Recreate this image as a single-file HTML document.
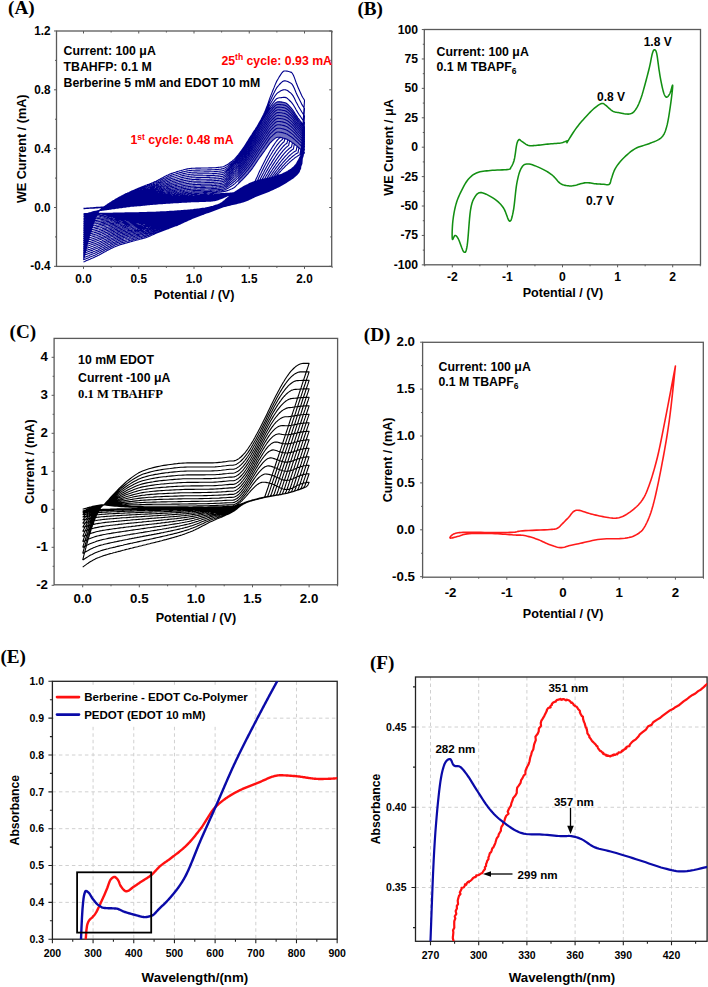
<!DOCTYPE html>
<html><head><meta charset="utf-8"><style>
html,body{margin:0;padding:0;background:#fff;}
body{width:708px;height:987px;overflow:hidden;font-family:"Liberation Sans", sans-serif;}
svg{display:block;}
</style></head><body>
<svg width="708" height="987" viewBox="0 0 708 987">
<rect width="708" height="987" fill="#fff"/>
<path d="M238.2 160.2L239.3 158.9L240.4 157.5L241.5 156.1L242.6 154.6L243.7 153.0L244.8 151.3L245.9 149.5L247.0 147.7L248.1 145.8L249.2 143.8L250.3 141.9L251.3 140.0L252.4 138.2L253.5 136.2L254.6 134.3L255.7 132.4L256.8 130.4L257.9 128.5L259.0 126.6L260.1 124.7L261.2 122.8L262.3 121.0L263.4 119.3L264.5 117.4L265.6 115.6L266.7 113.8L267.8 112.0L268.9 110.4L270.0 109.0L271.1 107.7L272.2 106.7L273.3 105.6L274.4 104.6L275.5 103.6L276.5 102.7L277.6 102.0L278.7 101.5L279.8 101.3L280.9 101.3L282.0 101.5L283.1 101.9L284.2 102.4L285.3 103.0L286.4 103.6L287.5 104.3L288.6 105.0L289.7 106.1L290.8 107.4L291.9 109.0L293.0 110.6L294.1 112.3L295.2 114.0L296.3 115.6L297.4 117.1L298.5 118.6L299.6 120.0L300.7 121.5L301.7 122.9L302.8 124.4L302.8 151.4L301.7 150.3L300.7 149.4L299.6 148.4L298.5 147.4L297.4 146.5L296.3 145.5L295.2 144.6L294.1 143.8L293.0 143.0L291.9 142.3L290.8 141.5L289.7 140.8L288.6 140.1L287.5 139.5L286.4 139.0L285.3 138.7L284.2 138.4L283.1 138.1L282.0 137.8L280.9 137.5L279.8 137.3L278.7 137.2L277.6 137.2L276.5 137.4L275.5 138.1L274.4 138.9L273.3 139.8L272.2 140.8L271.1 142.0L270.0 143.4L268.9 144.9L267.8 146.4L266.7 147.9L265.6 149.4L264.5 150.9L263.4 152.4L262.3 153.9L261.2 155.4L260.1 157.0L259.0 158.5L257.9 160.1L256.8 161.6L255.7 163.3L254.6 164.9L253.5 166.5L252.4 168.1L251.3 169.6L250.3 171.0L249.2 172.3L248.1 173.6L247.0 174.8L245.9 176.0L244.8 177.2L243.7 178.4L242.6 179.5L241.5 180.6L240.4 181.7L239.3 182.7L238.2 183.7Z" fill="#00008c" fill-opacity="0.55" stroke="none"/><path d="M83.5 208.4L84.7 208.3L85.9 208.2L87.0 208.1L88.2 208.0L89.4 208.0L90.6 207.9L91.8 207.8L92.9 207.7L94.1 207.6L95.3 207.5L96.5 207.4L97.6 207.3L98.8 207.3L100.0 207.2L101.2 207.1L102.1 207.1L103.0 207.0L104.0 206.9L104.9 206.8L105.8 206.7L106.8 206.7L107.7 206.6L108.6 206.6L109.5 206.5L110.5 206.5L111.4 206.5L112.3 206.4L113.2 206.4L114.2 206.4L115.1 206.4L116.0 206.4L117.0 206.4L117.9 206.4L118.8 206.4L119.7 206.4L120.7 206.4L121.6 206.4L122.5 206.4L123.5 206.4L124.4 206.4L125.3 206.4L126.2 206.4L127.2 206.3L128.1 206.3L129.0 206.3L130.0 206.3L130.9 206.2L131.8 206.2L132.7 206.1L133.7 206.1L134.6 206.0L135.5 206.0L136.5 205.9L137.4 205.8L138.3 205.7L139.2 205.7L140.2 205.6L141.1 205.5L142.0 205.4L143.0 205.3L143.9 205.2L144.8 205.1L145.7 205.0L146.7 204.9L147.6 204.8L148.5 204.7L149.5 204.6L150.4 204.5L151.3 204.5L152.2 204.4L153.2 204.3L154.1 204.2L155.0 204.1L156.0 204.1L156.9 204.0L157.8 203.9L158.7 203.8L159.7 203.8L160.6 203.7L161.5 203.6L162.5 203.6L163.4 203.5L164.3 203.4L165.2 203.4L166.2 203.3L167.1 203.3L168.0 203.2L169.0 203.1L169.9 203.1L170.8 203.0L171.7 203.0L172.7 202.9L173.6 202.8L174.5 202.8L175.5 202.7L176.4 202.7L177.3 202.6L178.2 202.6L179.2 202.5L180.1 202.4L181.0 202.4L182.0 202.3L182.9 202.3L183.8 202.2L184.7 202.2L185.7 202.1L186.6 202.1L187.5 202.0L188.4 202.0L189.4 201.9L190.3 201.9L191.2 201.8L192.2 201.8L193.1 201.8L194.0 201.7L194.9 201.7L195.9 201.6L196.8 201.6L197.7 201.6L198.7 201.6L199.6 201.5L200.5 201.5L201.4 201.5L202.4 201.5L203.3 201.4L204.2 201.4L205.2 201.4L206.1 201.3L207.0 201.3L207.9 201.3L208.9 201.2L209.8 201.2L210.7 201.1L211.7 201.0L212.6 200.9L213.5 200.8L214.4 200.6L215.4 200.4L216.3 200.2L217.2 199.9L218.2 199.6L219.1 199.3L220.0 199.0L220.9 198.6L221.9 198.3L222.8 197.9L223.7 197.5L224.7 197.1L225.6 196.7L226.5 196.3L227.4 195.8L228.4 195.4L229.3 194.9L230.2 194.5L231.2 194.0L232.1 193.6L233.0 193.2L233.9 192.7L234.9 192.2L235.8 191.7L236.7 191.1L237.7 190.5L238.6 189.9L239.5 189.3L240.4 188.7L241.4 188.1L242.3 187.5L243.2 187.0L244.2 186.5L245.1 185.9L246.0 185.4L246.9 184.9L247.9 184.4L248.8 184.0L249.7 183.5L250.7 183.1L251.6 182.8L252.5 182.4L253.4 182.1L254.4 181.7L255.3 181.4L256.2 181.1L257.2 180.8L258.1 180.6L259.0 180.3L259.9 180.1L260.9 179.9L261.8 179.6L262.7 179.5L263.7 179.3L264.6 179.1L265.5 178.9L266.4 178.7L267.4 178.5L268.3 178.2L269.2 178.0L270.1 177.8L271.1 177.5L272.0 177.3L272.9 177.0L273.9 176.8L274.8 176.5L275.7 176.2L276.6 175.6L277.6 174.5L278.5 173.5L279.4 172.5L280.4 171.5L281.3 170.5L282.2 169.5L283.1 168.5L284.1 167.6L285.0 166.6L285.9 165.7L286.9 164.8L287.8 163.9L288.7 163.1L289.6 162.2L290.6 161.4L291.5 160.6L292.4 159.8L293.4 159.1L294.3 158.3L295.2 157.6L296.1 157.0L297.1 156.4L298.0 155.8L298.9 155.3L299.9 154.8L300.8 149.5L301.7 150.3L302.6 151.2L303.6 152.0L304.5 152.9L303.2 151.2L301.9 153.7L300.6 156.1L299.3 158.4L298.0 160.9L296.7 163.2L295.3 165.2L294.0 166.6L292.7 167.8L291.4 168.9L290.1 169.8L288.8 170.6L287.5 171.4L286.2 172.1L284.9 172.7L283.6 173.3L282.3 173.9L281.0 174.4L279.7 174.9L278.3 175.4L277.0 175.8L275.7 176.2L274.4 176.6L273.1 177.0L271.8 177.4L270.5 177.7L269.2 178.0L267.9 178.3L266.6 178.6L265.3 178.9L264.0 179.2L262.7 179.5L261.3 179.8L260.0 180.1L258.7 180.4L257.4 180.7L256.1 181.1L254.8 181.5L253.5 182.0L252.2 182.5L250.9 183.0L249.6 183.6L248.3 184.3L247.0 184.9L245.7 185.6L244.3 186.3L243.0 187.1L241.7 187.9L240.4 188.6L239.1 189.4L237.8 190.2L236.5 191.1L235.2 191.9L233.9 192.7L232.6 193.6L231.3 194.6L230.0 195.7L228.7 196.9L227.3 198.1L226.0 199.2L224.7 200.4L223.4 201.5L222.1 202.5L220.8 203.3L219.5 204.1L218.2 204.6L216.9 205.0L215.6 205.4L214.3 205.8L213.0 206.2L211.7 206.5L210.3 206.9L209.0 207.2L207.7 207.5L206.4 207.7L205.1 208.0L203.8 208.2L202.5 208.4L201.2 208.6L199.9 208.8L198.6 209.0L197.3 209.1L196.0 209.3L194.7 209.4L193.3 209.6L192.0 209.7L190.7 209.8L189.4 210.0L188.1 210.1L186.8 210.2L185.5 210.3L184.2 210.4L182.9 210.5L181.6 210.6L180.3 210.7L179.0 210.8L177.7 210.9L176.3 211.0L175.0 211.1L173.7 211.2L172.4 211.3L171.1 211.4L169.8 211.4L168.5 211.5L167.2 211.6L165.9 211.7L164.6 211.7L163.3 211.8L162.0 211.9L160.7 211.9L159.3 212.0L158.0 212.0L156.7 212.1L155.4 212.2L154.1 212.2L152.8 212.3L151.5 212.3L150.2 212.3L148.9 212.4L147.6 212.4L146.3 212.5L145.0 212.5L143.7 212.5L142.3 212.6L141.0 212.6L139.7 212.6L138.4 212.7L137.1 212.7L135.8 212.7L134.5 212.8L133.2 212.8L131.9 212.8L130.6 212.8L129.3 212.9L128.0 212.9L126.7 212.9L125.3 212.9L124.0 213.0L122.7 213.0L121.4 213.0L120.1 213.0L118.8 213.1L117.5 213.1L116.2 213.1L114.9 213.1L113.6 213.1L112.3 213.2L111.0 213.2L109.7 213.2L108.3 213.2L107.0 213.2L105.7 213.2L104.4 213.2L103.1 213.3L101.8 213.3L100.5 213.3L99.2 213.3L97.9 213.3L96.6 213.3L95.3 213.4L94.0 213.4L92.7 213.4L91.3 213.5L90.0 213.5L88.7 213.5L87.4 213.6L86.1 213.6L84.8 213.6L83.5 213.7M83.5 208.7L84.7 208.6L85.9 208.5L87.0 208.5L88.2 208.4L89.4 208.3L90.6 208.3L91.8 208.2L92.9 208.1L94.1 208.1L95.3 208.0L96.5 207.9L97.6 207.9L98.8 207.8L100.0 207.7L101.2 207.7L102.1 207.7L103.0 207.5L104.0 207.4L104.9 207.4L105.8 207.3L106.8 207.2L107.7 207.1L108.6 207.0L109.5 207.0L110.5 206.9L111.4 206.9L112.3 206.8L113.2 206.8L114.2 206.8L115.1 206.7L116.0 206.7L117.0 206.7L117.9 206.7L118.8 206.6L119.7 206.6L120.7 206.6L121.6 206.6L122.5 206.5L123.5 206.5L124.4 206.5L125.3 206.4L126.2 206.4L127.2 206.4L128.1 206.3L129.0 206.3L130.0 206.2L130.9 206.2L131.8 206.1L132.7 206.1L133.7 206.0L134.6 205.9L135.5 205.9L136.5 205.8L137.4 205.7L138.3 205.6L139.2 205.5L140.2 205.4L141.1 205.3L142.0 205.2L143.0 205.1L143.9 205.0L144.8 204.9L145.7 204.8L146.7 204.7L147.6 204.6L148.5 204.5L149.5 204.5L150.4 204.4L151.3 204.3L152.2 204.2L153.2 204.1L154.1 204.0L155.0 204.0L156.0 203.9L156.9 203.8L157.8 203.7L158.7 203.6L159.7 203.6L160.6 203.5L161.5 203.4L162.5 203.4L163.4 203.3L164.3 203.2L165.2 203.2L166.2 203.1L167.1 203.0L168.0 203.0L169.0 202.9L169.9 202.8L170.8 202.8L171.7 202.7L172.7 202.7L173.6 202.6L174.5 202.5L175.5 202.5L176.4 202.4L177.3 202.4L178.2 202.3L179.2 202.2L180.1 202.2L181.0 202.1L182.0 202.1L182.9 202.0L183.8 202.0L184.7 201.9L185.7 201.9L186.6 201.8L187.5 201.8L188.4 201.7L189.4 201.7L190.3 201.6L191.2 201.6L192.2 201.5L193.1 201.5L194.0 201.5L194.9 201.4L195.9 201.4L196.8 201.3L197.7 201.3L198.7 201.3L199.6 201.3L200.5 201.2L201.4 201.2L202.4 201.2L203.3 201.2L204.2 201.1L205.2 201.1L206.1 201.1L207.0 201.0L207.9 201.0L208.9 201.0L209.8 200.9L210.7 200.8L211.7 200.8L212.6 200.7L213.5 200.5L214.4 200.3L215.4 200.1L216.3 199.9L217.2 199.7L218.2 199.4L219.1 199.1L220.0 198.8L220.9 198.5L221.9 198.1L222.8 197.8L223.7 197.4L224.7 197.0L225.6 196.6L226.5 196.2L227.4 195.8L228.4 195.3L229.3 194.9L230.2 194.5L231.2 194.0L232.1 193.6L233.0 193.1L233.9 192.7L234.9 192.2L235.8 191.7L236.7 191.1L237.7 190.5L238.6 189.9L239.5 189.3L240.4 188.6L241.4 188.1L242.3 187.5L243.2 187.0L244.2 186.5L245.1 185.9L246.0 185.4L246.9 184.9L247.9 184.4L248.8 184.0L249.7 183.6L250.7 183.2L251.6 182.8L252.5 182.4L253.4 182.1L254.4 181.7L255.3 181.4L256.2 181.1L257.2 180.8L258.1 180.5L259.0 180.3L259.9 180.1L260.9 179.9L261.8 179.7L262.7 179.5L263.7 179.3L264.6 179.1L265.5 178.9L266.4 178.7L267.4 178.4L268.3 178.2L269.2 178.0L270.1 177.7L271.1 177.5L272.0 177.3L272.9 177.0L273.9 176.8L274.8 175.6L275.7 174.4L276.6 173.3L277.6 172.2L278.5 171.0L279.4 169.9L280.4 168.8L281.3 167.8L282.2 166.7L283.1 165.7L284.1 164.7L285.0 163.7L285.9 162.7L286.9 161.7L287.8 160.8L288.7 159.9L289.6 159.0L290.6 158.2L291.5 157.3L292.4 156.5L293.4 155.8L294.3 155.1L295.2 154.4L296.1 153.8L297.1 153.2L298.0 152.8L298.9 147.8L299.9 148.7L300.8 149.5L301.7 150.3L302.6 151.2L303.6 152.0L304.5 152.9L303.2 151.3L301.9 153.8L300.6 156.3L299.3 158.6L298.0 161.1L296.7 163.4L295.3 165.3L294.0 166.7L292.7 168.0L291.4 169.0L290.1 169.9L288.8 170.8L287.5 171.5L286.2 172.2L284.9 172.9L283.6 173.5L282.3 174.0L281.0 174.5L279.7 175.0L278.3 175.5L277.0 176.0L275.7 176.4L274.4 176.8L273.1 177.2L271.8 177.5L270.5 177.9L269.2 178.2L267.9 178.5L266.6 178.8L265.3 179.1L264.0 179.4L262.7 179.7L261.3 179.9L260.0 180.2L258.7 180.6L257.4 180.9L256.1 181.3L254.8 181.7L253.5 182.2L252.2 182.7L250.9 183.3L249.6 183.8L248.3 184.5L247.0 185.1L245.7 185.8L244.3 186.5L243.0 187.3L241.7 188.0L240.4 188.8L239.1 189.6L237.8 190.4L236.5 191.2L235.2 192.1L233.9 192.9L232.6 193.8L231.3 194.7L230.0 195.8L228.7 197.0L227.3 198.2L226.0 199.3L224.7 200.5L223.4 201.5L222.1 202.5L220.8 203.4L219.5 204.1L218.2 204.7L216.9 205.1L215.6 205.5L214.3 205.9L213.0 206.3L211.7 206.6L210.3 206.9L209.0 207.2L207.7 207.5L206.4 207.8L205.1 208.1L203.8 208.3L202.5 208.5L201.2 208.7L199.9 208.9L198.6 209.1L197.3 209.2L196.0 209.4L194.7 209.5L193.3 209.7L192.0 209.8L190.7 209.9L189.4 210.1L188.1 210.2L186.8 210.3L185.5 210.5L184.2 210.6L182.9 210.7L181.6 210.8L180.3 210.9L179.0 211.0L177.7 211.1L176.3 211.2L175.0 211.3L173.7 211.4L172.4 211.5L171.1 211.6L169.8 211.7L168.5 211.7L167.2 211.8L165.9 211.9L164.6 212.0L163.3 212.0L162.0 212.1L160.7 212.2L159.3 212.2L158.0 212.3L156.7 212.4L155.4 212.4L154.1 212.5L152.8 212.5L151.5 212.6L150.2 212.6L148.9 212.7L147.6 212.7L146.3 212.8L145.0 212.8L143.7 212.9L142.3 212.9L141.0 213.0L139.7 213.0L138.4 213.0L137.1 213.1L135.8 213.1L134.5 213.2L133.2 213.2L131.9 213.2L130.6 213.3L129.3 213.3L128.0 213.4L126.7 213.4L125.3 213.4L124.0 213.5L122.7 213.5L121.4 213.6L120.1 213.6L118.8 213.7L117.5 213.7L116.2 213.7L114.9 213.8L113.6 213.8L112.3 213.9L111.0 213.9L109.7 214.0L108.3 214.0L107.0 214.1L105.7 214.1L104.4 214.2L103.1 214.2L101.8 214.3L100.5 214.3L99.2 214.4L97.9 214.4L96.6 214.5L95.3 214.5L94.0 214.6L92.7 214.7L91.3 214.7L90.0 214.8L88.7 214.8L87.4 214.9L86.1 215.0L84.8 215.0L83.5 215.1M83.5 215.1L84.7 214.6L85.9 214.2L87.0 213.7L88.2 213.3L89.4 212.9L90.6 212.6L91.8 212.2L92.9 211.9L94.1 211.6L95.3 211.3L96.5 211.1L97.6 210.8L98.8 210.6L100.0 210.5L101.2 210.4L102.1 210.3L103.0 210.1L104.0 210.0L104.9 209.9L105.8 209.7L106.8 209.6L107.7 209.5L108.6 209.4L109.5 209.2L110.5 209.1L111.4 209.0L112.3 208.8L113.2 208.7L114.2 208.6L115.1 208.5L116.0 208.3L117.0 208.2L117.9 208.1L118.8 208.0L119.7 207.8L120.7 207.7L121.6 207.6L122.5 207.5L123.5 207.3L124.4 207.2L125.3 207.1L126.2 207.0L127.2 206.8L128.1 206.7L129.0 206.6L130.0 206.4L130.9 206.3L131.8 206.2L132.7 206.1L133.7 205.9L134.6 205.8L135.5 205.7L136.5 205.6L137.4 205.5L138.3 205.4L139.2 205.3L140.2 205.1L141.1 205.0L142.0 204.9L143.0 204.8L143.9 204.7L144.8 204.6L145.7 204.5L146.7 204.4L147.6 204.3L148.5 204.2L149.5 204.2L150.4 204.1L151.3 204.0L152.2 203.9L153.2 203.8L154.1 203.7L155.0 203.6L156.0 203.5L156.9 203.5L157.8 203.4L158.7 203.3L159.7 203.2L160.6 203.1L161.5 203.1L162.5 203.0L163.4 202.9L164.3 202.8L165.2 202.8L166.2 202.7L167.1 202.6L168.0 202.5L169.0 202.5L169.9 202.4L170.8 202.3L171.7 202.3L172.7 202.2L173.6 202.2L174.5 202.1L175.5 202.0L176.4 202.0L177.3 201.9L178.2 201.8L179.2 201.8L180.1 201.7L181.0 201.7L182.0 201.6L182.9 201.6L183.8 201.5L184.7 201.4L185.7 201.4L186.6 201.3L187.5 201.3L188.4 201.2L189.4 201.2L190.3 201.1L191.2 201.1L192.2 201.0L193.1 201.0L194.0 201.0L194.9 200.9L195.9 200.9L196.8 200.9L197.7 200.8L198.7 200.8L199.6 200.8L200.5 200.8L201.4 200.7L202.4 200.7L203.3 200.7L204.2 200.6L205.2 200.6L206.1 200.6L207.0 200.6L207.9 200.5L208.9 200.5L209.8 200.4L210.7 200.4L211.7 200.3L212.6 200.2L213.5 200.0L214.4 199.9L215.4 199.7L216.3 199.5L217.2 199.3L218.2 199.0L219.1 198.7L220.0 198.5L220.9 198.1L221.9 197.8L222.8 197.5L223.7 197.1L224.7 196.8L225.6 196.4L226.5 196.0L227.4 195.6L228.4 195.2L229.3 194.8L230.2 194.4L231.2 194.0L232.1 193.6L233.0 193.1L233.9 192.7L234.9 192.2L235.8 191.7L236.7 191.1L237.7 190.5L238.6 189.9L239.5 189.2L240.4 188.6L241.4 188.1L242.3 187.5L243.2 187.0L244.2 186.5L245.1 185.9L246.0 185.4L246.9 184.9L247.9 184.5L248.8 184.0L249.7 183.6L250.7 183.2L251.6 182.8L252.5 182.4L253.4 182.0L254.4 181.7L255.3 181.4L256.2 181.1L257.2 180.8L258.1 180.6L259.0 180.3L259.9 180.1L260.9 179.9L261.8 179.7L262.7 179.5L263.7 179.3L264.6 179.0L265.5 178.8L266.4 178.6L267.4 178.4L268.3 178.2L269.2 178.0L270.1 177.8L271.1 177.6L272.0 176.7L272.9 175.5L273.9 174.2L274.8 172.9L275.7 171.7L276.6 170.5L277.6 169.3L278.5 168.1L279.4 166.9L280.4 165.7L281.3 164.6L282.2 163.5L283.1 162.4L284.1 161.3L285.0 160.3L285.9 159.3L286.9 158.3L287.8 157.3L288.7 156.4L289.6 155.5L290.6 154.7L291.5 153.9L292.4 153.1L293.4 152.4L294.3 151.7L295.2 151.2L296.1 150.8L297.1 146.2L298.0 147.0L298.9 147.8L299.9 148.7L300.8 149.5L301.7 150.3L302.6 151.2L303.6 152.0L304.5 152.9L303.2 151.5L301.9 154.1L300.6 156.5L299.3 158.9L298.0 161.3L296.7 163.6L295.3 165.5L294.0 167.0L292.7 168.2L291.4 169.2L290.1 170.1L288.8 171.0L287.5 171.7L286.2 172.4L284.9 173.1L283.6 173.7L282.3 174.2L281.0 174.8L279.7 175.3L278.3 175.7L277.0 176.2L275.7 176.6L274.4 177.0L273.1 177.4L271.8 177.8L270.5 178.1L269.2 178.5L267.9 178.8L266.6 179.1L265.3 179.4L264.0 179.7L262.7 179.9L261.3 180.2L260.0 180.5L258.7 180.9L257.4 181.2L256.1 181.6L254.8 182.0L253.5 182.5L252.2 183.0L250.9 183.6L249.6 184.2L248.3 184.8L247.0 185.4L245.7 186.1L244.3 186.8L243.0 187.6L241.7 188.3L240.4 189.1L239.1 189.9L237.8 190.7L236.5 191.5L235.2 192.3L233.9 193.1L232.6 194.0L231.3 195.0L230.0 196.0L228.7 197.2L227.3 198.3L226.0 199.5L224.7 200.6L223.4 201.7L222.1 202.6L220.8 203.5L219.5 204.2L218.2 204.7L216.9 205.2L215.6 205.6L214.3 206.0L213.0 206.4L211.7 206.7L210.3 207.0L209.0 207.3L207.7 207.6L206.4 207.9L205.1 208.2L203.8 208.4L202.5 208.6L201.2 208.8L199.9 209.0L198.6 209.2L197.3 209.4L196.0 209.5L194.7 209.7L193.3 209.8L192.0 210.0L190.7 210.1L189.4 210.3L188.1 210.4L186.8 210.5L185.5 210.7L184.2 210.8L182.9 210.9L181.6 211.1L180.3 211.2L179.0 211.3L177.7 211.4L176.3 211.5L175.0 211.6L173.7 211.7L172.4 211.8L171.1 211.9L169.8 212.0L168.5 212.1L167.2 212.2L165.9 212.3L164.6 212.3L163.3 212.4L162.0 212.5L160.7 212.6L159.3 212.6L158.0 212.7L156.7 212.8L155.4 212.9L154.1 212.9L152.8 213.0L151.5 213.1L150.2 213.1L148.9 213.2L147.6 213.2L146.3 213.3L145.0 213.3L143.7 213.4L142.3 213.5L141.0 213.5L139.7 213.6L138.4 213.6L137.1 213.7L135.8 213.7L134.5 213.8L133.2 213.8L131.9 213.9L130.6 213.9L129.3 214.0L128.0 214.0L126.7 214.1L125.3 214.2L124.0 214.2L122.7 214.3L121.4 214.3L120.1 214.4L118.8 214.5L117.5 214.5L116.2 214.6L114.9 214.7L113.6 214.8L112.3 214.8L111.0 214.9L109.7 215.0L108.3 215.1L107.0 215.2L105.7 215.2L104.4 215.3L103.1 215.4L101.8 215.5L100.5 215.6L99.2 215.7L97.9 215.8L96.6 215.8L95.3 215.9L94.0 216.0L92.7 216.1L91.3 216.2L90.0 216.3L88.7 216.4L87.4 216.4L86.1 216.5L84.8 216.6L83.5 216.7M83.5 216.7L84.7 216.1L85.9 215.5L87.0 214.9L88.2 214.3L89.4 213.8L90.6 213.3L91.8 212.8L92.9 212.4L94.1 212.0L95.3 211.6L96.5 211.2L97.6 210.9L98.8 210.7L100.0 210.5L101.2 210.4L102.1 210.2L103.0 210.1L104.0 209.9L104.9 209.8L105.8 209.7L106.8 209.5L107.7 209.4L108.6 209.2L109.5 209.1L110.5 209.0L111.4 208.8L112.3 208.7L113.2 208.6L114.2 208.4L115.1 208.3L116.0 208.2L117.0 208.0L117.9 207.9L118.8 207.8L119.7 207.6L120.7 207.5L121.6 207.4L122.5 207.2L123.5 207.1L124.4 207.0L125.3 206.8L126.2 206.7L127.2 206.6L128.1 206.4L129.0 206.3L130.0 206.2L130.9 206.0L131.8 205.9L132.7 205.8L133.7 205.6L134.6 205.5L135.5 205.4L136.5 205.3L137.4 205.2L138.3 205.0L139.2 204.9L140.2 204.8L141.1 204.7L142.0 204.6L143.0 204.5L143.9 204.4L144.8 204.3L145.7 204.2L146.7 204.1L147.6 204.0L148.5 203.9L149.5 203.8L150.4 203.7L151.3 203.6L152.2 203.5L153.2 203.4L154.1 203.3L155.0 203.2L156.0 203.1L156.9 203.0L157.8 202.9L158.7 202.8L159.7 202.8L160.6 202.7L161.5 202.6L162.5 202.5L163.4 202.4L164.3 202.3L165.2 202.2L166.2 202.2L167.1 202.1L168.0 202.0L169.0 201.9L169.9 201.9L170.8 201.8L171.7 201.7L172.7 201.7L173.6 201.6L174.5 201.5L175.5 201.5L176.4 201.4L177.3 201.3L178.2 201.3L179.2 201.2L180.1 201.1L181.0 201.1L182.0 201.0L182.9 200.9L183.8 200.9L184.7 200.8L185.7 200.8L186.6 200.7L187.5 200.7L188.4 200.6L189.4 200.6L190.3 200.5L191.2 200.5L192.2 200.4L193.1 200.4L194.0 200.3L194.9 200.3L195.9 200.3L196.8 200.2L197.7 200.2L198.7 200.2L199.6 200.1L200.5 200.1L201.4 200.1L202.4 200.1L203.3 200.0L204.2 200.0L205.2 200.0L206.1 200.0L207.0 199.9L207.9 199.9L208.9 199.8L209.8 199.8L210.7 199.7L211.7 199.7L212.6 199.6L213.5 199.4L214.4 199.3L215.4 199.1L216.3 198.9L217.2 198.7L218.2 198.5L219.1 198.3L220.0 198.0L220.9 197.7L221.9 197.4L222.8 197.1L223.7 196.8L224.7 196.5L225.6 196.1L226.5 195.8L227.4 195.4L228.4 195.1L229.3 194.7L230.2 194.3L231.2 193.9L232.1 193.5L233.0 193.1L233.9 192.7L234.9 192.3L235.8 191.7L236.7 191.1L237.7 190.5L238.6 189.9L239.5 189.2L240.4 188.6L241.4 188.1L242.3 187.5L243.2 187.0L244.2 186.4L245.1 185.9L246.0 185.4L246.9 184.9L247.9 184.5L248.8 184.0L249.7 183.6L250.7 183.2L251.6 182.8L252.5 182.4L253.4 182.0L254.4 181.7L255.3 181.4L256.2 181.1L257.2 180.8L258.1 180.6L259.0 180.3L259.9 180.1L260.9 179.9L261.8 179.7L262.7 179.4L263.7 179.2L264.6 179.0L265.5 178.8L266.4 178.6L267.4 178.4L268.3 178.2L269.2 177.9L270.1 176.5L271.1 175.1L272.0 173.7L272.9 172.4L273.9 171.0L274.8 169.7L275.7 168.4L276.6 167.1L277.6 165.9L278.5 164.6L279.4 163.4L280.4 162.2L281.3 161.0L282.2 159.9L283.1 158.8L284.1 157.7L285.0 156.6L285.9 155.6L286.9 154.6L287.8 153.6L288.7 152.7L289.6 151.9L290.6 151.0L291.5 150.3L292.4 149.6L293.4 149.1L294.3 144.0L295.2 144.7L296.1 145.4L297.1 146.2L298.0 147.0L298.9 147.8L299.9 148.7L300.8 149.5L301.7 150.3L302.6 151.2L303.6 152.0L304.5 152.9L303.2 151.8L301.9 154.4L300.6 156.8L299.3 159.2L298.0 161.6L296.7 163.9L295.3 165.8L294.0 167.2L292.7 168.4L291.4 169.5L290.1 170.4L288.8 171.2L287.5 172.0L286.2 172.7L284.9 173.3L283.6 173.9L282.3 174.5L281.0 175.0L279.7 175.5L278.3 176.0L277.0 176.5L275.7 176.9L274.4 177.3L273.1 177.7L271.8 178.1L270.5 178.5L269.2 178.8L267.9 179.1L266.6 179.4L265.3 179.7L264.0 180.0L262.7 180.3L261.3 180.6L260.0 180.9L258.7 181.2L257.4 181.6L256.1 182.0L254.8 182.4L253.5 182.9L252.2 183.4L250.9 183.9L249.6 184.5L248.3 185.2L247.0 185.8L245.7 186.5L244.3 187.2L243.0 187.9L241.7 188.7L240.4 189.4L239.1 190.2L237.8 191.0L236.5 191.8L235.2 192.6L233.9 193.4L232.6 194.2L231.3 195.2L230.0 196.3L228.7 197.4L227.3 198.5L226.0 199.6L224.7 200.7L223.4 201.8L222.1 202.7L220.8 203.6L219.5 204.3L218.2 204.8L216.9 205.3L215.6 205.7L214.3 206.1L213.0 206.5L211.7 206.8L210.3 207.1L209.0 207.5L207.7 207.8L206.4 208.0L205.1 208.3L203.8 208.5L202.5 208.8L201.2 209.0L199.9 209.2L198.6 209.4L197.3 209.6L196.0 209.7L194.7 209.9L193.3 210.1L192.0 210.2L190.7 210.4L189.4 210.5L188.1 210.7L186.8 210.8L185.5 210.9L184.2 211.1L182.9 211.2L181.6 211.4L180.3 211.5L179.0 211.6L177.7 211.7L176.3 211.9L175.0 212.0L173.7 212.1L172.4 212.2L171.1 212.3L169.8 212.4L168.5 212.5L167.2 212.6L165.9 212.7L164.6 212.8L163.3 212.9L162.0 213.0L160.7 213.0L159.3 213.1L158.0 213.2L156.7 213.3L155.4 213.4L154.1 213.5L152.8 213.5L151.5 213.6L150.2 213.7L148.9 213.8L147.6 213.8L146.3 213.9L145.0 214.0L143.7 214.0L142.3 214.1L141.0 214.2L139.7 214.2L138.4 214.3L137.1 214.3L135.8 214.4L134.5 214.5L133.2 214.5L131.9 214.6L130.6 214.7L129.3 214.8L128.0 214.8L126.7 214.9L125.3 215.0L124.0 215.1L122.7 215.1L121.4 215.2L120.1 215.3L118.8 215.4L117.5 215.5L116.2 215.6L114.9 215.7L113.6 215.8L112.3 215.9L111.0 216.0L109.7 216.1L108.3 216.2L107.0 216.3L105.7 216.5L104.4 216.6L103.1 216.7L101.8 216.8L100.5 216.9L99.2 217.1L97.9 217.2L96.6 217.3L95.3 217.4L94.0 217.5L92.7 217.6L91.3 217.7L90.0 217.9L88.7 218.0L87.4 218.1L86.1 218.2L84.8 218.3L83.5 218.4M83.5 218.4L84.7 217.6L85.9 216.8L87.0 216.1L88.2 215.4L89.4 214.7L90.6 214.1L91.8 213.5L92.9 212.9L94.1 212.4L95.3 211.9L96.5 211.5L97.6 211.1L98.8 210.7L100.0 210.5L101.2 210.3L102.1 210.2L103.0 210.0L104.0 209.9L104.9 209.7L105.8 209.6L106.8 209.4L107.7 209.3L108.6 209.1L109.5 209.0L110.5 208.8L111.4 208.7L112.3 208.5L113.2 208.4L114.2 208.2L115.1 208.1L116.0 207.9L117.0 207.8L117.9 207.7L118.8 207.5L119.7 207.4L120.7 207.2L121.6 207.1L122.5 207.0L123.5 206.8L124.4 206.7L125.3 206.5L126.2 206.4L127.2 206.3L128.1 206.1L129.0 206.0L130.0 205.8L130.9 205.7L131.8 205.6L132.7 205.4L133.7 205.3L134.6 205.2L135.5 205.0L136.5 204.9L137.4 204.8L138.3 204.6L139.2 204.5L140.2 204.4L141.1 204.3L142.0 204.2L143.0 204.1L143.9 203.9L144.8 203.8L145.7 203.7L146.7 203.6L147.6 203.5L148.5 203.4L149.5 203.3L150.4 203.2L151.3 203.1L152.2 203.0L153.2 202.9L154.1 202.8L155.0 202.7L156.0 202.6L156.9 202.5L157.8 202.4L158.7 202.3L159.7 202.2L160.6 202.1L161.5 202.0L162.5 201.9L163.4 201.8L164.3 201.7L165.2 201.6L166.2 201.6L167.1 201.5L168.0 201.4L169.0 201.3L169.9 201.2L170.8 201.1L171.7 201.1L172.7 201.0L173.6 200.9L174.5 200.8L175.5 200.8L176.4 200.7L177.3 200.6L178.2 200.6L179.2 200.5L180.1 200.4L181.0 200.4L182.0 200.3L182.9 200.2L183.8 200.2L184.7 200.1L185.7 200.0L186.6 200.0L187.5 199.9L188.4 199.9L189.4 199.8L190.3 199.8L191.2 199.7L192.2 199.7L193.1 199.6L194.0 199.6L194.9 199.5L195.9 199.5L196.8 199.5L197.7 199.4L198.7 199.4L199.6 199.4L200.5 199.4L201.4 199.3L202.4 199.3L203.3 199.3L204.2 199.3L205.2 199.2L206.1 199.2L207.0 199.2L207.9 199.1L208.9 199.1L209.8 199.0L210.7 199.0L211.7 198.9L212.6 198.8L213.5 198.7L214.4 198.6L215.4 198.4L216.3 198.3L217.2 198.1L218.2 197.9L219.1 197.7L220.0 197.5L220.9 197.2L221.9 197.0L222.8 196.7L223.7 196.4L224.7 196.1L225.6 195.8L226.5 195.5L227.4 195.2L228.4 194.9L229.3 194.5L230.2 194.2L231.2 193.8L232.1 193.5L233.0 193.1L233.9 192.7L234.9 192.3L235.8 191.7L236.7 191.1L237.7 190.5L238.6 189.8L239.5 189.2L240.4 188.6L241.4 188.1L242.3 187.5L243.2 187.0L244.2 186.4L245.1 185.9L246.0 185.4L246.9 184.9L247.9 184.5L248.8 184.0L249.7 183.6L250.7 183.2L251.6 182.7L252.5 182.4L253.4 182.0L254.4 181.7L255.3 181.4L256.2 181.1L257.2 180.8L258.1 180.6L259.0 180.3L259.9 180.1L260.9 179.9L261.8 179.6L262.7 179.4L263.7 179.2L264.6 179.0L265.5 178.8L266.4 178.7L267.4 177.6L268.3 176.1L269.2 174.6L270.1 173.1L271.1 171.7L272.0 170.2L272.9 168.8L273.9 167.4L274.8 166.1L275.7 164.7L276.6 163.4L277.6 162.1L278.5 160.8L279.4 159.5L280.4 158.3L281.3 157.1L282.2 155.9L283.1 154.8L284.1 153.7L285.0 152.7L285.9 151.7L286.9 150.7L287.8 149.8L288.7 149.0L289.6 148.2L290.6 147.5L291.5 147.1L292.4 142.7L293.4 143.3L294.3 144.0L295.2 144.7L296.1 145.4L297.1 146.2L298.0 147.0L298.9 147.8L299.9 148.7L300.8 149.5L301.7 150.3L302.6 151.2L303.6 152.0L304.5 152.9L303.2 152.1L301.9 154.8L300.6 157.2L299.3 159.6L298.0 161.9L296.7 164.2L295.3 166.1L294.0 167.5L292.7 168.7L291.4 169.7L290.1 170.7L288.8 171.5L287.5 172.3L286.2 173.0L284.9 173.6L283.6 174.2L282.3 174.8L281.0 175.3L279.7 175.8L278.3 176.3L277.0 176.8L275.7 177.2L274.4 177.6L273.1 178.0L271.8 178.4L270.5 178.8L269.2 179.1L267.9 179.5L266.6 179.8L265.3 180.1L264.0 180.4L262.7 180.7L261.3 181.0L260.0 181.3L258.7 181.6L257.4 182.0L256.1 182.4L254.8 182.8L253.5 183.3L252.2 183.8L250.9 184.4L249.6 185.0L248.3 185.6L247.0 186.2L245.7 186.9L244.3 187.6L243.0 188.3L241.7 189.1L240.4 189.8L239.1 190.6L237.8 191.4L236.5 192.1L235.2 192.9L233.9 193.7L232.6 194.5L231.3 195.5L230.0 196.5L228.7 197.6L227.3 198.7L226.0 199.8L224.7 200.9L223.4 201.9L222.1 202.9L220.8 203.7L219.5 204.4L218.2 204.9L216.9 205.4L215.6 205.8L214.3 206.2L213.0 206.6L211.7 206.9L210.3 207.3L209.0 207.6L207.7 207.9L206.4 208.2L205.1 208.5L203.8 208.7L202.5 208.9L201.2 209.2L199.9 209.4L198.6 209.6L197.3 209.8L196.0 209.9L194.7 210.1L193.3 210.3L192.0 210.4L190.7 210.6L189.4 210.8L188.1 210.9L186.8 211.1L185.5 211.3L184.2 211.4L182.9 211.6L181.6 211.7L180.3 211.8L179.0 212.0L177.7 212.1L176.3 212.3L175.0 212.4L173.7 212.5L172.4 212.6L171.1 212.7L169.8 212.8L168.5 213.0L167.2 213.1L165.9 213.2L164.6 213.3L163.3 213.4L162.0 213.5L160.7 213.6L159.3 213.7L158.0 213.8L156.7 213.9L155.4 214.0L154.1 214.1L152.8 214.1L151.5 214.2L150.2 214.3L148.9 214.4L147.6 214.5L146.3 214.6L145.0 214.7L143.7 214.7L142.3 214.8L141.0 214.9L139.7 215.0L138.4 215.0L137.1 215.1L135.8 215.2L134.5 215.3L133.2 215.3L131.9 215.4L130.6 215.5L129.3 215.6L128.0 215.7L126.7 215.8L125.3 215.9L124.0 216.0L122.7 216.1L121.4 216.2L120.1 216.3L118.8 216.4L117.5 216.5L116.2 216.6L114.9 216.7L113.6 216.9L112.3 217.0L111.0 217.1L109.7 217.3L108.3 217.4L107.0 217.6L105.7 217.7L104.4 217.9L103.1 218.0L101.8 218.2L100.5 218.3L99.2 218.5L97.9 218.6L96.6 218.8L95.3 218.9L94.0 219.1L92.7 219.2L91.3 219.4L90.0 219.5L88.7 219.6L87.4 219.8L86.1 219.9L84.8 220.0L83.5 220.1M83.5 220.1L84.7 219.1L85.9 218.2L87.0 217.3L88.2 216.5L89.4 215.6L90.6 214.9L91.8 214.1L92.9 213.4L94.1 212.8L95.3 212.2L96.5 211.7L97.6 211.2L98.8 210.8L100.0 210.5L101.2 210.3L102.1 210.1L103.0 210.0L104.0 209.8L104.9 209.6L105.8 209.5L106.8 209.3L107.7 209.1L108.6 209.0L109.5 208.8L110.5 208.6L111.4 208.5L112.3 208.3L113.2 208.2L114.2 208.0L115.1 207.9L116.0 207.7L117.0 207.6L117.9 207.4L118.8 207.2L119.7 207.1L120.7 206.9L121.6 206.8L122.5 206.7L123.5 206.5L124.4 206.4L125.3 206.2L126.2 206.1L127.2 205.9L128.1 205.8L129.0 205.6L130.0 205.5L130.9 205.3L131.8 205.2L132.7 205.0L133.7 204.9L134.6 204.7L135.5 204.6L136.5 204.5L137.4 204.3L138.3 204.2L139.2 204.1L140.2 203.9L141.1 203.8L142.0 203.7L143.0 203.6L143.9 203.5L144.8 203.3L145.7 203.2L146.7 203.1L147.6 203.0L148.5 202.9L149.5 202.8L150.4 202.7L151.3 202.6L152.2 202.4L153.2 202.3L154.1 202.2L155.0 202.1L156.0 202.0L156.9 201.9L157.8 201.8L158.7 201.7L159.7 201.6L160.6 201.5L161.5 201.4L162.5 201.3L163.4 201.2L164.3 201.1L165.2 200.9L166.2 200.8L167.1 200.8L168.0 200.7L169.0 200.6L169.9 200.5L170.8 200.4L171.7 200.3L172.7 200.2L173.6 200.1L174.5 200.1L175.5 200.0L176.4 199.9L177.3 199.8L178.2 199.8L179.2 199.7L180.1 199.6L181.0 199.5L182.0 199.5L182.9 199.4L183.8 199.3L184.7 199.3L185.7 199.2L186.6 199.1L187.5 199.1L188.4 199.0L189.4 199.0L190.3 198.9L191.2 198.9L192.2 198.8L193.1 198.8L194.0 198.7L194.9 198.7L195.9 198.6L196.8 198.6L197.7 198.6L198.7 198.6L199.6 198.5L200.5 198.5L201.4 198.5L202.4 198.5L203.3 198.4L204.2 198.4L205.2 198.4L206.1 198.4L207.0 198.3L207.9 198.3L208.9 198.2L209.8 198.2L210.7 198.1L211.7 198.1L212.6 198.0L213.5 197.9L214.4 197.8L215.4 197.7L216.3 197.5L217.2 197.4L218.2 197.2L219.1 197.1L220.0 196.9L220.9 196.7L221.9 196.5L222.8 196.2L223.7 196.0L224.7 195.7L225.6 195.5L226.5 195.2L227.4 194.9L228.4 194.7L229.3 194.4L230.2 194.0L231.2 193.7L232.1 193.4L233.0 193.1L233.9 192.7L234.9 192.3L235.8 191.7L236.7 191.1L237.7 190.5L238.6 189.8L239.5 189.2L240.4 188.6L241.4 188.1L242.3 187.5L243.2 187.0L244.2 186.4L245.1 185.9L246.0 185.4L246.9 185.0L247.9 184.5L248.8 184.0L249.7 183.6L250.7 183.1L251.6 182.7L252.5 182.4L253.4 182.0L254.4 181.7L255.3 181.4L256.2 181.1L257.2 180.8L258.1 180.6L259.0 180.3L259.9 180.1L260.9 179.8L261.8 179.6L262.7 179.4L263.7 179.2L264.6 178.8L265.5 177.2L266.4 175.6L267.4 174.0L268.3 172.4L269.2 170.9L270.1 169.3L271.1 167.8L272.0 166.3L272.9 164.9L273.9 163.4L274.8 162.0L275.7 160.6L276.6 159.3L277.6 157.9L278.5 156.6L279.4 155.4L280.4 154.1L281.3 152.9L282.2 151.8L283.1 150.7L284.1 149.6L285.0 148.6L285.9 147.7L286.9 146.8L287.8 146.1L288.7 145.4L289.6 140.7L290.6 141.4L291.5 142.0L292.4 142.7L293.4 143.3L294.3 144.0L295.2 144.7L296.1 145.4L297.1 146.2L298.0 147.0L298.9 147.8L299.9 148.7L300.8 149.5L301.7 150.3L302.6 151.2L303.6 152.0L304.5 152.9L303.2 152.4L301.9 155.2L300.6 157.6L299.3 160.0L298.0 162.3L296.7 164.5L295.3 166.4L294.0 167.8L292.7 169.0L291.4 170.0L290.1 171.0L288.8 171.8L287.5 172.6L286.2 173.3L284.9 173.9L283.6 174.5L282.3 175.1L281.0 175.7L279.7 176.2L278.3 176.7L277.0 177.1L275.7 177.6L274.4 178.0L273.1 178.4L271.8 178.8L270.5 179.2L269.2 179.5L267.9 179.9L266.6 180.2L265.3 180.5L264.0 180.8L262.7 181.1L261.3 181.4L260.0 181.7L258.7 182.1L257.4 182.4L256.1 182.8L254.8 183.3L253.5 183.7L252.2 184.3L250.9 184.8L249.6 185.4L248.3 186.1L247.0 186.7L245.7 187.4L244.3 188.1L243.0 188.8L241.7 189.5L240.4 190.2L239.1 191.0L237.8 191.7L236.5 192.5L235.2 193.3L233.9 194.0L232.6 194.9L231.3 195.8L230.0 196.8L228.7 197.8L227.3 198.9L226.0 200.0L224.7 201.1L223.4 202.1L222.1 203.0L220.8 203.8L219.5 204.5L218.2 205.1L216.9 205.5L215.6 205.9L214.3 206.3L213.0 206.7L211.7 207.1L210.3 207.4L209.0 207.7L207.7 208.1L206.4 208.3L205.1 208.6L203.8 208.9L202.5 209.1L201.2 209.4L199.9 209.6L198.6 209.8L197.3 210.0L196.0 210.2L194.7 210.4L193.3 210.5L192.0 210.7L190.7 210.9L189.4 211.1L188.1 211.2L186.8 211.4L185.5 211.6L184.2 211.8L182.9 211.9L181.6 212.1L180.3 212.2L179.0 212.4L177.7 212.5L176.3 212.7L175.0 212.8L173.7 213.0L172.4 213.1L171.1 213.2L169.8 213.3L168.5 213.5L167.2 213.6L165.9 213.7L164.6 213.8L163.3 213.9L162.0 214.0L160.7 214.1L159.3 214.3L158.0 214.4L156.7 214.5L155.4 214.6L154.1 214.7L152.8 214.8L151.5 214.9L150.2 215.0L148.9 215.1L147.6 215.2L146.3 215.3L145.0 215.4L143.7 215.5L142.3 215.6L141.0 215.7L139.7 215.8L138.4 215.8L137.1 215.9L135.8 216.0L134.5 216.1L133.2 216.2L131.9 216.3L130.6 216.4L129.3 216.5L128.0 216.6L126.7 216.7L125.3 216.8L124.0 217.0L122.7 217.1L121.4 217.2L120.1 217.3L118.8 217.4L117.5 217.6L116.2 217.7L114.9 217.9L113.6 218.0L112.3 218.2L111.0 218.4L109.7 218.5L108.3 218.7L107.0 218.9L105.7 219.1L104.4 219.3L103.1 219.4L101.8 219.6L100.5 219.8L99.2 220.0L97.9 220.2L96.6 220.4L95.3 220.5L94.0 220.7L92.7 220.9L91.3 221.0L90.0 221.2L88.7 221.3L87.4 221.5L86.1 221.6L84.8 221.8L83.5 221.9M83.5 221.9L84.7 220.8L85.9 219.6L87.0 218.6L88.2 217.6L89.4 216.6L90.6 215.7L91.8 214.8L92.9 214.0L94.1 213.2L95.3 212.5L96.5 211.9L97.6 211.3L98.8 210.8L100.0 210.5L101.2 210.3L102.1 210.1L103.0 209.9L104.0 209.7L104.9 209.5L105.8 209.3L106.8 209.2L107.7 209.0L108.6 208.8L109.5 208.6L110.5 208.5L111.4 208.3L112.3 208.1L113.2 207.9L114.2 207.8L115.1 207.6L116.0 207.4L117.0 207.3L117.9 207.1L118.8 206.9L119.7 206.8L120.7 206.6L121.6 206.5L122.5 206.3L123.5 206.1L124.4 206.0L125.3 205.8L126.2 205.7L127.2 205.5L128.1 205.4L129.0 205.2L130.0 205.0L130.9 204.9L131.8 204.7L132.7 204.6L133.7 204.4L134.6 204.3L135.5 204.1L136.5 204.0L137.4 203.8L138.3 203.7L139.2 203.6L140.2 203.4L141.1 203.3L142.0 203.2L143.0 203.0L143.9 202.9L144.8 202.8L145.7 202.7L146.7 202.6L147.6 202.4L148.5 202.3L149.5 202.2L150.4 202.1L151.3 202.0L152.2 201.8L153.2 201.7L154.1 201.6L155.0 201.5L156.0 201.4L156.9 201.2L157.8 201.1L158.7 201.0L159.7 200.9L160.6 200.8L161.5 200.7L162.5 200.5L163.4 200.4L164.3 200.3L165.2 200.2L166.2 200.1L167.1 200.0L168.0 199.9L169.0 199.8L169.9 199.7L170.8 199.6L171.7 199.5L172.7 199.4L173.6 199.3L174.5 199.2L175.5 199.1L176.4 199.0L177.3 199.0L178.2 198.9L179.2 198.8L180.1 198.7L181.0 198.6L182.0 198.6L182.9 198.5L183.8 198.4L184.7 198.3L185.7 198.3L186.6 198.2L187.5 198.2L188.4 198.1L189.4 198.0L190.3 198.0L191.2 197.9L192.2 197.9L193.1 197.8L194.0 197.8L194.9 197.7L195.9 197.7L196.8 197.7L197.7 197.6L198.7 197.6L199.6 197.6L200.5 197.6L201.4 197.5L202.4 197.5L203.3 197.5L204.2 197.5L205.2 197.4L206.1 197.4L207.0 197.4L207.9 197.3L208.9 197.3L209.8 197.3L210.7 197.2L211.7 197.1L212.6 197.1L213.5 197.0L214.4 196.9L215.4 196.8L216.3 196.7L217.2 196.6L218.2 196.5L219.1 196.3L220.0 196.2L220.9 196.0L221.9 195.9L222.8 195.7L223.7 195.5L224.7 195.3L225.6 195.1L226.5 194.9L227.4 194.6L228.4 194.4L229.3 194.1L230.2 193.9L231.2 193.6L232.1 193.3L233.0 193.0L233.9 192.7L234.9 192.3L235.8 191.8L236.7 191.1L237.7 190.5L238.6 189.8L239.5 189.2L240.4 188.6L241.4 188.1L242.3 187.5L243.2 187.0L244.2 186.4L245.1 185.9L246.0 185.4L246.9 184.9L247.9 184.5L248.8 184.0L249.7 183.6L250.7 183.2L251.6 182.8L252.5 182.4L253.4 182.0L254.4 181.7L255.3 181.4L256.2 181.1L257.2 180.8L258.1 180.5L259.0 180.3L259.9 180.1L260.9 179.8L261.8 179.7L262.7 178.4L263.7 176.6L264.6 174.9L265.5 173.2L266.4 171.6L267.4 169.9L268.3 168.3L269.2 166.7L270.1 165.1L271.1 163.6L272.0 162.1L272.9 160.6L273.9 159.1L274.8 157.7L275.7 156.3L276.6 154.9L277.6 153.6L278.5 152.3L279.4 151.0L280.4 149.8L281.3 148.7L282.2 147.6L283.1 146.5L284.1 145.5L285.0 144.7L285.9 143.9L286.9 143.3L287.8 139.7L288.7 140.2L289.6 140.7L290.6 141.4L291.5 142.0L292.4 142.7L293.4 143.3L294.3 144.0L295.2 144.7L296.1 145.4L297.1 146.2L298.0 147.0L298.9 147.8L299.9 148.7L300.8 149.5L301.7 150.3L302.6 151.2L303.6 152.0L304.5 152.9L303.2 152.8L301.9 155.6L300.6 158.0L299.3 160.4L298.0 162.7L296.7 164.9L295.3 166.8L294.0 168.1L292.7 169.3L291.4 170.4L290.1 171.3L288.8 172.1L287.5 172.9L286.2 173.6L284.9 174.3L283.6 174.9L282.3 175.5L281.0 176.0L279.7 176.5L278.3 177.0L277.0 177.5L275.7 178.0L274.4 178.4L273.1 178.8L271.8 179.2L270.5 179.6L269.2 180.0L267.9 180.3L266.6 180.6L265.3 180.9L264.0 181.2L262.7 181.5L261.3 181.9L260.0 182.2L258.7 182.5L257.4 182.9L256.1 183.3L254.8 183.8L253.5 184.2L252.2 184.8L250.9 185.3L249.6 185.9L248.3 186.5L247.0 187.2L245.7 187.9L244.3 188.5L243.0 189.2L241.7 190.0L240.4 190.7L239.1 191.4L237.8 192.2L236.5 192.9L235.2 193.6L233.9 194.4L232.6 195.2L231.3 196.1L230.0 197.1L228.7 198.1L227.3 199.2L226.0 200.2L224.7 201.3L223.4 202.3L222.1 203.2L220.8 204.0L219.5 204.7L218.2 205.2L216.9 205.6L215.6 206.1L214.3 206.5L213.0 206.9L211.7 207.2L210.3 207.6L209.0 207.9L207.7 208.2L206.4 208.5L205.1 208.8L203.8 209.1L202.5 209.3L201.2 209.6L199.9 209.8L198.6 210.0L197.3 210.2L196.0 210.4L194.7 210.6L193.3 210.8L192.0 211.0L190.7 211.2L189.4 211.4L188.1 211.6L186.8 211.8L185.5 211.9L184.2 212.1L182.9 212.3L181.6 212.5L180.3 212.7L179.0 212.8L177.7 213.0L176.3 213.1L175.0 213.3L173.7 213.5L172.4 213.6L171.1 213.7L169.8 213.9L168.5 214.0L167.2 214.1L165.9 214.3L164.6 214.4L163.3 214.5L162.0 214.6L160.7 214.8L159.3 214.9L158.0 215.0L156.7 215.1L155.4 215.3L154.1 215.4L152.8 215.5L151.5 215.7L150.2 215.8L148.9 215.9L147.6 216.0L146.3 216.1L145.0 216.2L143.7 216.3L142.3 216.4L141.0 216.5L139.7 216.6L138.4 216.7L137.1 216.8L135.8 216.9L134.5 217.0L133.2 217.1L131.9 217.3L130.6 217.4L129.3 217.5L128.0 217.6L126.7 217.7L125.3 217.9L124.0 218.0L122.7 218.1L121.4 218.3L120.1 218.4L118.8 218.6L117.5 218.7L116.2 218.9L114.9 219.1L113.6 219.2L112.3 219.4L111.0 219.6L109.7 219.8L108.3 220.0L107.0 220.2L105.7 220.5L104.4 220.7L103.1 220.9L101.8 221.1L100.5 221.3L99.2 221.5L97.9 221.7L96.6 221.9L95.3 222.1L94.0 222.3L92.7 222.5L91.3 222.7L90.0 222.9L88.7 223.1L87.4 223.2L86.1 223.4L84.8 223.6L83.5 223.7M83.5 223.7L84.7 222.4L85.9 221.1L87.0 219.9L88.2 218.7L89.4 217.6L90.6 216.5L91.8 215.5L92.9 214.5L94.1 213.6L95.3 212.8L96.5 212.1L97.6 211.4L98.8 210.9L100.0 210.5L101.2 210.2L102.1 210.0L103.0 209.8L104.0 209.6L104.9 209.4L105.8 209.2L106.8 209.0L107.7 208.8L108.6 208.6L109.5 208.4L110.5 208.2L111.4 208.1L112.3 207.9L113.2 207.7L114.2 207.5L115.1 207.3L116.0 207.1L117.0 207.0L117.9 206.8L118.8 206.6L119.7 206.4L120.7 206.3L121.6 206.1L122.5 205.9L123.5 205.8L124.4 205.6L125.3 205.4L126.2 205.3L127.2 205.1L128.1 204.9L129.0 204.7L130.0 204.6L130.9 204.4L131.8 204.3L132.7 204.1L133.7 203.9L134.6 203.8L135.5 203.6L136.5 203.5L137.4 203.3L138.3 203.2L139.2 203.0L140.2 202.9L141.1 202.7L142.0 202.6L143.0 202.5L143.9 202.3L144.8 202.2L145.7 202.1L146.7 201.9L147.6 201.8L148.5 201.7L149.5 201.6L150.4 201.4L151.3 201.3L152.2 201.2L153.2 201.0L154.1 200.9L155.0 200.8L156.0 200.7L156.9 200.5L157.8 200.4L158.7 200.3L159.7 200.1L160.6 200.0L161.5 199.9L162.5 199.7L163.4 199.6L164.3 199.5L165.2 199.4L166.2 199.2L167.1 199.1L168.0 199.0L169.0 198.9L169.9 198.8L170.8 198.7L171.7 198.6L172.7 198.5L173.6 198.4L174.5 198.3L175.5 198.2L176.4 198.1L177.3 198.0L178.2 197.9L179.2 197.8L180.1 197.8L181.0 197.7L182.0 197.6L182.9 197.5L183.8 197.4L184.7 197.4L185.7 197.3L186.6 197.2L187.5 197.1L188.4 197.1L189.4 197.0L190.3 197.0L191.2 196.9L192.2 196.8L193.1 196.8L194.0 196.8L194.9 196.7L195.9 196.7L196.8 196.6L197.7 196.6L198.7 196.6L199.6 196.6L200.5 196.5L201.4 196.5L202.4 196.5L203.3 196.5L204.2 196.4L205.2 196.4L206.1 196.4L207.0 196.4L207.9 196.3L208.9 196.3L209.8 196.2L210.7 196.2L211.7 196.1L212.6 196.1L213.5 196.0L214.4 196.0L215.4 195.9L216.3 195.8L217.2 195.7L218.2 195.6L219.1 195.5L220.0 195.4L220.9 195.3L221.9 195.2L222.8 195.0L223.7 194.9L224.7 194.8L225.6 194.6L226.5 194.4L227.4 194.3L228.4 194.1L229.3 193.9L230.2 193.7L231.2 193.5L232.1 193.2L233.0 193.0L233.9 192.7L234.9 192.3L235.8 191.8L236.7 191.1L237.7 190.4L238.6 189.8L239.5 189.2L240.4 188.6L241.4 188.1L242.3 187.5L243.2 187.0L244.2 186.5L245.1 185.9L246.0 185.4L246.9 184.9L247.9 184.5L248.8 184.0L249.7 183.6L250.7 183.2L251.6 182.8L252.5 182.4L253.4 182.0L254.4 181.7L255.3 181.4L256.2 181.1L257.2 180.8L258.1 180.5L259.0 180.3L259.9 179.7L260.9 177.8L261.8 176.0L262.7 174.2L263.7 172.4L264.6 170.6L265.5 168.9L266.4 167.2L267.4 165.5L268.3 163.8L269.2 162.2L270.1 160.6L271.1 159.0L272.0 157.5L272.9 156.0L273.9 154.5L274.8 153.1L275.7 151.7L276.6 150.3L277.6 149.0L278.5 147.8L279.4 146.6L280.4 145.4L281.3 144.4L282.2 143.4L283.1 142.5L284.1 141.7L285.0 138.6L285.9 138.9L286.9 139.2L287.8 139.7L288.7 140.2L289.6 140.7L290.6 141.4L291.5 142.0L292.4 142.7L293.4 143.3L294.3 144.0L295.2 144.7L296.1 145.4L297.1 146.2L298.0 147.0L298.9 147.8L299.9 148.7L300.8 149.5L301.7 150.3L302.6 151.2L303.6 152.0L304.5 152.9L303.2 153.2L301.9 156.0L300.6 158.5L299.3 160.8L298.0 163.1L296.7 165.3L295.3 167.1L294.0 168.5L292.7 169.7L291.4 170.7L290.1 171.6L288.8 172.5L287.5 173.2L286.2 173.9L284.9 174.6L283.6 175.2L282.3 175.8L281.0 176.4L279.7 176.9L278.3 177.4L277.0 177.9L275.7 178.4L274.4 178.8L273.1 179.2L271.8 179.6L270.5 180.0L269.2 180.4L267.9 180.7L266.6 181.1L265.3 181.4L264.0 181.7L262.7 182.0L261.3 182.4L260.0 182.7L258.7 183.0L257.4 183.4L256.1 183.8L254.8 184.3L253.5 184.8L252.2 185.3L250.9 185.9L249.6 186.5L248.3 187.1L247.0 187.7L245.7 188.4L244.3 189.1L243.0 189.7L241.7 190.4L240.4 191.2L239.1 191.9L237.8 192.6L236.5 193.3L235.2 194.1L233.9 194.8L232.6 195.6L231.3 196.4L230.0 197.4L228.7 198.4L227.3 199.4L226.0 200.5L224.7 201.5L223.4 202.4L222.1 203.3L220.8 204.1L219.5 204.8L218.2 205.3L216.9 205.8L215.6 206.2L214.3 206.6L213.0 207.0L211.7 207.4L210.3 207.7L209.0 208.1L207.7 208.4L206.4 208.7L205.1 209.0L203.8 209.3L202.5 209.5L201.2 209.8L199.9 210.0L198.6 210.2L197.3 210.5L196.0 210.7L194.7 210.9L193.3 211.1L192.0 211.3L190.7 211.5L189.4 211.7L188.1 211.9L186.8 212.1L185.5 212.3L184.2 212.5L182.9 212.7L181.6 212.9L180.3 213.1L179.0 213.3L177.7 213.5L176.3 213.6L175.0 213.8L173.7 214.0L172.4 214.1L171.1 214.3L169.8 214.4L168.5 214.6L167.2 214.7L165.9 214.9L164.6 215.0L163.3 215.1L162.0 215.3L160.7 215.4L159.3 215.6L158.0 215.7L156.7 215.9L155.4 216.0L154.1 216.1L152.8 216.3L151.5 216.4L150.2 216.6L148.9 216.7L147.6 216.8L146.3 217.0L145.0 217.1L143.7 217.2L142.3 217.3L141.0 217.4L139.7 217.5L138.4 217.6L137.1 217.7L135.8 217.9L134.5 218.0L133.2 218.1L131.9 218.2L130.6 218.4L129.3 218.5L128.0 218.6L126.7 218.8L125.3 218.9L124.0 219.1L122.7 219.2L121.4 219.4L120.1 219.5L118.8 219.7L117.5 219.9L116.2 220.1L114.9 220.3L113.6 220.5L112.3 220.7L111.0 220.9L109.7 221.2L108.3 221.4L107.0 221.6L105.7 221.9L104.4 222.1L103.1 222.4L101.8 222.6L100.5 222.9L99.2 223.1L97.9 223.3L96.6 223.6L95.3 223.8L94.0 224.0L92.7 224.2L91.3 224.4L90.0 224.6L88.7 224.8L87.4 225.0L86.1 225.2L84.8 225.4L83.5 225.6M83.5 225.6L84.7 224.1L85.9 222.6L87.0 221.2L88.2 219.8L89.4 218.6L90.6 217.3L91.8 216.2L92.9 215.1L94.1 214.1L95.3 213.1L96.5 212.3L97.6 211.6L98.8 210.9L100.0 210.4L101.2 210.2L102.1 210.0L103.0 209.7L104.0 209.5L104.9 209.3L105.8 209.1L106.8 208.9L107.7 208.6L108.6 208.4L109.5 208.2L110.5 208.0L111.4 207.8L112.3 207.6L113.2 207.4L114.2 207.2L115.1 207.0L116.0 206.8L117.0 206.6L117.9 206.5L118.8 206.3L119.7 206.1L120.7 205.9L121.6 205.7L122.5 205.5L123.5 205.3L124.4 205.2L125.3 205.0L126.2 204.8L127.2 204.6L128.1 204.4L129.0 204.3L130.0 204.1L130.9 203.9L131.8 203.8L132.7 203.6L133.7 203.4L134.6 203.2L135.5 203.1L136.5 202.9L137.4 202.8L138.3 202.6L139.2 202.4L140.2 202.3L141.1 202.1L142.0 202.0L143.0 201.9L143.9 201.7L144.8 201.6L145.7 201.4L146.7 201.3L147.6 201.2L148.5 201.0L149.5 200.9L150.4 200.7L151.3 200.6L152.2 200.5L153.2 200.3L154.1 200.2L155.0 200.1L156.0 199.9L156.9 199.8L157.8 199.6L158.7 199.5L159.7 199.3L160.6 199.2L161.5 199.0L162.5 198.9L163.4 198.8L164.3 198.6L165.2 198.5L166.2 198.3L167.1 198.2L168.0 198.1L169.0 197.9L169.9 197.8L170.8 197.7L171.7 197.6L172.7 197.5L173.6 197.4L174.5 197.3L175.5 197.2L176.4 197.1L177.3 197.0L178.2 196.9L179.2 196.8L180.1 196.7L181.0 196.6L182.0 196.5L182.9 196.4L183.8 196.4L184.7 196.3L185.7 196.2L186.6 196.1L187.5 196.1L188.4 196.0L189.4 195.9L190.3 195.9L191.2 195.8L192.2 195.7L193.1 195.7L194.0 195.7L194.9 195.6L195.9 195.6L196.8 195.5L197.7 195.5L198.7 195.5L199.6 195.5L200.5 195.4L201.4 195.4L202.4 195.4L203.3 195.4L204.2 195.3L205.2 195.3L206.1 195.3L207.0 195.2L207.9 195.2L208.9 195.2L209.8 195.1L210.7 195.1L211.7 195.1L212.6 195.0L213.5 195.0L214.4 194.9L215.4 194.9L216.3 194.8L217.2 194.8L218.2 194.7L219.1 194.6L220.0 194.6L220.9 194.5L221.9 194.4L222.8 194.3L223.7 194.3L224.7 194.2L225.6 194.1L226.5 194.0L227.4 193.8L228.4 193.7L229.3 193.6L230.2 193.4L231.2 193.3L232.1 193.1L233.0 192.9L233.9 192.8L234.9 192.4L235.8 191.8L236.7 191.1L237.7 190.4L238.6 189.8L239.5 189.2L240.4 188.6L241.4 188.1L242.3 187.5L243.2 187.0L244.2 186.5L245.1 185.9L246.0 185.4L246.9 184.9L247.9 184.5L248.8 184.0L249.7 183.6L250.7 183.1L251.6 182.7L252.5 182.4L253.4 182.0L254.4 181.7L255.3 181.4L256.2 181.1L257.2 180.8L258.1 179.2L259.0 177.3L259.9 175.3L260.9 173.4L261.8 171.5L262.7 169.7L263.7 167.8L264.6 166.0L265.5 164.3L266.4 162.5L267.4 160.8L268.3 159.1L269.2 157.5L270.1 155.8L271.1 154.3L272.0 152.7L272.9 151.2L273.9 149.8L274.8 148.3L275.7 147.0L276.6 145.7L277.6 144.4L278.5 143.3L279.4 142.2L280.4 141.2L281.3 140.3L282.2 139.6L283.1 138.1L284.1 138.3L285.0 138.6L285.9 138.9L286.9 139.2L287.8 139.7L288.7 140.2L289.6 140.7L290.6 141.4L291.5 142.0L292.4 142.7L293.4 143.3L294.3 144.0L295.2 144.7L296.1 145.4L297.1 146.2L298.0 147.0L298.9 147.8L299.9 148.7L300.8 149.5L301.7 150.3L302.6 151.2L303.6 152.0L304.5 152.9L303.2 153.6L301.9 156.5L300.6 159.0L299.3 161.3L298.0 163.6L296.7 165.7L295.3 167.5L294.0 168.9L292.7 170.0L291.4 171.1L290.1 172.0L288.8 172.8L287.5 173.6L286.2 174.3L284.9 175.0L283.6 175.6L282.3 176.2L281.0 176.8L279.7 177.3L278.3 177.8L277.0 178.3L275.7 178.8L274.4 179.2L273.1 179.7L271.8 180.1L270.5 180.5L269.2 180.9L267.9 181.2L266.6 181.6L265.3 181.9L264.0 182.2L262.7 182.5L261.3 182.9L260.0 183.2L258.7 183.6L257.4 184.0L256.1 184.4L254.8 184.8L253.5 185.3L252.2 185.8L250.9 186.4L249.6 187.0L248.3 187.6L247.0 188.3L245.7 188.9L244.3 189.6L243.0 190.3L241.7 191.0L240.4 191.6L239.1 192.4L237.8 193.1L236.5 193.8L235.2 194.5L233.9 195.2L232.6 196.0L231.3 196.8L230.0 197.7L228.7 198.7L227.3 199.7L226.0 200.7L224.7 201.7L223.4 202.6L222.1 203.5L220.8 204.3L219.5 204.9L218.2 205.5L216.9 205.9L215.6 206.4L214.3 206.8L213.0 207.2L211.7 207.5L210.3 207.9L209.0 208.2L207.7 208.6L206.4 208.9L205.1 209.2L203.8 209.5L202.5 209.7L201.2 210.0L199.9 210.3L198.6 210.5L197.3 210.7L196.0 211.0L194.7 211.2L193.3 211.4L192.0 211.6L190.7 211.8L189.4 212.1L188.1 212.3L186.8 212.5L185.5 212.7L184.2 212.9L182.9 213.1L181.6 213.4L180.3 213.6L179.0 213.8L177.7 214.0L176.3 214.2L175.0 214.3L173.7 214.5L172.4 214.7L171.1 214.9L169.8 215.0L168.5 215.2L167.2 215.3L165.9 215.5L164.6 215.7L163.3 215.8L162.0 216.0L160.7 216.1L159.3 216.3L158.0 216.4L156.7 216.6L155.4 216.8L154.1 216.9L152.8 217.1L151.5 217.2L150.2 217.4L148.9 217.6L147.6 217.7L146.3 217.8L145.0 218.0L143.7 218.1L142.3 218.2L141.0 218.4L139.7 218.5L138.4 218.6L137.1 218.7L135.8 218.9L134.5 219.0L133.2 219.1L131.9 219.3L130.6 219.4L129.3 219.6L128.0 219.7L126.7 219.9L125.3 220.0L124.0 220.2L122.7 220.4L121.4 220.5L120.1 220.7L118.8 220.9L117.5 221.1L116.2 221.3L114.9 221.5L113.6 221.8L112.3 222.0L111.0 222.3L109.7 222.5L108.3 222.8L107.0 223.1L105.7 223.3L104.4 223.6L103.1 223.9L101.8 224.2L100.5 224.4L99.2 224.7L97.9 225.0L96.6 225.2L95.3 225.5L94.0 225.7L92.7 226.0L91.3 226.2L90.0 226.4L88.7 226.6L87.4 226.9L86.1 227.1L84.8 227.3L83.5 227.5M83.5 227.5L84.7 225.8L85.9 224.1L87.0 222.5L88.2 221.0L89.4 219.6L90.6 218.2L91.8 216.9L92.9 215.6L94.1 214.5L95.3 213.5L96.5 212.5L97.6 211.7L98.8 211.0L100.0 210.4L101.2 210.1L102.1 209.9L103.0 209.6L104.0 209.4L104.9 209.2L105.8 208.9L106.8 208.7L107.7 208.5L108.6 208.2L109.5 208.0L110.5 207.8L111.4 207.6L112.3 207.3L113.2 207.1L114.2 206.9L115.1 206.7L116.0 206.5L117.0 206.3L117.9 206.1L118.8 205.9L119.7 205.7L120.7 205.5L121.6 205.3L122.5 205.1L123.5 204.9L124.4 204.7L125.3 204.5L126.2 204.3L127.2 204.1L128.1 203.9L129.0 203.8L130.0 203.6L130.9 203.4L131.8 203.2L132.7 203.0L133.7 202.9L134.6 202.7L135.5 202.5L136.5 202.3L137.4 202.2L138.3 202.0L139.2 201.8L140.2 201.7L141.1 201.5L142.0 201.4L143.0 201.2L143.9 201.0L144.8 200.9L145.7 200.7L146.7 200.6L147.6 200.4L148.5 200.3L149.5 200.2L150.4 200.0L151.3 199.9L152.2 199.7L153.2 199.6L154.1 199.4L155.0 199.3L156.0 199.1L156.9 199.0L157.8 198.8L158.7 198.6L159.7 198.5L160.6 198.3L161.5 198.2L162.5 198.0L163.4 197.8L164.3 197.7L165.2 197.5L166.2 197.4L167.1 197.2L168.0 197.1L169.0 196.9L169.9 196.8L170.8 196.7L171.7 196.6L172.7 196.5L173.6 196.3L174.5 196.2L175.5 196.1L176.4 196.0L177.3 195.9L178.2 195.8L179.2 195.7L180.1 195.6L181.0 195.5L182.0 195.4L182.9 195.3L183.8 195.2L184.7 195.1L185.7 195.1L186.6 195.0L187.5 194.9L188.4 194.8L189.4 194.8L190.3 194.7L191.2 194.6L192.2 194.6L193.1 194.5L194.0 194.5L194.9 194.4L195.9 194.4L196.8 194.4L197.7 194.3L198.7 194.3L199.6 194.3L200.5 194.2L201.4 194.2L202.4 194.2L203.3 194.2L204.2 194.1L205.2 194.1L206.1 194.1L207.0 194.1L207.9 194.0L208.9 194.0L209.8 194.0L210.7 193.9L211.7 193.9L212.6 193.9L213.5 193.8L214.4 193.8L215.4 193.8L216.3 193.8L217.2 193.7L218.2 193.7L219.1 193.7L220.0 193.7L220.9 193.6L221.9 193.6L222.8 193.6L223.7 193.5L224.7 193.5L225.6 193.4L226.5 193.4L227.4 193.3L228.4 193.3L229.3 193.2L230.2 193.1L231.2 193.1L232.1 193.0L233.0 192.9L233.9 192.8L234.9 192.4L235.8 191.8L236.7 191.1L237.7 190.4L238.6 189.8L239.5 189.2L240.4 188.6L241.4 188.1L242.3 187.5L243.2 187.0L244.2 186.5L245.1 185.9L246.0 185.4L246.9 184.9L247.9 184.5L248.8 184.0L249.7 183.6L250.7 183.2L251.6 182.8L252.5 182.4L253.4 182.0L254.4 181.7L255.3 180.8L256.2 178.7L257.2 176.7L258.1 174.6L259.0 172.6L259.9 170.6L260.9 168.7L261.8 166.8L262.7 164.9L263.7 163.0L264.6 161.2L265.5 159.4L266.4 157.6L267.4 155.9L268.3 154.2L269.2 152.5L270.1 150.9L271.1 149.3L272.0 147.8L272.9 146.3L273.9 144.9L274.8 143.5L275.7 142.3L276.6 141.0L277.6 139.9L278.5 138.9L279.4 138.1L280.4 137.4L281.3 137.6L282.2 137.8L283.1 138.1L284.1 138.3L285.0 138.6L285.9 138.9L286.9 139.2L287.8 139.7L288.7 140.2L289.6 140.7L290.6 141.4L291.5 142.0L292.4 142.7L293.4 143.3L294.3 144.0L295.2 144.7L296.1 145.4L297.1 146.2L298.0 147.0L298.9 147.8L299.9 148.7L300.8 149.5L301.7 150.3L302.6 151.2L303.6 152.0L304.5 152.9L303.2 154.0L301.9 157.0L300.6 159.5L299.3 161.8L298.0 164.0L296.7 166.1L295.3 167.9L294.0 169.3L292.7 170.4L291.4 171.5L290.1 172.4L288.8 173.2L287.5 174.0L286.2 174.7L284.9 175.4L283.6 176.0L282.3 176.6L281.0 177.2L279.7 177.7L278.3 178.3L277.0 178.8L275.7 179.2L274.4 179.7L273.1 180.1L271.8 180.6L270.5 181.0L269.2 181.4L267.9 181.7L266.6 182.1L265.3 182.4L264.0 182.7L262.7 183.1L261.3 183.4L260.0 183.8L258.7 184.1L257.4 184.5L256.1 184.9L254.8 185.4L253.5 185.9L252.2 186.4L250.9 187.0L249.6 187.6L248.3 188.2L247.0 188.9L245.7 189.5L244.3 190.2L243.0 190.8L241.7 191.5L240.4 192.2L239.1 192.9L237.8 193.5L236.5 194.2L235.2 194.9L233.9 195.6L232.6 196.4L231.3 197.2L230.0 198.1L228.7 199.0L227.3 200.0L226.0 201.0L224.7 201.9L223.4 202.8L222.1 203.7L220.8 204.4L219.5 205.1L218.2 205.6L216.9 206.1L215.6 206.5L214.3 206.9L213.0 207.3L211.7 207.7L210.3 208.1L209.0 208.4L207.7 208.8L206.4 209.1L205.1 209.4L203.8 209.7L202.5 210.0L201.2 210.2L199.9 210.5L198.6 210.8L197.3 211.0L196.0 211.2L194.7 211.5L193.3 211.7L192.0 211.9L190.7 212.2L189.4 212.4L188.1 212.7L186.8 212.9L185.5 213.1L184.2 213.4L182.9 213.6L181.6 213.8L180.3 214.1L179.0 214.3L177.7 214.5L176.3 214.7L175.0 214.9L173.7 215.1L172.4 215.3L171.1 215.5L169.8 215.6L168.5 215.8L167.2 216.0L165.9 216.2L164.6 216.3L163.3 216.5L162.0 216.7L160.7 216.8L159.3 217.0L158.0 217.2L156.7 217.4L155.4 217.6L154.1 217.7L152.8 217.9L151.5 218.1L150.2 218.3L148.9 218.4L147.6 218.6L146.3 218.8L145.0 218.9L143.7 219.1L142.3 219.2L141.0 219.3L139.7 219.5L138.4 219.6L137.1 219.7L135.8 219.9L134.5 220.0L133.2 220.2L131.9 220.4L130.6 220.5L129.3 220.7L128.0 220.8L126.7 221.0L125.3 221.2L124.0 221.4L122.7 221.6L121.4 221.7L120.1 221.9L118.8 222.2L117.5 222.4L116.2 222.6L114.9 222.8L113.6 223.1L112.3 223.4L111.0 223.6L109.7 223.9L108.3 224.2L107.0 224.5L105.7 224.8L104.4 225.1L103.1 225.4L101.8 225.7L100.5 226.0L99.2 226.3L97.9 226.6L96.6 226.9L95.3 227.2L94.0 227.5L92.7 227.7L91.3 228.0L90.0 228.2L88.7 228.5L87.4 228.7L86.1 228.9L84.8 229.2L83.5 229.4M83.5 229.4L84.7 227.5L85.9 225.6L87.0 223.9L88.2 222.2L89.4 220.6L90.6 219.0L91.8 217.6L92.9 216.2L94.1 215.0L95.3 213.8L96.5 212.7L97.6 211.8L98.8 211.0L100.0 210.4L101.2 210.1L102.1 209.8L103.0 209.5L104.0 209.3L104.9 209.0L105.8 208.8L106.8 208.5L107.7 208.3L108.6 208.0L109.5 207.8L110.5 207.5L111.4 207.3L112.3 207.1L113.2 206.8L114.2 206.6L115.1 206.4L116.0 206.1L117.0 205.9L117.9 205.7L118.8 205.5L119.7 205.3L120.7 205.1L121.6 204.8L122.5 204.6L123.5 204.4L124.4 204.2L125.3 204.0L126.2 203.8L127.2 203.6L128.1 203.4L129.0 203.2L130.0 203.0L130.9 202.8L131.8 202.6L132.7 202.5L133.7 202.3L134.6 202.1L135.5 201.9L136.5 201.7L137.4 201.5L138.3 201.3L139.2 201.2L140.2 201.0L141.1 200.8L142.0 200.7L143.0 200.5L143.9 200.3L144.8 200.2L145.7 200.0L146.7 199.9L147.6 199.7L148.5 199.5L149.5 199.4L150.4 199.2L151.3 199.1L152.2 198.9L153.2 198.8L154.1 198.6L155.0 198.4L156.0 198.3L156.9 198.1L157.8 197.9L158.7 197.8L159.7 197.6L160.6 197.4L161.5 197.2L162.5 197.0L163.4 196.9L164.3 196.7L165.2 196.5L166.2 196.3L167.1 196.2L168.0 196.0L169.0 195.9L169.9 195.7L170.8 195.6L171.7 195.5L172.7 195.3L173.6 195.2L174.5 195.1L175.5 195.0L176.4 194.9L177.3 194.8L178.2 194.6L179.2 194.5L180.1 194.4L181.0 194.3L182.0 194.2L182.9 194.1L183.8 194.0L184.7 193.9L185.7 193.8L186.6 193.8L187.5 193.7L188.4 193.6L189.4 193.5L190.3 193.5L191.2 193.4L192.2 193.3L193.1 193.3L194.0 193.2L194.9 193.2L195.9 193.2L196.8 193.1L197.7 193.1L198.7 193.1L199.6 193.0L200.5 193.0L201.4 193.0L202.4 193.0L203.3 192.9L204.2 192.9L205.2 192.9L206.1 192.9L207.0 192.8L207.9 192.8L208.9 192.8L209.8 192.7L210.7 192.7L211.7 192.7L212.6 192.6L213.5 192.6L214.4 192.5L215.4 192.5L216.3 192.4L217.2 192.3L218.2 192.3L219.1 192.2L220.0 192.1L220.9 192.0L221.9 191.9L222.8 191.8L223.7 191.6L224.7 191.4L225.6 191.1L226.5 190.9L227.4 190.6L228.4 190.3L229.3 189.9L230.2 189.5L231.2 189.1L232.1 188.7L233.0 188.2L233.9 187.7L234.9 187.0L235.8 186.2L236.7 185.2L237.7 184.3L238.6 183.4L239.5 182.5L240.4 181.6L241.4 180.7L242.3 179.8L243.2 178.8L244.2 177.9L245.1 176.9L246.0 175.9L246.9 174.8L247.9 173.8L248.8 172.7L249.7 171.6L250.7 170.5L251.6 169.3L252.5 168.1L253.4 166.7L254.4 165.4L255.3 164.0L256.2 162.6L257.2 161.2L258.1 159.8L259.0 158.5L259.9 157.2L260.9 155.9L261.8 154.6L262.7 153.3L263.7 152.0L264.6 150.8L265.5 149.5L266.4 148.1L267.4 146.7L268.3 145.4L269.2 144.1L270.1 142.9L271.1 142.0L272.0 141.1L272.9 140.2L273.9 139.4L274.8 138.6L275.7 137.9L276.6 137.5L277.6 137.2L278.5 137.2L279.4 137.3L280.4 137.4L281.3 137.6L282.2 137.8L283.1 138.1L284.1 138.3L285.0 138.6L285.9 138.9L286.9 139.3L287.8 139.8L288.7 140.3L289.6 140.9L290.6 141.4L291.5 142.0L292.4 142.6L293.4 143.3L294.3 144.0L295.2 144.7L296.1 145.5L297.1 146.2L298.0 147.0L298.9 147.8L299.9 148.6L300.8 149.5L301.7 150.3L302.6 151.2L303.6 152.0L304.5 152.9L303.2 154.4L301.9 157.5L300.6 160.0L299.3 162.3L298.0 164.5L296.7 166.6L295.3 168.3L294.0 169.7L292.7 170.8L291.4 171.8L290.1 172.8L288.8 173.6L287.5 174.4L286.2 175.1L284.9 175.8L283.6 176.4L282.3 177.0L281.0 177.6L279.7 178.2L278.3 178.7L277.0 179.2L275.7 179.7L274.4 180.2L273.1 180.6L271.8 181.0L270.5 181.5L269.2 181.9L267.9 182.2L266.6 182.6L265.3 182.9L264.0 183.3L262.7 183.6L261.3 184.0L260.0 184.3L258.7 184.7L257.4 185.1L256.1 185.5L254.8 186.0L253.5 186.5L252.2 187.0L250.9 187.6L249.6 188.2L248.3 188.8L247.0 189.5L245.7 190.1L244.3 190.7L243.0 191.4L241.7 192.0L240.4 192.7L239.1 193.4L237.8 194.0L236.5 194.7L235.2 195.4L233.9 196.1L232.6 196.8L231.3 197.6L230.0 198.4L228.7 199.4L227.3 200.3L226.0 201.2L224.7 202.2L223.4 203.0L222.1 203.9L220.8 204.6L219.5 205.3L218.2 205.8L216.9 206.2L215.6 206.7L214.3 207.1L213.0 207.5L211.7 207.9L210.3 208.3L209.0 208.6L207.7 209.0L206.4 209.3L205.1 209.6L203.8 209.9L202.5 210.2L201.2 210.5L199.9 210.8L198.6 211.0L197.3 211.3L196.0 211.5L194.7 211.8L193.3 212.0L192.0 212.3L190.7 212.5L189.4 212.8L188.1 213.1L186.8 213.3L185.5 213.6L184.2 213.8L182.9 214.1L181.6 214.3L180.3 214.6L179.0 214.8L177.7 215.0L176.3 215.3L175.0 215.5L173.7 215.7L172.4 215.9L171.1 216.1L169.8 216.3L168.5 216.5L167.2 216.7L165.9 216.8L164.6 217.0L163.3 217.2L162.0 217.4L160.7 217.6L159.3 217.8L158.0 218.0L156.7 218.2L155.4 218.4L154.1 218.6L152.8 218.8L151.5 219.0L150.2 219.2L148.9 219.4L147.6 219.5L146.3 219.7L145.0 219.9L143.7 220.0L142.3 220.2L141.0 220.3L139.7 220.5L138.4 220.6L137.1 220.8L135.8 221.0L134.5 221.1L133.2 221.3L131.9 221.5L130.6 221.6L129.3 221.8L128.0 222.0L126.7 222.2L125.3 222.4L124.0 222.6L122.7 222.8L121.4 223.0L120.1 223.2L118.8 223.4L117.5 223.7L116.2 223.9L114.9 224.2L113.6 224.4L112.3 224.7L111.0 225.0L109.7 225.4L108.3 225.7L107.0 226.0L105.7 226.3L104.4 226.7L103.1 227.0L101.8 227.3L100.5 227.7L99.2 228.0L97.9 228.3L96.6 228.6L95.3 228.9L94.0 229.2L92.7 229.5L91.3 229.8L90.0 230.0L88.7 230.3L87.4 230.6L86.1 230.8L84.8 231.1L83.5 231.3M83.5 231.3L84.7 229.2L85.9 227.2L87.0 225.2L88.2 223.4L89.4 221.6L90.6 219.9L91.8 218.3L92.9 216.8L94.1 215.4L95.3 214.1L96.5 212.9L97.6 211.9L98.8 211.0L100.0 210.4L101.2 210.0L102.1 209.7L103.0 209.4L104.0 209.2L104.9 208.9L105.8 208.6L106.8 208.3L107.7 208.1L108.6 207.8L109.5 207.5L110.5 207.3L111.4 207.0L112.3 206.8L113.2 206.5L114.2 206.3L115.1 206.0L116.0 205.8L117.0 205.5L117.9 205.3L118.8 205.1L119.7 204.8L120.7 204.6L121.6 204.4L122.5 204.2L123.5 203.9L124.4 203.7L125.3 203.5L126.2 203.3L127.2 203.1L128.1 202.9L129.0 202.7L130.0 202.5L130.9 202.2L131.8 202.0L132.7 201.8L133.7 201.6L134.6 201.4L135.5 201.2L136.5 201.1L137.4 200.9L138.3 200.7L139.2 200.5L140.2 200.3L141.1 200.1L142.0 199.9L143.0 199.8L143.9 199.6L144.8 199.4L145.7 199.3L146.7 199.1L147.6 198.9L148.5 198.7L149.5 198.6L150.4 198.4L151.3 198.2L152.2 198.1L153.2 197.9L154.1 197.7L155.0 197.6L156.0 197.4L156.9 197.2L157.8 197.0L158.7 196.8L159.7 196.6L160.6 196.4L161.5 196.2L162.5 196.0L163.4 195.8L164.3 195.6L165.2 195.5L166.2 195.3L167.1 195.1L168.0 194.9L169.0 194.8L169.9 194.6L170.8 194.5L171.7 194.3L172.7 194.2L173.6 194.1L174.5 193.9L175.5 193.8L176.4 193.7L177.3 193.6L178.2 193.4L179.2 193.3L180.1 193.2L181.0 193.1L182.0 193.0L182.9 192.9L183.8 192.8L184.7 192.7L185.7 192.6L186.6 192.5L187.5 192.4L188.4 192.3L189.4 192.2L190.3 192.2L191.2 192.1L192.2 192.0L193.1 192.0L194.0 191.9L194.9 191.9L195.9 191.9L196.8 191.8L197.7 191.8L198.7 191.8L199.6 191.7L200.5 191.7L201.4 191.7L202.4 191.7L203.3 191.7L204.2 191.6L205.2 191.6L206.1 191.6L207.0 191.6L207.9 191.5L208.9 191.5L209.8 191.5L210.7 191.4L211.7 191.4L212.6 191.3L213.5 191.3L214.4 191.2L215.4 191.2L216.3 191.1L217.2 191.1L218.2 191.0L219.1 190.9L220.0 190.8L220.9 190.7L221.9 190.6L222.8 190.4L223.7 190.2L224.7 189.8L225.6 189.5L226.5 189.0L227.4 188.5L228.4 188.0L229.3 187.4L230.2 186.8L231.2 186.2L232.1 185.6L233.0 185.0L233.9 184.3L234.9 183.6L235.8 182.7L236.7 181.8L237.7 180.8L238.6 179.9L239.5 179.0L240.4 178.0L241.4 177.1L242.3 176.1L243.2 175.1L244.2 174.1L245.1 173.1L246.0 172.0L246.9 170.9L247.9 169.8L248.8 168.6L249.7 167.4L250.7 166.2L251.6 164.9L252.5 163.6L253.4 162.3L254.4 160.9L255.3 159.4L256.2 158.0L257.2 156.6L258.1 155.2L259.0 153.8L259.9 152.5L260.9 151.1L261.8 149.8L262.7 148.5L263.7 147.1L264.6 145.8L265.5 144.5L266.4 143.1L267.4 141.8L268.3 140.4L269.2 139.1L270.1 137.9L271.1 136.9L272.0 136.1L272.9 135.2L273.9 134.3L274.8 133.5L275.7 132.8L276.6 132.3L277.6 132.0L278.5 132.0L279.4 132.1L280.4 132.2L281.3 132.4L282.2 132.6L283.1 132.8L284.1 133.1L285.0 133.3L285.9 133.7L286.9 134.1L287.8 134.6L288.7 135.2L289.6 135.8L290.6 136.4L291.5 137.0L292.4 137.7L293.4 138.5L294.3 139.3L295.2 140.1L296.1 141.0L297.1 141.9L298.0 142.7L298.9 143.6L299.9 144.5L300.8 145.4L301.7 146.3L302.6 147.2L303.6 148.1L304.5 149.1L303.2 154.8L301.9 158.0L300.6 160.5L299.3 162.8L298.0 165.0L296.7 167.0L295.3 168.8L294.0 170.1L292.7 171.2L291.4 172.2L290.1 173.2L288.8 174.0L287.5 174.8L286.2 175.5L284.9 176.2L283.6 176.9L282.3 177.5L281.0 178.1L279.7 178.6L278.3 179.2L277.0 179.7L275.7 180.2L274.4 180.6L273.1 181.1L271.8 181.6L270.5 182.0L269.2 182.4L267.9 182.8L266.6 183.1L265.3 183.5L264.0 183.8L262.7 184.2L261.3 184.5L260.0 184.9L258.7 185.3L257.4 185.7L256.1 186.1L254.8 186.6L253.5 187.1L252.2 187.6L250.9 188.2L249.6 188.8L248.3 189.4L247.0 190.1L245.7 190.7L244.3 191.3L243.0 192.0L241.7 192.6L240.4 193.3L239.1 193.9L237.8 194.6L236.5 195.2L235.2 195.9L233.9 196.5L232.6 197.2L231.3 198.0L230.0 198.8L228.7 199.7L227.3 200.6L226.0 201.5L224.7 202.4L223.4 203.2L222.1 204.1L220.8 204.8L219.5 205.4L218.2 205.9L216.9 206.4L215.6 206.8L214.3 207.3L213.0 207.7L211.7 208.1L210.3 208.5L209.0 208.8L207.7 209.2L206.4 209.5L205.1 209.8L203.8 210.1L202.5 210.4L201.2 210.7L199.9 211.0L198.6 211.3L197.3 211.6L196.0 211.8L194.7 212.1L193.3 212.4L192.0 212.6L190.7 212.9L189.4 213.2L188.1 213.5L186.8 213.7L185.5 214.0L184.2 214.3L182.9 214.6L181.6 214.8L180.3 215.1L179.0 215.3L177.7 215.6L176.3 215.8L175.0 216.1L173.7 216.3L172.4 216.5L171.1 216.7L169.8 216.9L168.5 217.1L167.2 217.4L165.9 217.6L164.6 217.8L163.3 218.0L162.0 218.2L160.7 218.4L159.3 218.6L158.0 218.8L156.7 219.0L155.4 219.2L154.1 219.5L152.8 219.7L151.5 219.9L150.2 220.1L148.9 220.3L147.6 220.5L146.3 220.7L145.0 220.9L143.7 221.1L142.3 221.2L141.0 221.4L139.7 221.6L138.4 221.7L137.1 221.9L135.8 222.1L134.5 222.2L133.2 222.4L131.9 222.6L130.6 222.8L129.3 223.0L128.0 223.2L126.7 223.4L125.3 223.6L124.0 223.8L122.7 224.0L121.4 224.2L120.1 224.5L118.8 224.7L117.5 225.0L116.2 225.2L114.9 225.5L113.6 225.8L112.3 226.1L111.0 226.5L109.7 226.8L108.3 227.2L107.0 227.5L105.7 227.9L104.4 228.2L103.1 228.6L101.8 229.0L100.5 229.3L99.2 229.7L97.9 230.0L96.6 230.4L95.3 230.7L94.0 231.0L92.7 231.3L91.3 231.6L90.0 231.9L88.7 232.2L87.4 232.5L86.1 232.7L84.8 233.0L83.5 233.2M83.5 233.2L84.7 230.9L85.9 228.7L87.0 226.6L88.2 224.6L89.4 222.6L90.6 220.8L91.8 219.0L92.9 217.4L94.1 215.8L95.3 214.4L96.5 213.2L97.6 212.0L98.8 211.1L100.0 210.4L101.2 210.0L102.1 209.6L103.0 209.3L104.0 209.0L104.9 208.7L105.8 208.4L106.8 208.1L107.7 207.8L108.6 207.6L109.5 207.3L110.5 207.0L111.4 206.7L112.3 206.5L113.2 206.2L114.2 205.9L115.1 205.7L116.0 205.4L117.0 205.1L117.9 204.9L118.8 204.6L119.7 204.4L120.7 204.1L121.6 203.9L122.5 203.7L123.5 203.4L124.4 203.2L125.3 203.0L126.2 202.7L127.2 202.5L128.1 202.3L129.0 202.1L130.0 201.8L130.9 201.6L131.8 201.4L132.7 201.2L133.7 201.0L134.6 200.8L135.5 200.6L136.5 200.4L137.4 200.2L138.3 200.0L139.2 199.8L140.2 199.6L141.1 199.4L142.0 199.2L143.0 199.0L143.9 198.8L144.8 198.6L145.7 198.5L146.7 198.3L147.6 198.1L148.5 197.9L149.5 197.7L150.4 197.6L151.3 197.4L152.2 197.2L153.2 197.0L154.1 196.8L155.0 196.6L156.0 196.5L156.9 196.3L157.8 196.0L158.7 195.8L159.7 195.6L160.6 195.4L161.5 195.2L162.5 195.0L163.4 194.8L164.3 194.6L165.2 194.4L166.2 194.2L167.1 194.0L168.0 193.8L169.0 193.6L169.9 193.4L170.8 193.3L171.7 193.1L172.7 193.0L173.6 192.8L174.5 192.7L175.5 192.6L176.4 192.4L177.3 192.3L178.2 192.2L179.2 192.0L180.1 191.9L181.0 191.8L182.0 191.7L182.9 191.6L183.8 191.4L184.7 191.3L185.7 191.2L186.6 191.1L187.5 191.0L188.4 191.0L189.4 190.9L190.3 190.8L191.2 190.7L192.2 190.7L193.1 190.6L194.0 190.6L194.9 190.5L195.9 190.5L196.8 190.5L197.7 190.4L198.7 190.4L199.6 190.4L200.5 190.4L201.4 190.3L202.4 190.3L203.3 190.3L204.2 190.3L205.2 190.2L206.1 190.2L207.0 190.2L207.9 190.2L208.9 190.1L209.8 190.1L210.7 190.1L211.7 190.0L212.6 190.0L213.5 189.9L214.4 189.9L215.4 189.8L216.3 189.8L217.2 189.7L218.2 189.6L219.1 189.6L220.0 189.5L220.9 189.4L221.9 189.2L222.8 189.0L223.7 188.7L224.7 188.3L225.6 187.9L226.5 187.3L227.4 186.7L228.4 186.1L229.3 185.4L230.2 184.7L231.2 184.0L232.1 183.2L233.0 182.5L233.9 181.8L234.9 181.0L235.8 180.1L236.7 179.2L237.7 178.3L238.6 177.3L239.5 176.4L240.4 175.4L241.4 174.4L242.3 173.4L243.2 172.4L244.2 171.3L245.1 170.2L246.0 169.1L246.9 167.9L247.9 166.8L248.8 165.5L249.7 164.3L250.7 163.0L251.6 161.7L252.5 160.4L253.4 159.0L254.4 157.5L255.3 156.1L256.2 154.6L257.2 153.2L258.1 151.8L259.0 150.4L259.9 149.0L260.9 147.6L261.8 146.2L262.7 144.9L263.7 143.5L264.6 142.2L265.5 140.9L266.4 139.5L267.4 138.1L268.3 136.7L269.2 135.4L270.1 134.2L271.1 133.2L272.0 132.3L272.9 131.4L273.9 130.5L274.8 129.7L275.7 129.0L276.6 128.5L277.6 128.2L278.5 128.2L279.4 128.2L280.4 128.3L281.3 128.5L282.2 128.7L283.1 128.9L284.1 129.2L285.0 129.4L285.9 129.8L286.9 130.2L287.8 130.8L288.7 131.4L289.6 132.0L290.6 132.7L291.5 133.4L292.4 134.1L293.4 134.9L294.3 135.8L295.2 136.8L296.1 137.7L297.1 138.7L298.0 139.6L298.9 140.5L299.9 141.4L300.8 142.4L301.7 143.3L302.6 144.3L303.6 145.2L304.5 146.2L303.2 155.3L301.9 158.5L300.6 161.1L299.3 163.3L298.0 165.5L296.7 167.5L295.3 169.2L294.0 170.5L292.7 171.7L291.4 172.7L290.1 173.6L288.8 174.4L287.5 175.2L286.2 175.9L284.9 176.6L283.6 177.3L282.3 177.9L281.0 178.5L279.7 179.1L278.3 179.6L277.0 180.2L275.7 180.7L274.4 181.1L273.1 181.6L271.8 182.1L270.5 182.5L269.2 182.9L267.9 183.3L266.6 183.7L265.3 184.1L264.0 184.4L262.7 184.8L261.3 185.1L260.0 185.5L258.7 185.9L257.4 186.3L256.1 186.7L254.8 187.2L253.5 187.7L252.2 188.3L250.9 188.9L249.6 189.5L248.3 190.1L247.0 190.7L245.7 191.3L244.3 192.0L243.0 192.6L241.7 193.2L240.4 193.8L239.1 194.5L237.8 195.1L236.5 195.7L235.2 196.4L233.9 197.0L232.6 197.7L231.3 198.4L230.0 199.2L228.7 200.1L227.3 200.9L226.0 201.8L224.7 202.6L223.4 203.5L222.1 204.2L220.8 205.0L219.5 205.6L218.2 206.1L216.9 206.6L215.6 207.0L214.3 207.4L213.0 207.9L211.7 208.3L210.3 208.7L209.0 209.0L207.7 209.4L206.4 209.7L205.1 210.1L203.8 210.4L202.5 210.7L201.2 211.0L199.9 211.3L198.6 211.6L197.3 211.9L196.0 212.2L194.7 212.4L193.3 212.7L192.0 213.0L190.7 213.3L189.4 213.6L188.1 213.9L186.8 214.2L185.5 214.5L184.2 214.8L182.9 215.1L181.6 215.3L180.3 215.6L179.0 215.9L177.7 216.2L176.3 216.4L175.0 216.7L173.7 216.9L172.4 217.2L171.1 217.4L169.8 217.6L168.5 217.8L167.2 218.1L165.9 218.3L164.6 218.5L163.3 218.7L162.0 218.9L160.7 219.2L159.3 219.4L158.0 219.6L156.7 219.9L155.4 220.1L154.1 220.4L152.8 220.6L151.5 220.9L150.2 221.1L148.9 221.3L147.6 221.5L146.3 221.7L145.0 221.9L143.7 222.1L142.3 222.3L141.0 222.5L139.7 222.7L138.4 222.8L137.1 223.0L135.8 223.2L134.5 223.4L133.2 223.6L131.9 223.8L130.6 224.0L129.3 224.2L128.0 224.4L126.7 224.6L125.3 224.8L124.0 225.1L122.7 225.3L121.4 225.5L120.1 225.8L118.8 226.0L117.5 226.3L116.2 226.6L114.9 226.9L113.6 227.2L112.3 227.6L111.0 227.9L109.7 228.3L108.3 228.7L107.0 229.0L105.7 229.4L104.4 229.8L103.1 230.2L101.8 230.6L100.5 231.0L99.2 231.4L97.9 231.7L96.6 232.1L95.3 232.4L94.0 232.8L92.7 233.1L91.3 233.4L90.0 233.8L88.7 234.1L87.4 234.4L86.1 234.6L84.8 234.9L83.5 235.2M83.5 235.2L84.7 232.7L85.9 230.3L87.0 228.0L88.2 225.8L89.4 223.7L90.6 221.7L91.8 219.7L92.9 218.0L94.1 216.3L95.3 214.8L96.5 213.4L97.6 212.2L98.8 211.1L100.0 210.3L101.2 209.9L102.1 209.6L103.0 209.2L104.0 208.9L104.9 208.6L105.8 208.3L106.8 207.9L107.7 207.6L108.6 207.3L109.5 207.0L110.5 206.7L111.4 206.4L112.3 206.1L113.2 205.8L114.2 205.5L115.1 205.3L116.0 205.0L117.0 204.7L117.9 204.4L118.8 204.2L119.7 203.9L120.7 203.7L121.6 203.4L122.5 203.1L123.5 202.9L124.4 202.6L125.3 202.4L126.2 202.2L127.2 201.9L128.1 201.7L129.0 201.4L130.0 201.2L130.9 201.0L131.8 200.8L132.7 200.5L133.7 200.3L134.6 200.1L135.5 199.9L136.5 199.7L137.4 199.4L138.3 199.2L139.2 199.0L140.2 198.8L141.1 198.6L142.0 198.4L143.0 198.2L143.9 198.0L144.8 197.8L145.7 197.6L146.7 197.4L147.6 197.2L148.5 197.0L149.5 196.9L150.4 196.7L151.3 196.5L152.2 196.3L153.2 196.1L154.1 195.9L155.0 195.7L156.0 195.5L156.9 195.3L157.8 195.0L158.7 194.8L159.7 194.6L160.6 194.4L161.5 194.1L162.5 193.9L163.4 193.7L164.3 193.4L165.2 193.2L166.2 193.0L167.1 192.8L168.0 192.6L169.0 192.4L169.9 192.2L170.8 192.0L171.7 191.9L172.7 191.7L173.6 191.6L174.5 191.4L175.5 191.3L176.4 191.1L177.3 191.0L178.2 190.8L179.2 190.7L180.1 190.6L181.0 190.4L182.0 190.3L182.9 190.2L183.8 190.1L184.7 189.9L185.7 189.8L186.6 189.7L187.5 189.6L188.4 189.5L189.4 189.5L190.3 189.4L191.2 189.3L192.2 189.3L193.1 189.2L194.0 189.1L194.9 189.1L195.9 189.1L196.8 189.0L197.7 189.0L198.7 189.0L199.6 189.0L200.5 188.9L201.4 188.9L202.4 188.9L203.3 188.9L204.2 188.9L205.2 188.8L206.1 188.8L207.0 188.8L207.9 188.8L208.9 188.7L209.8 188.7L210.7 188.7L211.7 188.6L212.6 188.6L213.5 188.5L214.4 188.5L215.4 188.4L216.3 188.4L217.2 188.3L218.2 188.2L219.1 188.1L220.0 188.0L220.9 187.9L221.9 187.8L222.8 187.6L223.7 187.3L224.7 186.8L225.6 186.3L226.5 185.7L227.4 185.0L228.4 184.3L229.3 183.5L230.2 182.7L231.2 181.9L232.1 181.1L233.0 180.3L233.9 179.5L234.9 178.7L235.8 177.9L236.7 176.9L237.7 176.0L238.6 175.0L239.5 174.0L240.4 173.0L241.4 172.0L242.3 171.0L243.2 169.9L244.2 168.8L245.1 167.7L246.0 166.5L246.9 165.3L247.9 164.0L248.8 162.8L249.7 161.5L250.7 160.1L251.6 158.8L252.5 157.4L253.4 156.0L254.4 154.5L255.3 153.0L256.2 151.6L257.2 150.1L258.1 148.7L259.0 147.2L259.9 145.8L260.9 144.4L261.8 143.0L262.7 141.6L263.7 140.3L264.6 138.9L265.5 137.6L266.4 136.2L267.4 134.8L268.3 133.4L269.2 132.1L270.1 130.9L271.1 129.9L272.0 128.9L272.9 128.0L273.9 127.1L274.8 126.2L275.7 125.5L276.6 125.0L277.6 124.7L278.5 124.7L279.4 124.8L280.4 124.9L281.3 125.0L282.2 125.2L283.1 125.4L284.1 125.6L285.0 125.9L285.9 126.3L286.9 126.7L287.8 127.3L288.7 128.0L289.6 128.6L290.6 129.4L291.5 130.1L292.4 130.9L293.4 131.8L294.3 132.7L295.2 133.7L296.1 134.7L297.1 135.8L298.0 136.7L298.9 137.7L299.9 138.7L300.8 139.6L301.7 140.6L302.6 141.6L303.6 142.6L304.5 143.6L303.2 155.7L301.9 159.1L300.6 161.6L299.3 163.9L298.0 166.0L296.7 168.0L295.3 169.7L294.0 171.0L292.7 172.1L291.4 173.1L290.1 174.0L288.8 174.8L287.5 175.6L286.2 176.4L284.9 177.1L283.6 177.7L282.3 178.4L281.0 179.0L279.7 179.6L278.3 180.1L277.0 180.7L275.7 181.2L274.4 181.7L273.1 182.1L271.8 182.6L270.5 183.1L269.2 183.5L267.9 183.9L266.6 184.3L265.3 184.6L264.0 185.0L262.7 185.4L261.3 185.8L260.0 186.1L258.7 186.5L257.4 186.9L256.1 187.4L254.8 187.9L253.5 188.4L252.2 188.9L250.9 189.5L249.6 190.1L248.3 190.7L247.0 191.4L245.7 192.0L244.3 192.6L243.0 193.2L241.7 193.8L240.4 194.4L239.1 195.0L237.8 195.7L236.5 196.3L235.2 196.9L233.9 197.5L232.6 198.1L231.3 198.8L230.0 199.6L228.7 200.4L227.3 201.2L226.0 202.1L224.7 202.9L223.4 203.7L222.1 204.5L220.8 205.1L219.5 205.8L218.2 206.3L216.9 206.7L215.6 207.2L214.3 207.6L213.0 208.1L211.7 208.5L210.3 208.9L209.0 209.2L207.7 209.6L206.4 210.0L205.1 210.3L203.8 210.6L202.5 211.0L201.2 211.3L199.9 211.6L198.6 211.9L197.3 212.2L196.0 212.5L194.7 212.8L193.3 213.1L192.0 213.4L190.7 213.7L189.4 214.0L188.1 214.3L186.8 214.6L185.5 215.0L184.2 215.3L182.9 215.6L181.6 215.9L180.3 216.2L179.0 216.5L177.7 216.8L176.3 217.1L175.0 217.3L173.7 217.6L172.4 217.8L171.1 218.1L169.8 218.3L168.5 218.6L167.2 218.8L165.9 219.0L164.6 219.3L163.3 219.5L162.0 219.8L160.7 220.0L159.3 220.2L158.0 220.5L156.7 220.8L155.4 221.0L154.1 221.3L152.8 221.6L151.5 221.8L150.2 222.1L148.9 222.3L147.6 222.6L146.3 222.8L145.0 223.0L143.7 223.2L142.3 223.4L141.0 223.6L139.7 223.8L138.4 224.0L137.1 224.2L135.8 224.4L134.5 224.6L133.2 224.8L131.9 225.0L130.6 225.2L129.3 225.4L128.0 225.7L126.7 225.9L125.3 226.1L124.0 226.3L122.7 226.6L121.4 226.8L120.1 227.1L118.8 227.4L117.5 227.7L116.2 228.0L114.9 228.3L113.6 228.7L112.3 229.0L111.0 229.4L109.7 229.8L108.3 230.2L107.0 230.6L105.7 231.0L104.4 231.4L103.1 231.9L101.8 232.3L100.5 232.7L99.2 233.1L97.9 233.5L96.6 233.9L95.3 234.2L94.0 234.6L92.7 234.9L91.3 235.3L90.0 235.6L88.7 236.0L87.4 236.3L86.1 236.6L84.8 236.9L83.5 237.2M83.5 237.2L84.7 234.5L85.9 231.9L87.0 229.4L88.2 227.0L89.4 224.7L90.6 222.5L91.8 220.5L92.9 218.5L94.1 216.7L95.3 215.1L96.5 213.6L97.6 212.3L98.8 211.2L100.0 210.3L101.2 209.8L102.1 209.5L103.0 209.1L104.0 208.8L104.9 208.4L105.8 208.1L106.8 207.7L107.7 207.4L108.6 207.1L109.5 206.7L110.5 206.4L111.4 206.1L112.3 205.8L113.2 205.5L114.2 205.2L115.1 204.9L116.0 204.6L117.0 204.3L117.9 204.0L118.8 203.7L119.7 203.4L120.7 203.1L121.6 202.9L122.5 202.6L123.5 202.3L124.4 202.1L125.3 201.8L126.2 201.6L127.2 201.3L128.1 201.1L129.0 200.8L130.0 200.6L130.9 200.3L131.8 200.1L132.7 199.8L133.7 199.6L134.6 199.4L135.5 199.1L136.5 198.9L137.4 198.7L138.3 198.5L139.2 198.2L140.2 198.0L141.1 197.8L142.0 197.6L143.0 197.4L143.9 197.2L144.8 197.0L145.7 196.8L146.7 196.6L147.6 196.4L148.5 196.1L149.5 195.9L150.4 195.7L151.3 195.5L152.2 195.3L153.2 195.1L154.1 194.9L155.0 194.7L156.0 194.5L156.9 194.2L157.8 194.0L158.7 193.8L159.7 193.5L160.6 193.3L161.5 193.0L162.5 192.8L163.4 192.5L164.3 192.3L165.2 192.0L166.2 191.8L167.1 191.5L168.0 191.3L169.0 191.1L169.9 190.9L170.8 190.7L171.7 190.6L172.7 190.4L173.6 190.2L174.5 190.1L175.5 189.9L176.4 189.8L177.3 189.6L178.2 189.5L179.2 189.3L180.1 189.2L181.0 189.0L182.0 188.9L182.9 188.8L183.8 188.6L184.7 188.5L185.7 188.4L186.6 188.3L187.5 188.2L188.4 188.1L189.4 188.0L190.3 187.9L191.2 187.8L192.2 187.8L193.1 187.7L194.0 187.7L194.9 187.6L195.9 187.6L196.8 187.6L197.7 187.5L198.7 187.5L199.6 187.5L200.5 187.5L201.4 187.4L202.4 187.4L203.3 187.4L204.2 187.4L205.2 187.4L206.1 187.3L207.0 187.3L207.9 187.3L208.9 187.3L209.8 187.2L210.7 187.2L211.7 187.2L212.6 187.1L213.5 187.1L214.4 187.0L215.4 187.0L216.3 186.9L217.2 186.8L218.2 186.8L219.1 186.7L220.0 186.6L220.9 186.5L221.9 186.3L222.8 186.1L223.7 185.8L224.7 185.3L225.6 184.7L226.5 184.0L227.4 183.3L228.4 182.5L229.3 181.7L230.2 180.8L231.2 179.9L232.1 179.1L233.0 178.2L233.9 177.4L234.9 176.6L235.8 175.7L236.7 174.8L237.7 173.8L238.6 172.9L239.5 171.9L240.4 170.8L241.4 169.8L242.3 168.7L243.2 167.6L244.2 166.5L245.1 165.3L246.0 164.1L246.9 162.8L247.9 161.5L248.8 160.2L249.7 158.8L250.7 157.5L251.6 156.1L252.5 154.7L253.4 153.2L254.4 151.7L255.3 150.2L256.2 148.7L257.2 147.2L258.1 145.8L259.0 144.3L259.9 142.9L260.9 141.4L261.8 140.0L262.7 138.6L263.7 137.2L264.6 135.8L265.5 134.5L266.4 133.1L267.4 131.7L268.3 130.3L269.2 129.0L270.1 127.8L271.1 126.7L272.0 125.8L272.9 124.8L273.9 123.9L274.8 123.0L275.7 122.3L276.6 121.8L277.6 121.5L278.5 121.5L279.4 121.5L280.4 121.6L281.3 121.8L282.2 121.9L283.1 122.1L284.1 122.4L285.0 122.6L285.9 123.0L286.9 123.5L287.8 124.1L288.7 124.8L289.6 125.5L290.6 126.2L291.5 127.0L292.4 127.8L293.4 128.8L294.3 129.8L295.2 130.9L296.1 132.0L297.1 133.0L298.0 134.1L298.9 135.1L299.9 136.1L300.8 137.1L301.7 138.1L302.6 139.1L303.6 140.2L304.5 141.2L303.2 155.8L301.9 159.6L300.6 162.2L299.3 164.5L298.0 166.6L296.7 168.5L295.3 170.1L294.0 171.4L292.7 172.6L291.4 173.5L290.1 174.4L288.8 175.3L287.5 176.1L286.2 176.8L284.9 177.5L283.6 178.2L282.3 178.9L281.0 179.5L279.7 180.1L278.3 180.6L277.0 181.2L275.7 181.7L274.4 182.2L273.1 182.7L271.8 183.2L270.5 183.6L269.2 184.1L267.9 184.5L266.6 184.9L265.3 185.2L264.0 185.6L262.7 186.0L261.3 186.4L260.0 186.8L258.7 187.2L257.4 187.6L256.1 188.0L254.8 188.5L253.5 189.0L252.2 189.6L250.9 190.2L249.6 190.8L248.3 191.4L247.0 192.0L245.7 192.7L244.3 193.3L243.0 193.9L241.7 194.5L240.4 195.0L239.1 195.6L237.8 196.2L236.5 196.8L235.2 197.4L233.9 198.0L232.6 198.6L231.3 199.3L230.0 200.0L228.7 200.8L227.3 201.6L226.0 202.4L224.7 203.2L223.4 203.9L222.1 204.7L220.8 205.3L219.5 205.9L218.2 206.5L216.9 206.9L215.6 207.4L214.3 207.8L213.0 208.3L211.7 208.7L210.3 209.1L209.0 209.5L207.7 209.8L206.4 210.2L205.1 210.5L203.8 210.9L202.5 211.2L201.2 211.6L199.9 211.9L198.6 212.2L197.3 212.5L196.0 212.8L194.7 213.1L193.3 213.5L192.0 213.8L190.7 214.1L189.4 214.4L188.1 214.8L186.8 215.1L185.5 215.4L184.2 215.8L182.9 216.1L181.6 216.4L180.3 216.8L179.0 217.1L177.7 217.4L176.3 217.7L175.0 218.0L173.7 218.3L172.4 218.5L171.1 218.8L169.8 219.1L168.5 219.3L167.2 219.6L165.9 219.8L164.6 220.1L163.3 220.3L162.0 220.6L160.7 220.8L159.3 221.1L158.0 221.4L156.7 221.7L155.4 222.0L154.1 222.3L152.8 222.5L151.5 222.8L150.2 223.1L148.9 223.4L147.6 223.6L146.3 223.9L145.0 224.1L143.7 224.3L142.3 224.5L141.0 224.8L139.7 225.0L138.4 225.2L137.1 225.4L135.8 225.6L134.5 225.8L133.2 226.0L131.9 226.2L130.6 226.5L129.3 226.7L128.0 226.9L126.7 227.2L125.3 227.4L124.0 227.7L122.7 227.9L121.4 228.2L120.1 228.5L118.8 228.8L117.5 229.1L116.2 229.4L114.9 229.7L113.6 230.1L112.3 230.5L111.0 230.9L109.7 231.3L108.3 231.7L107.0 232.2L105.7 232.6L104.4 233.1L103.1 233.5L101.8 234.0L100.5 234.4L99.2 234.8L97.9 235.2L96.6 235.7L95.3 236.0L94.0 236.4L92.7 236.8L91.3 237.2L90.0 237.5L88.7 237.9L87.4 238.2L86.1 238.5L84.8 238.9L83.5 239.2M83.5 239.2L84.7 236.3L85.9 233.5L87.0 230.8L88.2 228.2L89.4 225.8L90.6 223.4L91.8 221.2L92.9 219.1L94.1 217.2L95.3 215.4L96.5 213.8L97.6 212.4L98.8 211.2L100.0 210.3L101.2 209.8L102.1 209.4L103.0 209.0L104.0 208.6L104.9 208.2L105.8 207.9L106.8 207.5L107.7 207.1L108.6 206.8L109.5 206.4L110.5 206.1L111.4 205.8L112.3 205.4L113.2 205.1L114.2 204.8L115.1 204.5L116.0 204.1L117.0 203.8L117.9 203.5L118.8 203.2L119.7 202.9L120.7 202.6L121.6 202.3L122.5 202.0L123.5 201.8L124.4 201.5L125.3 201.2L126.2 200.9L127.2 200.7L128.1 200.4L129.0 200.1L130.0 199.9L130.9 199.6L131.8 199.4L132.7 199.1L133.7 198.9L134.6 198.6L135.5 198.4L136.5 198.1L137.4 197.9L138.3 197.7L139.2 197.4L140.2 197.2L141.1 197.0L142.0 196.7L143.0 196.5L143.9 196.3L144.8 196.1L145.7 195.9L146.7 195.6L147.6 195.4L148.5 195.2L149.5 195.0L150.4 194.8L151.3 194.6L152.2 194.3L153.2 194.1L154.1 193.9L155.0 193.7L156.0 193.4L156.9 193.2L157.8 192.9L158.7 192.7L159.7 192.4L160.6 192.1L161.5 191.9L162.5 191.6L163.4 191.3L164.3 191.0L165.2 190.8L166.2 190.5L167.1 190.3L168.0 190.0L169.0 189.8L169.9 189.6L170.8 189.4L171.7 189.2L172.7 189.0L173.6 188.9L174.5 188.7L175.5 188.5L176.4 188.4L177.3 188.2L178.2 188.0L179.2 187.9L180.1 187.7L181.0 187.6L182.0 187.4L182.9 187.3L183.8 187.1L184.7 187.0L185.7 186.9L186.6 186.8L187.5 186.7L188.4 186.6L189.4 186.5L190.3 186.4L191.2 186.3L192.2 186.2L193.1 186.2L194.0 186.1L194.9 186.1L195.9 186.1L196.8 186.0L197.7 186.0L198.7 186.0L199.6 186.0L200.5 185.9L201.4 185.9L202.4 185.9L203.3 185.9L204.2 185.9L205.2 185.8L206.1 185.8L207.0 185.8L207.9 185.8L208.9 185.7L209.8 185.7L210.7 185.7L211.7 185.6L212.6 185.6L213.5 185.5L214.4 185.5L215.4 185.4L216.3 185.4L217.2 185.3L218.2 185.2L219.1 185.2L220.0 185.1L220.9 184.9L221.9 184.8L222.8 184.6L223.7 184.2L224.7 183.7L225.6 183.1L226.5 182.4L227.4 181.6L228.4 180.7L229.3 179.9L230.2 179.0L231.2 178.0L232.1 177.1L233.0 176.3L233.9 175.4L234.9 174.6L235.8 173.7L236.7 172.8L237.7 171.8L238.6 170.8L239.5 169.8L240.4 168.7L241.4 167.7L242.3 166.5L243.2 165.4L244.2 164.2L245.1 163.0L246.0 161.8L246.9 160.5L247.9 159.1L248.8 157.7L249.7 156.3L250.7 154.9L251.6 153.5L252.5 152.1L253.4 150.6L254.4 149.1L255.3 147.5L256.2 146.0L257.2 144.5L258.1 143.0L259.0 141.5L259.9 140.1L260.9 138.6L261.8 137.2L262.7 135.7L263.7 134.3L264.6 132.9L265.5 131.6L266.4 130.1L267.4 128.7L268.3 127.3L269.2 126.0L270.1 124.8L271.1 123.8L272.0 122.8L272.9 121.8L273.9 120.9L274.8 120.0L275.7 119.3L276.6 118.7L277.6 118.4L278.5 118.4L279.4 118.5L280.4 118.5L281.3 118.7L282.2 118.8L283.1 119.0L284.1 119.2L285.0 119.5L285.9 119.9L286.9 120.4L287.8 121.0L288.7 121.7L289.6 122.5L290.6 123.3L291.5 124.1L292.4 125.0L293.4 126.0L294.3 127.1L295.2 128.2L296.1 129.3L297.1 130.5L298.0 131.5L298.9 132.6L299.9 133.6L300.8 134.7L301.7 135.7L302.6 136.8L303.6 137.8L304.5 138.9L303.2 154.7L301.9 160.2L300.6 162.8L299.3 165.1L298.0 167.1L296.7 169.0L295.3 170.6L294.0 171.9L292.7 173.0L291.4 174.0L290.1 174.9L288.8 175.7L287.5 176.5L286.2 177.3L284.9 178.0L283.6 178.7L282.3 179.3L281.0 180.0L279.7 180.6L278.3 181.1L277.0 181.7L275.7 182.2L274.4 182.7L273.1 183.2L271.8 183.7L270.5 184.2L269.2 184.6L267.9 185.1L266.6 185.5L265.3 185.9L264.0 186.2L262.7 186.6L261.3 187.0L260.0 187.4L258.7 187.8L257.4 188.3L256.1 188.7L254.8 189.2L253.5 189.7L252.2 190.3L250.9 190.9L249.6 191.5L248.3 192.1L247.0 192.7L245.7 193.4L244.3 193.9L243.0 194.5L241.7 195.1L240.4 195.7L239.1 196.2L237.8 196.8L236.5 197.4L235.2 197.9L233.9 198.5L232.6 199.1L231.3 199.7L230.0 200.4L228.7 201.2L227.3 201.9L226.0 202.7L224.7 203.4L223.4 204.2L222.1 204.9L220.8 205.5L219.5 206.1L218.2 206.6L216.9 207.1L215.6 207.6L214.3 208.0L213.0 208.5L211.7 208.9L210.3 209.3L209.0 209.7L207.7 210.1L206.4 210.4L205.1 210.8L203.8 211.1L202.5 211.5L201.2 211.8L199.9 212.2L198.6 212.5L197.3 212.8L196.0 213.2L194.7 213.5L193.3 213.8L192.0 214.2L190.7 214.5L189.4 214.9L188.1 215.2L186.8 215.6L185.5 215.9L184.2 216.3L182.9 216.7L181.6 217.0L180.3 217.4L179.0 217.7L177.7 218.0L176.3 218.3L175.0 218.7L173.7 218.9L172.4 219.2L171.1 219.5L169.8 219.8L168.5 220.1L167.2 220.3L165.9 220.6L164.6 220.9L163.3 221.2L162.0 221.4L160.7 221.7L159.3 222.0L158.0 222.3L156.7 222.6L155.4 222.9L154.1 223.2L152.8 223.5L151.5 223.9L150.2 224.2L148.9 224.5L147.6 224.7L146.3 225.0L145.0 225.3L143.7 225.5L142.3 225.7L141.0 225.9L139.7 226.1L138.4 226.4L137.1 226.6L135.8 226.8L134.5 227.0L133.2 227.3L131.9 227.5L130.6 227.7L129.3 228.0L128.0 228.2L126.7 228.5L125.3 228.7L124.0 229.0L122.7 229.3L121.4 229.6L120.1 229.9L118.8 230.2L117.5 230.5L116.2 230.8L114.9 231.2L113.6 231.6L112.3 232.0L111.0 232.4L109.7 232.9L108.3 233.3L107.0 233.8L105.7 234.2L104.4 234.7L103.1 235.2L101.8 235.7L100.5 236.1L99.2 236.6L97.9 237.0L96.6 237.5L95.3 237.9L94.0 238.3L92.7 238.7L91.3 239.1L90.0 239.4L88.7 239.8L87.4 240.2L86.1 240.5L84.8 240.9L83.5 241.2M83.5 241.2L84.7 238.1L85.9 235.1L87.0 232.2L88.2 229.5L89.4 226.8L90.6 224.3L91.8 222.0L92.9 219.7L94.1 217.7L95.3 215.8L96.5 214.0L97.6 212.5L98.8 211.2L100.0 210.2L101.2 209.7L102.1 209.3L103.0 208.9L104.0 208.5L104.9 208.1L105.8 207.7L106.8 207.3L107.7 206.9L108.6 206.5L109.5 206.1L110.5 205.8L111.4 205.4L112.3 205.1L113.2 204.7L114.2 204.4L115.1 204.0L116.0 203.7L117.0 203.4L117.9 203.0L118.8 202.7L119.7 202.4L120.7 202.1L121.6 201.8L122.5 201.5L123.5 201.2L124.4 200.9L125.3 200.6L126.2 200.3L127.2 200.0L128.1 199.7L129.0 199.5L130.0 199.2L130.9 198.9L131.8 198.6L132.7 198.4L133.7 198.1L134.6 197.9L135.5 197.6L136.5 197.3L137.4 197.1L138.3 196.8L139.2 196.6L140.2 196.3L141.1 196.1L142.0 195.9L143.0 195.6L143.9 195.4L144.8 195.2L145.7 194.9L146.7 194.7L147.6 194.5L148.5 194.2L149.5 194.0L150.4 193.8L151.3 193.6L152.2 193.3L153.2 193.1L154.1 192.8L155.0 192.6L156.0 192.3L156.9 192.1L157.8 191.8L158.7 191.5L159.7 191.2L160.6 190.9L161.5 190.7L162.5 190.4L163.4 190.1L164.3 189.8L165.2 189.5L166.2 189.2L167.1 188.9L168.0 188.7L169.0 188.4L169.9 188.2L170.8 188.0L171.7 187.8L172.7 187.6L173.6 187.4L174.5 187.3L175.5 187.1L176.4 186.9L177.3 186.7L178.2 186.6L179.2 186.4L180.1 186.2L181.0 186.1L182.0 185.9L182.9 185.8L183.8 185.6L184.7 185.5L185.7 185.3L186.6 185.2L187.5 185.1L188.4 185.0L189.4 184.9L190.3 184.8L191.2 184.7L192.2 184.7L193.1 184.6L194.0 184.6L194.9 184.5L195.9 184.5L196.8 184.5L197.7 184.4L198.7 184.4L199.6 184.4L200.5 184.4L201.4 184.3L202.4 184.3L203.3 184.3L204.2 184.3L205.2 184.3L206.1 184.2L207.0 184.2L207.9 184.2L208.9 184.2L209.8 184.1L210.7 184.1L211.7 184.1L212.6 184.0L213.5 184.0L214.4 183.9L215.4 183.9L216.3 183.8L217.2 183.7L218.2 183.7L219.1 183.6L220.0 183.5L220.9 183.4L221.9 183.2L222.8 183.0L223.7 182.6L224.7 182.1L225.6 181.4L226.5 180.7L227.4 179.9L228.4 179.0L229.3 178.1L230.2 177.1L231.2 176.2L232.1 175.3L233.0 174.4L233.9 173.5L234.9 172.6L235.8 171.7L236.7 170.8L237.7 169.8L238.6 168.8L239.5 167.8L240.4 166.7L241.4 165.6L242.3 164.5L243.2 163.3L244.2 162.1L245.1 160.9L246.0 159.6L246.9 158.2L247.9 156.8L248.8 155.4L249.7 153.9L250.7 152.5L251.6 151.0L252.5 149.5L253.4 148.0L254.4 146.5L255.3 144.9L256.2 143.4L257.2 141.9L258.1 140.4L259.0 138.9L259.9 137.4L260.9 135.9L261.8 134.4L262.7 133.0L263.7 131.5L264.6 130.1L265.5 128.7L266.4 127.3L267.4 125.9L268.3 124.5L269.2 123.2L270.1 122.0L271.1 120.9L272.0 119.9L272.9 119.0L273.9 118.0L274.8 117.1L275.7 116.3L276.6 115.8L277.6 115.5L278.5 115.4L279.4 115.5L280.4 115.6L281.3 115.7L282.2 115.9L283.1 116.0L284.1 116.2L285.0 116.5L285.9 116.9L286.9 117.4L287.8 118.0L288.7 118.8L289.6 119.6L290.6 120.4L291.5 121.3L292.4 122.2L293.4 123.3L294.3 124.4L295.2 125.6L296.1 126.8L297.1 128.0L298.0 129.1L298.9 130.2L299.9 131.3L300.8 132.3L301.7 133.4L302.6 134.5L303.6 135.6L304.5 136.7L303.2 153.1L301.9 160.8L300.6 163.4L299.3 165.7L298.0 167.7L296.7 169.6L295.3 171.1L294.0 172.4L292.7 173.5L291.4 174.5L290.1 175.4L288.8 176.2L287.5 177.0L286.2 177.8L284.9 178.5L283.6 179.2L282.3 179.8L281.0 180.5L279.7 181.1L278.3 181.7L277.0 182.2L275.7 182.8L274.4 183.3L273.1 183.8L271.8 184.3L270.5 184.8L269.2 185.2L267.9 185.7L266.6 186.1L265.3 186.5L264.0 186.9L262.7 187.3L261.3 187.7L260.0 188.1L258.7 188.5L257.4 189.0L256.1 189.4L254.8 189.9L253.5 190.4L252.2 191.0L250.9 191.6L249.6 192.2L248.3 192.8L247.0 193.5L245.7 194.1L244.3 194.6L243.0 195.2L241.7 195.8L240.4 196.3L239.1 196.9L237.8 197.4L236.5 198.0L235.2 198.5L233.9 199.0L232.6 199.6L231.3 200.2L230.0 200.9L228.7 201.6L227.3 202.3L226.0 203.0L224.7 203.7L223.4 204.4L222.1 205.1L220.8 205.7L219.5 206.3L218.2 206.8L216.9 207.3L215.6 207.8L214.3 208.2L213.0 208.7L211.7 209.1L210.3 209.5L209.0 209.9L207.7 210.3L206.4 210.7L205.1 211.0L203.8 211.4L202.5 211.8L201.2 212.1L199.9 212.5L198.6 212.8L197.3 213.2L196.0 213.5L194.7 213.9L193.3 214.2L192.0 214.6L190.7 214.9L189.4 215.3L188.1 215.7L186.8 216.1L185.5 216.5L184.2 216.8L182.9 217.2L181.6 217.6L180.3 218.0L179.0 218.3L177.7 218.7L176.3 219.0L175.0 219.3L173.7 219.7L172.4 220.0L171.1 220.3L169.8 220.6L168.5 220.9L167.2 221.1L165.9 221.4L164.6 221.7L163.3 222.0L162.0 222.3L160.7 222.6L159.3 222.9L158.0 223.2L156.7 223.6L155.4 223.9L154.1 224.2L152.8 224.6L151.5 224.9L150.2 225.2L148.9 225.6L147.6 225.9L146.3 226.1L145.0 226.4L143.7 226.7L142.3 226.9L141.0 227.1L139.7 227.4L138.4 227.6L137.1 227.8L135.8 228.0L134.5 228.3L133.2 228.5L131.9 228.8L130.6 229.0L129.3 229.3L128.0 229.6L126.7 229.8L125.3 230.1L124.0 230.4L122.7 230.7L121.4 231.0L120.1 231.3L118.8 231.6L117.5 231.9L116.2 232.3L114.9 232.7L113.6 233.1L112.3 233.5L111.0 234.0L109.7 234.4L108.3 234.9L107.0 235.4L105.7 235.9L104.4 236.4L103.1 236.9L101.8 237.4L100.5 237.9L99.2 238.3L97.9 238.8L96.6 239.3L95.3 239.7L94.0 240.1L92.7 240.5L91.3 241.0L90.0 241.4L88.7 241.7L87.4 242.1L86.1 242.5L84.8 242.9L83.5 243.2M83.5 243.2L84.7 239.9L85.9 236.7L87.0 233.7L88.2 230.7L89.4 227.9L90.6 225.2L91.8 222.7L92.9 220.3L94.1 218.1L95.3 216.1L96.5 214.2L97.6 212.6L98.8 211.3L100.0 210.2L101.2 209.6L102.1 209.2L103.0 208.7L104.0 208.3L104.9 207.9L105.8 207.5L106.8 207.0L107.7 206.6L108.6 206.2L109.5 205.8L110.5 205.5L111.4 205.1L112.3 204.7L113.2 204.3L114.2 203.9L115.1 203.6L116.0 203.2L117.0 202.9L117.9 202.5L118.8 202.2L119.7 201.8L120.7 201.5L121.6 201.2L122.5 200.9L123.5 200.5L124.4 200.2L125.3 199.9L126.2 199.6L127.2 199.3L128.1 199.0L129.0 198.7L130.0 198.5L130.9 198.2L131.8 197.9L132.7 197.6L133.7 197.3L134.6 197.1L135.5 196.8L136.5 196.5L137.4 196.3L138.3 196.0L139.2 195.7L140.2 195.5L141.1 195.2L142.0 195.0L143.0 194.7L143.9 194.5L144.8 194.2L145.7 194.0L146.7 193.7L147.6 193.5L148.5 193.3L149.5 193.0L150.4 192.8L151.3 192.5L152.2 192.3L153.2 192.0L154.1 191.8L155.0 191.5L156.0 191.2L156.9 191.0L157.8 190.7L158.7 190.4L159.7 190.0L160.6 189.7L161.5 189.4L162.5 189.1L163.4 188.8L164.3 188.5L165.2 188.2L166.2 187.9L167.1 187.6L168.0 187.3L169.0 187.0L169.9 186.8L170.8 186.6L171.7 186.4L172.7 186.2L173.6 186.0L174.5 185.8L175.5 185.6L176.4 185.4L177.3 185.2L178.2 185.0L179.2 184.8L180.1 184.7L181.0 184.5L182.0 184.3L182.9 184.2L183.8 184.0L184.7 183.9L185.7 183.7L186.6 183.6L187.5 183.5L188.4 183.4L189.4 183.3L190.3 183.2L191.2 183.1L192.2 183.0L193.1 183.0L194.0 182.9L194.9 182.9L195.9 182.8L196.8 182.8L197.7 182.8L198.7 182.8L199.6 182.8L200.5 182.7L201.4 182.7L202.4 182.7L203.3 182.7L204.2 182.7L205.2 182.6L206.1 182.6L207.0 182.6L207.9 182.6L208.9 182.6L209.8 182.5L210.7 182.5L211.7 182.4L212.6 182.4L213.5 182.4L214.4 182.3L215.4 182.3L216.3 182.2L217.2 182.1L218.2 182.0L219.1 182.0L220.0 181.9L220.9 181.7L221.9 181.6L222.8 181.4L223.7 181.0L224.7 180.4L225.6 179.8L226.5 179.0L227.4 178.2L228.4 177.3L229.3 176.3L230.2 175.4L231.2 174.4L232.1 173.4L233.0 172.5L233.9 171.7L234.9 170.8L235.8 169.9L236.7 168.9L237.7 167.9L238.6 166.9L239.5 165.8L240.4 164.8L241.4 163.6L242.3 162.5L243.2 161.3L244.2 160.0L245.1 158.8L246.0 157.4L246.9 156.0L247.9 154.6L248.8 153.1L249.7 151.6L250.7 150.1L251.6 148.6L252.5 147.1L253.4 145.6L254.4 144.0L255.3 142.4L256.2 140.9L257.2 139.3L258.1 137.8L259.0 136.3L259.9 134.8L260.9 133.3L261.8 131.8L262.7 130.3L263.7 128.8L264.6 127.4L265.5 126.0L266.4 124.6L267.4 123.2L268.3 121.8L269.2 120.4L270.1 119.2L271.1 118.1L272.0 117.2L272.9 116.2L273.9 115.2L274.8 114.3L275.7 113.5L276.6 112.9L277.6 112.6L278.5 112.6L279.4 112.6L280.4 112.7L281.3 112.8L282.2 113.0L283.1 113.2L284.1 113.3L285.0 113.6L285.9 114.0L286.9 114.5L287.8 115.2L288.7 116.0L289.6 116.8L290.6 117.7L291.5 118.5L292.4 119.5L293.4 120.6L294.3 121.8L295.2 123.1L296.1 124.4L297.1 125.6L298.0 126.8L298.9 127.9L299.9 129.0L300.8 130.1L301.7 131.2L302.6 132.3L303.6 133.5L304.5 134.6L303.2 151.5L301.9 161.4L300.6 164.0L299.3 166.3L298.0 168.3L296.7 170.1L295.3 171.6L294.0 172.9L292.7 174.0L291.4 174.9L290.1 175.8L288.8 176.7L287.5 177.5L286.2 178.3L284.9 179.0L283.6 179.7L282.3 180.3L281.0 181.0L279.7 181.6L278.3 182.2L277.0 182.8L275.7 183.3L274.4 183.9L273.1 184.4L271.8 184.9L270.5 185.4L269.2 185.9L267.9 186.3L266.6 186.7L265.3 187.1L264.0 187.5L262.7 188.0L261.3 188.4L260.0 188.8L258.7 189.2L257.4 189.7L256.1 190.1L254.8 190.6L253.5 191.2L252.2 191.7L250.9 192.3L249.6 193.0L248.3 193.6L247.0 194.2L245.7 194.8L244.3 195.3L243.0 195.9L241.7 196.4L240.4 197.0L239.1 197.5L237.8 198.0L236.5 198.5L235.2 199.1L233.9 199.6L232.6 200.1L231.3 200.7L230.0 201.3L228.7 202.0L227.3 202.6L226.0 203.3L224.7 204.0L223.4 204.7L222.1 205.3L220.8 205.9L219.5 206.5L218.2 207.0L216.9 207.5L215.6 208.0L214.3 208.4L213.0 208.9L211.7 209.3L210.3 209.7L209.0 210.1L207.7 210.5L206.4 210.9L205.1 211.3L203.8 211.7L202.5 212.1L201.2 212.4L199.9 212.8L198.6 213.2L197.3 213.5L196.0 213.9L194.7 214.2L193.3 214.6L192.0 215.0L190.7 215.4L189.4 215.8L188.1 216.2L186.8 216.6L185.5 217.0L184.2 217.4L182.9 217.8L181.6 218.2L180.3 218.6L179.0 219.0L177.7 219.3L176.3 219.7L175.0 220.0L173.7 220.4L172.4 220.7L171.1 221.0L169.8 221.3L168.5 221.6L167.2 222.0L165.9 222.3L164.6 222.6L163.3 222.9L162.0 223.2L160.7 223.5L159.3 223.8L158.0 224.2L156.7 224.5L155.4 224.9L154.1 225.3L152.8 225.6L151.5 226.0L150.2 226.3L148.9 226.7L147.6 227.0L146.3 227.3L145.0 227.6L143.7 227.9L142.3 228.1L141.0 228.4L139.7 228.6L138.4 228.8L137.1 229.1L135.8 229.3L134.5 229.6L133.2 229.8L131.9 230.1L130.6 230.4L129.3 230.6L128.0 230.9L126.7 231.2L125.3 231.5L124.0 231.8L122.7 232.1L121.4 232.4L120.1 232.7L118.8 233.0L117.5 233.4L116.2 233.8L114.9 234.2L113.6 234.6L112.3 235.1L111.0 235.5L109.7 236.0L108.3 236.5L107.0 237.0L105.7 237.5L104.4 238.1L103.1 238.6L101.8 239.1L100.5 239.6L99.2 240.1L97.9 240.6L96.6 241.1L95.3 241.6L94.0 242.0L92.7 242.4L91.3 242.9L90.0 243.3L88.7 243.7L87.4 244.1L86.1 244.5L84.8 244.9L83.5 245.2M83.5 245.2L84.7 241.7L85.9 238.3L87.0 235.1L88.2 232.0L89.4 229.0L90.6 226.1L91.8 223.4L92.9 220.9L94.1 218.6L95.3 216.4L96.5 214.5L97.6 212.7L98.8 211.3L100.0 210.2L101.2 209.5L102.1 209.1L103.0 208.6L104.0 208.1L104.9 207.7L105.8 207.2L106.8 206.8L107.7 206.4L108.6 205.9L109.5 205.5L110.5 205.1L111.4 204.7L112.3 204.3L113.2 203.9L114.2 203.5L115.1 203.1L116.0 202.7L117.0 202.4L117.9 202.0L118.8 201.6L119.7 201.3L120.7 200.9L121.6 200.6L122.5 200.2L123.5 199.9L124.4 199.6L125.3 199.3L126.2 198.9L127.2 198.6L128.1 198.3L129.0 198.0L130.0 197.7L130.9 197.4L131.8 197.1L132.7 196.8L133.7 196.5L134.6 196.2L135.5 196.0L136.5 195.7L137.4 195.4L138.3 195.1L139.2 194.8L140.2 194.6L141.1 194.3L142.0 194.0L143.0 193.8L143.9 193.5L144.8 193.2L145.7 193.0L146.7 192.7L147.6 192.5L148.5 192.2L149.5 192.0L150.4 191.7L151.3 191.5L152.2 191.2L153.2 190.9L154.1 190.6L155.0 190.4L156.0 190.1L156.9 189.8L157.8 189.5L158.7 189.2L159.7 188.8L160.6 188.5L161.5 188.1L162.5 187.8L163.4 187.5L164.3 187.1L165.2 186.8L166.2 186.5L167.1 186.2L168.0 185.9L169.0 185.6L169.9 185.3L170.8 185.1L171.7 184.9L172.7 184.7L173.6 184.5L174.5 184.3L175.5 184.1L176.4 183.9L177.3 183.7L178.2 183.5L179.2 183.3L180.1 183.1L181.0 182.9L182.0 182.7L182.9 182.6L183.8 182.4L184.7 182.2L185.7 182.1L186.6 182.0L187.5 181.8L188.4 181.7L189.4 181.6L190.3 181.5L191.2 181.4L192.2 181.3L193.1 181.3L194.0 181.2L194.9 181.2L195.9 181.2L196.8 181.1L197.7 181.1L198.7 181.1L199.6 181.1L200.5 181.1L201.4 181.0L202.4 181.0L203.3 181.0L204.2 181.0L205.2 181.0L206.1 181.0L207.0 180.9L207.9 180.9L208.9 180.9L209.8 180.9L210.7 180.8L211.7 180.8L212.6 180.7L213.5 180.7L214.4 180.6L215.4 180.6L216.3 180.5L217.2 180.5L218.2 180.4L219.1 180.3L220.0 180.2L220.9 180.1L221.9 179.9L222.8 179.7L223.7 179.3L224.7 178.7L225.6 178.1L226.5 177.3L227.4 176.4L228.4 175.5L229.3 174.6L230.2 173.6L231.2 172.6L232.1 171.7L233.0 170.7L233.9 169.9L234.9 169.0L235.8 168.0L236.7 167.1L237.7 166.1L238.6 165.1L239.5 164.0L240.4 162.9L241.4 161.7L242.3 160.5L243.2 159.3L244.2 158.0L245.1 156.7L246.0 155.3L246.9 153.9L247.9 152.4L248.8 150.9L249.7 149.4L250.7 147.8L251.6 146.3L252.5 144.8L253.4 143.2L254.4 141.6L255.3 140.0L256.2 138.4L257.2 136.9L258.1 135.3L259.0 133.8L259.9 132.2L260.9 130.7L261.8 129.2L262.7 127.7L263.7 126.2L264.6 124.8L265.5 123.4L266.4 121.9L267.4 120.5L268.3 119.1L269.2 117.8L270.1 116.5L271.1 115.5L272.0 114.5L272.9 113.5L273.9 112.4L274.8 111.5L275.7 110.7L276.6 110.2L277.6 109.8L278.5 109.8L279.4 109.9L280.4 109.9L281.3 110.0L282.2 110.2L283.1 110.4L284.1 110.5L285.0 110.8L285.9 111.1L286.9 111.7L287.8 112.4L288.7 113.2L289.6 114.1L290.6 115.0L291.5 115.9L292.4 116.9L293.4 118.1L294.3 119.3L295.2 120.7L296.1 122.0L297.1 123.3L298.0 124.5L298.9 125.6L299.9 126.8L300.8 127.9L301.7 129.1L302.6 130.2L303.6 131.4L304.5 132.5L303.2 149.9L301.9 162.0L300.6 164.7L299.3 166.9L298.0 168.9L296.7 170.6L295.3 172.1L294.0 173.4L292.7 174.5L291.4 175.4L290.1 176.3L288.8 177.2L287.5 178.0L286.2 178.7L284.9 179.5L283.6 180.2L282.3 180.9L281.0 181.5L279.7 182.1L278.3 182.7L277.0 183.3L275.7 183.9L274.4 184.4L273.1 185.0L271.8 185.5L270.5 186.0L269.2 186.5L267.9 186.9L266.6 187.4L265.3 187.8L264.0 188.2L262.7 188.6L261.3 189.1L260.0 189.5L258.7 189.9L257.4 190.4L256.1 190.9L254.8 191.4L253.5 191.9L252.2 192.5L250.9 193.1L249.6 193.7L248.3 194.3L247.0 194.9L245.7 195.5L244.3 196.1L243.0 196.6L241.7 197.1L240.4 197.6L239.1 198.1L237.8 198.6L236.5 199.1L235.2 199.6L233.9 200.1L232.6 200.6L231.3 201.2L230.0 201.8L228.7 202.4L227.3 203.0L226.0 203.6L224.7 204.3L223.4 204.9L222.1 205.5L220.8 206.1L219.5 206.7L218.2 207.2L216.9 207.7L215.6 208.2L214.3 208.6L213.0 209.1L211.7 209.5L210.3 210.0L209.0 210.4L207.7 210.8L206.4 211.2L205.1 211.6L203.8 212.0L202.5 212.4L201.2 212.7L199.9 213.1L198.6 213.5L197.3 213.9L196.0 214.2L194.7 214.6L193.3 215.0L192.0 215.4L190.7 215.8L189.4 216.2L188.1 216.7L186.8 217.1L185.5 217.5L184.2 217.9L182.9 218.4L181.6 218.8L180.3 219.2L179.0 219.6L177.7 220.0L176.3 220.4L175.0 220.8L173.7 221.1L172.4 221.5L171.1 221.8L169.8 222.1L168.5 222.5L167.2 222.8L165.9 223.1L164.6 223.4L163.3 223.8L162.0 224.1L160.7 224.4L159.3 224.8L158.0 225.2L156.7 225.5L155.4 225.9L154.1 226.3L152.8 226.7L151.5 227.1L150.2 227.5L148.9 227.8L147.6 228.2L146.3 228.5L145.0 228.8L143.7 229.1L142.3 229.3L141.0 229.6L139.7 229.9L138.4 230.1L137.1 230.4L135.8 230.6L134.5 230.9L133.2 231.2L131.9 231.4L130.6 231.7L129.3 232.0L128.0 232.3L126.7 232.6L125.3 232.9L124.0 233.2L122.7 233.5L121.4 233.8L120.1 234.1L118.8 234.5L117.5 234.9L116.2 235.3L114.9 235.7L113.6 236.1L112.3 236.6L111.0 237.1L109.7 237.6L108.3 238.1L107.0 238.7L105.7 239.2L104.4 239.8L103.1 240.3L101.8 240.9L100.5 241.4L99.2 241.9L97.9 242.4L96.6 242.9L95.3 243.4L94.0 243.9L92.7 244.3L91.3 244.8L90.0 245.2L88.7 245.7L87.4 246.1L86.1 246.5L84.8 246.9L83.5 247.3M83.5 247.3L84.7 243.6L85.9 240.0L87.0 236.5L88.2 233.2L89.4 230.1L90.6 227.0L91.8 224.2L92.9 221.5L94.1 219.0L95.3 216.7L96.5 214.7L97.6 212.9L98.8 211.3L100.0 210.1L101.2 209.5L102.1 209.0L103.0 208.5L104.0 208.0L104.9 207.5L105.8 207.0L106.8 206.6L107.7 206.1L108.6 205.6L109.5 205.2L110.5 204.8L111.4 204.3L112.3 203.9L113.2 203.5L114.2 203.1L115.1 202.7L116.0 202.3L117.0 201.9L117.9 201.5L118.8 201.1L119.7 200.7L120.7 200.3L121.6 200.0L122.5 199.6L123.5 199.3L124.4 198.9L125.3 198.6L126.2 198.2L127.2 197.9L128.1 197.6L129.0 197.3L130.0 196.9L130.9 196.6L131.8 196.3L132.7 196.0L133.7 195.7L134.6 195.4L135.5 195.1L136.5 194.8L137.4 194.5L138.3 194.2L139.2 193.9L140.2 193.6L141.1 193.3L142.0 193.1L143.0 192.8L143.9 192.5L144.8 192.2L145.7 192.0L146.7 191.7L147.6 191.4L148.5 191.2L149.5 190.9L150.4 190.6L151.3 190.4L152.2 190.1L153.2 189.8L154.1 189.5L155.0 189.2L156.0 188.9L156.9 188.6L157.8 188.3L158.7 187.9L159.7 187.6L160.6 187.2L161.5 186.8L162.5 186.5L163.4 186.1L164.3 185.8L165.2 185.4L166.2 185.1L167.1 184.7L168.0 184.4L169.0 184.1L169.9 183.8L170.8 183.6L171.7 183.3L172.7 183.1L173.6 182.9L174.5 182.7L175.5 182.5L176.4 182.3L177.3 182.1L178.2 181.8L179.2 181.6L180.1 181.4L181.0 181.3L182.0 181.1L182.9 180.9L183.8 180.7L184.7 180.5L185.7 180.4L186.6 180.2L187.5 180.1L188.4 180.0L189.4 179.9L190.3 179.8L191.2 179.7L192.2 179.6L193.1 179.6L194.0 179.5L194.9 179.5L195.9 179.4L196.8 179.4L197.7 179.4L198.7 179.4L199.6 179.3L200.5 179.3L201.4 179.3L202.4 179.3L203.3 179.3L204.2 179.3L205.2 179.3L206.1 179.2L207.0 179.2L207.9 179.2L208.9 179.2L209.8 179.1L210.7 179.1L211.7 179.1L212.6 179.0L213.5 179.0L214.4 178.9L215.4 178.9L216.3 178.8L217.2 178.7L218.2 178.7L219.1 178.6L220.0 178.5L220.9 178.4L221.9 178.2L222.8 178.0L223.7 177.5L224.7 177.0L225.6 176.3L226.5 175.6L227.4 174.7L228.4 173.8L229.3 172.8L230.2 171.9L231.2 170.9L232.1 169.9L233.0 169.0L233.9 168.1L234.9 167.2L235.8 166.3L236.7 165.3L237.7 164.3L238.6 163.2L239.5 162.1L240.4 161.0L241.4 159.8L242.3 158.6L243.2 157.4L244.2 156.1L245.1 154.7L246.0 153.3L246.9 151.8L247.9 150.3L248.8 148.7L249.7 147.2L250.7 145.6L251.6 144.0L252.5 142.5L253.4 140.9L254.4 139.3L255.3 137.7L256.2 136.1L257.2 134.5L258.1 132.9L259.0 131.3L259.9 129.8L260.9 128.2L261.8 126.7L262.7 125.2L263.7 123.7L264.6 122.2L265.5 120.8L266.4 119.3L267.4 117.9L268.3 116.5L269.2 115.2L270.1 113.9L271.1 112.8L272.0 111.8L272.9 110.8L273.9 109.8L274.8 108.8L275.7 108.0L276.6 107.5L277.6 107.1L278.5 107.1L279.4 107.1L280.4 107.2L281.3 107.3L282.2 107.5L283.1 107.6L284.1 107.8L285.0 108.0L285.9 108.4L286.9 109.0L287.8 109.7L288.7 110.5L289.6 111.4L290.6 112.4L291.5 113.3L292.4 114.4L293.4 115.6L294.3 116.9L295.2 118.3L296.1 119.7L297.1 121.0L298.0 122.3L298.9 123.5L299.9 124.6L300.8 125.8L301.7 127.0L302.6 128.1L303.6 129.3L304.5 130.5L303.2 148.4L301.9 162.6L300.6 165.3L299.3 167.6L298.0 169.5L296.7 171.2L295.3 172.7L294.0 173.9L292.7 175.0L291.4 175.9L290.1 176.8L288.8 177.7L287.5 178.5L286.2 179.3L284.9 180.0L283.6 180.7L282.3 181.4L281.0 182.1L279.7 182.7L278.3 183.3L277.0 183.9L275.7 184.5L274.4 185.0L273.1 185.6L271.8 186.1L270.5 186.6L269.2 187.1L267.9 187.6L266.6 188.0L265.3 188.5L264.0 188.9L262.7 189.3L261.3 189.8L260.0 190.2L258.7 190.6L257.4 191.1L256.1 191.6L254.8 192.1L253.5 192.6L252.2 193.2L250.9 193.8L249.6 194.5L248.3 195.1L247.0 195.7L245.7 196.3L244.3 196.8L243.0 197.3L241.7 197.8L240.4 198.3L239.1 198.8L237.8 199.3L236.5 199.7L235.2 200.2L233.9 200.7L232.6 201.2L231.3 201.7L230.0 202.2L228.7 202.8L227.3 203.4L226.0 204.0L224.7 204.6L223.4 205.2L222.1 205.8L220.8 206.3L219.5 206.9L218.2 207.4L216.9 207.9L215.6 208.4L214.3 208.8L213.0 209.3L211.7 209.8L210.3 210.2L209.0 210.6L207.7 211.0L206.4 211.4L205.1 211.9L203.8 212.3L202.5 212.7L201.2 213.0L199.9 213.4L198.6 213.8L197.3 214.2L196.0 214.6L194.7 215.0L193.3 215.4L192.0 215.9L190.7 216.3L189.4 216.7L188.1 217.2L186.8 217.6L185.5 218.1L184.2 218.5L182.9 219.0L181.6 219.4L180.3 219.8L179.0 220.3L177.7 220.7L176.3 221.1L175.0 221.5L173.7 221.9L172.4 222.2L171.1 222.6L169.8 222.9L168.5 223.3L167.2 223.6L165.9 224.0L164.6 224.3L163.3 224.7L162.0 225.0L160.7 225.4L159.3 225.8L158.0 226.1L156.7 226.5L155.4 227.0L154.1 227.4L152.8 227.8L151.5 228.2L150.2 228.6L148.9 229.0L147.6 229.4L146.3 229.7L145.0 230.0L143.7 230.3L142.3 230.6L141.0 230.9L139.7 231.1L138.4 231.4L137.1 231.7L135.8 231.9L134.5 232.2L133.2 232.5L131.9 232.8L130.6 233.1L129.3 233.4L128.0 233.7L126.7 234.0L125.3 234.3L124.0 234.6L122.7 234.9L121.4 235.3L120.1 235.6L118.8 236.0L117.5 236.4L116.2 236.8L114.9 237.2L113.6 237.7L112.3 238.2L111.0 238.7L109.7 239.2L108.3 239.8L107.0 240.3L105.7 240.9L104.4 241.5L103.1 242.1L101.8 242.6L100.5 243.2L99.2 243.7L97.9 244.3L96.6 244.8L95.3 245.3L94.0 245.8L92.7 246.3L91.3 246.7L90.0 247.2L88.7 247.6L87.4 248.1L86.1 248.5L84.8 248.9L83.5 249.4M83.5 249.4L84.7 245.4L85.9 241.6L87.0 238.0L88.2 234.5L89.4 231.1L90.6 228.0L91.8 225.0L92.9 222.1L94.1 219.5L95.3 217.1L96.5 214.9L97.6 213.0L98.8 211.3L100.0 210.1L101.2 209.4L102.1 208.9L103.0 208.3L104.0 207.8L104.9 207.3L105.8 206.8L106.8 206.3L107.7 205.8L108.6 205.3L109.5 204.9L110.5 204.4L111.4 203.9L112.3 203.5L113.2 203.1L114.2 202.6L115.1 202.2L116.0 201.7L117.0 201.3L117.9 200.9L118.8 200.5L119.7 200.1L120.7 199.7L121.6 199.3L122.5 199.0L123.5 198.6L124.4 198.2L125.3 197.9L126.2 197.5L127.2 197.2L128.1 196.8L129.0 196.5L130.0 196.2L130.9 195.8L131.8 195.5L132.7 195.2L133.7 194.9L134.6 194.5L135.5 194.2L136.5 193.9L137.4 193.6L138.3 193.3L139.2 193.0L140.2 192.7L141.1 192.4L142.0 192.1L143.0 191.8L143.9 191.5L144.8 191.2L145.7 190.9L146.7 190.7L147.6 190.4L148.5 190.1L149.5 189.8L150.4 189.5L151.3 189.2L152.2 188.9L153.2 188.6L154.1 188.3L155.0 188.0L156.0 187.7L156.9 187.4L157.8 187.0L158.7 186.6L159.7 186.3L160.6 185.9L161.5 185.5L162.5 185.1L163.4 184.7L164.3 184.3L165.2 184.0L166.2 183.6L167.1 183.3L168.0 182.9L169.0 182.6L169.9 182.3L170.8 182.0L171.7 181.8L172.7 181.5L173.6 181.3L174.5 181.1L175.5 180.9L176.4 180.6L177.3 180.4L178.2 180.2L179.2 180.0L180.1 179.8L181.0 179.6L182.0 179.4L182.9 179.2L183.8 179.0L184.7 178.8L185.7 178.7L186.6 178.5L187.5 178.4L188.4 178.2L189.4 178.1L190.3 178.0L191.2 177.9L192.2 177.8L193.1 177.8L194.0 177.7L194.9 177.7L195.9 177.7L196.8 177.6L197.7 177.6L198.7 177.6L199.6 177.6L200.5 177.6L201.4 177.5L202.4 177.5L203.3 177.5L204.2 177.5L205.2 177.5L206.1 177.5L207.0 177.4L207.9 177.4L208.9 177.4L209.8 177.4L210.7 177.3L211.7 177.3L212.6 177.3L213.5 177.2L214.4 177.2L215.4 177.1L216.3 177.0L217.2 177.0L218.2 176.9L219.1 176.8L220.0 176.7L220.9 176.6L221.9 176.5L222.8 176.2L223.7 175.8L224.7 175.2L225.6 174.6L226.5 173.8L227.4 173.0L228.4 172.1L229.3 171.1L230.2 170.1L231.2 169.2L232.1 168.2L233.0 167.3L233.9 166.4L234.9 165.5L235.8 164.5L236.7 163.6L237.7 162.5L238.6 161.5L239.5 160.4L240.4 159.2L241.4 158.0L242.3 156.7L243.2 155.5L244.2 154.1L245.1 152.8L246.0 151.3L246.9 149.8L247.9 148.2L248.8 146.6L249.7 145.0L250.7 143.4L251.6 141.8L252.5 140.2L253.4 138.6L254.4 137.0L255.3 135.3L256.2 133.7L257.2 132.1L258.1 130.5L259.0 129.0L259.9 127.4L260.9 125.8L261.8 124.2L262.7 122.7L263.7 121.2L264.6 119.7L265.5 118.3L266.4 116.8L267.4 115.4L268.3 114.0L269.2 112.6L270.1 111.4L271.1 110.3L272.0 109.3L272.9 108.2L273.9 107.2L274.8 106.2L275.7 105.4L276.6 104.8L277.6 104.5L278.5 104.5L279.4 104.5L280.4 104.6L281.3 104.7L282.2 104.8L283.1 104.9L284.1 105.1L285.0 105.3L285.9 105.7L286.9 106.3L287.8 107.1L288.7 107.9L289.6 108.9L290.6 109.8L291.5 110.8L292.4 111.9L293.4 113.2L294.3 114.5L295.2 116.0L296.1 117.4L297.1 118.8L298.0 120.1L298.9 121.3L299.9 122.5L300.8 123.7L301.7 124.9L302.6 126.1L303.6 127.3L304.5 128.5L303.2 146.9L301.9 163.1L300.6 166.0L299.3 168.2L298.0 170.1L296.7 171.8L295.3 173.2L294.0 174.4L292.7 175.5L291.4 176.4L290.1 177.3L288.8 178.2L287.5 179.0L286.2 179.8L284.9 180.5L283.6 181.2L282.3 181.9L281.0 182.6L279.7 183.2L278.3 183.9L277.0 184.5L275.7 185.1L274.4 185.6L273.1 186.2L271.8 186.7L270.5 187.3L269.2 187.8L267.9 188.2L266.6 188.7L265.3 189.2L264.0 189.6L262.7 190.0L261.3 190.5L260.0 190.9L258.7 191.4L257.4 191.9L256.1 192.3L254.8 192.9L253.5 193.4L252.2 194.0L250.9 194.6L249.6 195.2L248.3 195.9L247.0 196.5L245.7 197.0L244.3 197.5L243.0 198.0L241.7 198.5L240.4 199.0L239.1 199.5L237.8 199.9L236.5 200.4L235.2 200.8L233.9 201.2L232.6 201.7L231.3 202.2L230.0 202.7L228.7 203.2L227.3 203.8L226.0 204.3L224.7 204.9L223.4 205.4L222.1 206.0L220.8 206.6L219.5 207.1L218.2 207.6L216.9 208.1L215.6 208.6L214.3 209.1L213.0 209.5L211.7 210.0L210.3 210.4L209.0 210.9L207.7 211.3L206.4 211.7L205.1 212.1L203.8 212.5L202.5 213.0L201.2 213.4L199.9 213.8L198.6 214.2L197.3 214.6L196.0 215.0L194.7 215.4L193.3 215.9L192.0 216.3L190.7 216.7L189.4 217.2L188.1 217.7L186.8 218.1L185.5 218.6L184.2 219.1L182.9 219.6L181.6 220.0L180.3 220.5L179.0 220.9L177.7 221.4L176.3 221.8L175.0 222.2L173.7 222.6L172.4 223.0L171.1 223.4L169.8 223.8L168.5 224.1L167.2 224.5L165.9 224.9L164.6 225.2L163.3 225.6L162.0 226.0L160.7 226.3L159.3 226.7L158.0 227.2L156.7 227.6L155.4 228.0L154.1 228.5L152.8 228.9L151.5 229.3L150.2 229.8L148.9 230.2L147.6 230.6L146.3 230.9L145.0 231.3L143.7 231.6L142.3 231.9L141.0 232.2L139.7 232.5L138.4 232.7L137.1 233.0L135.8 233.3L134.5 233.6L133.2 233.9L131.9 234.2L130.6 234.5L129.3 234.8L128.0 235.1L126.7 235.4L125.3 235.7L124.0 236.1L122.7 236.4L121.4 236.7L120.1 237.1L118.8 237.5L117.5 237.9L116.2 238.3L114.9 238.8L113.6 239.3L112.3 239.8L111.0 240.3L109.7 240.9L108.3 241.4L107.0 242.0L105.7 242.6L104.4 243.2L103.1 243.8L101.8 244.4L100.5 245.0L99.2 245.6L97.9 246.1L96.6 246.7L95.3 247.2L94.0 247.7L92.7 248.2L91.3 248.7L90.0 249.2L88.7 249.6L87.4 250.1L86.1 250.5L84.8 251.0L83.5 251.4M83.5 251.4L84.7 247.3L85.9 243.3L87.0 239.4L88.2 235.8L89.4 232.2L90.6 228.9L91.8 225.7L92.9 222.7L94.1 220.0L95.3 217.4L96.5 215.1L97.6 213.1L98.8 211.4L100.0 210.0L101.2 209.3L102.1 208.7L103.0 208.2L104.0 207.6L104.9 207.1L105.8 206.6L106.8 206.1L107.7 205.5L108.6 205.0L109.5 204.5L110.5 204.0L111.4 203.6L112.3 203.1L113.2 202.6L114.2 202.1L115.1 201.7L116.0 201.2L117.0 200.8L117.9 200.4L118.8 199.9L119.7 199.5L120.7 199.1L121.6 198.7L122.5 198.3L123.5 197.9L124.4 197.5L125.3 197.1L126.2 196.8L127.2 196.4L128.1 196.1L129.0 195.7L130.0 195.4L130.9 195.0L131.8 194.7L132.7 194.3L133.7 194.0L134.6 193.7L135.5 193.3L136.5 193.0L137.4 192.7L138.3 192.3L139.2 192.0L140.2 191.7L141.1 191.4L142.0 191.1L143.0 190.8L143.9 190.5L144.8 190.2L145.7 189.9L146.7 189.6L147.6 189.3L148.5 189.0L149.5 188.7L150.4 188.4L151.3 188.1L152.2 187.8L153.2 187.4L154.1 187.1L155.0 186.8L156.0 186.5L156.9 186.1L157.8 185.7L158.7 185.3L159.7 184.9L160.6 184.5L161.5 184.1L162.5 183.7L163.4 183.3L164.3 182.9L165.2 182.5L166.2 182.1L167.1 181.7L168.0 181.4L169.0 181.0L169.9 180.7L170.8 180.4L171.7 180.2L172.7 179.9L173.6 179.7L174.5 179.4L175.5 179.2L176.4 179.0L177.3 178.7L178.2 178.5L179.2 178.3L180.1 178.0L181.0 177.8L182.0 177.6L182.9 177.4L183.8 177.2L184.7 177.0L185.7 176.9L186.6 176.7L187.5 176.6L188.4 176.4L189.4 176.3L190.3 176.2L191.2 176.1L192.2 176.0L193.1 176.0L194.0 175.9L194.9 175.9L195.9 175.8L196.8 175.8L197.7 175.8L198.7 175.8L199.6 175.8L200.5 175.7L201.4 175.7L202.4 175.7L203.3 175.7L204.2 175.7L205.2 175.7L206.1 175.7L207.0 175.6L207.9 175.6L208.9 175.6L209.8 175.6L210.7 175.5L211.7 175.5L212.6 175.5L213.5 175.4L214.4 175.4L215.4 175.3L216.3 175.2L217.2 175.2L218.2 175.1L219.1 175.0L220.0 174.9L220.9 174.8L221.9 174.6L222.8 174.4L223.7 174.0L224.7 173.4L225.6 172.8L226.5 172.0L227.4 171.2L228.4 170.3L229.3 169.4L230.2 168.4L231.2 167.5L232.1 166.5L233.0 165.6L233.9 164.7L234.9 163.8L235.8 162.8L236.7 161.9L237.7 160.8L238.6 159.7L239.5 158.6L240.4 157.4L241.4 156.2L242.3 154.9L243.2 153.6L244.2 152.3L245.1 150.9L246.0 149.4L246.9 147.8L247.9 146.2L248.8 144.6L249.7 142.9L250.7 141.3L251.6 139.6L252.5 138.0L253.4 136.4L254.4 134.7L255.3 133.1L256.2 131.4L257.2 129.8L258.1 128.2L259.0 126.6L259.9 125.0L260.9 123.4L261.8 121.8L262.7 120.3L263.7 118.7L264.6 117.3L265.5 115.8L266.4 114.3L267.4 112.9L268.3 111.5L269.2 110.1L270.1 108.9L271.1 107.8L272.0 106.8L272.9 105.7L273.9 104.6L274.8 103.7L275.7 102.8L276.6 102.2L277.6 101.9L278.5 101.9L279.4 101.9L280.4 102.0L281.3 102.1L282.2 102.2L283.1 102.3L284.1 102.5L285.0 102.7L285.9 103.1L286.9 103.7L287.8 104.5L288.7 105.4L289.6 106.3L290.6 107.3L291.5 108.3L292.4 109.5L293.4 110.8L294.3 112.2L295.2 113.7L296.1 115.2L297.1 116.6L298.0 118.0L298.9 119.2L299.9 120.5L300.8 121.7L301.7 122.9L302.6 124.1L303.6 125.4L304.5 126.6L303.2 145.5L301.9 163.5L300.6 166.7L299.3 168.9L298.0 170.7L296.7 172.4L295.3 173.8L294.0 174.9L292.7 176.0L291.4 176.9L290.1 177.8L288.8 178.7L287.5 179.5L286.2 180.3L284.9 181.0L283.6 181.8L282.3 182.5L281.0 183.2L279.7 183.8L278.3 184.5L277.0 185.1L275.7 185.7L274.4 186.3L273.1 186.8L271.8 187.4L270.5 187.9L269.2 188.4L267.9 188.9L266.6 189.4L265.3 189.9L264.0 190.3L262.7 190.8L261.3 191.2L260.0 191.7L258.7 192.1L257.4 192.6L256.1 193.1L254.8 193.6L253.5 194.2L252.2 194.8L250.9 195.4L249.6 196.0L248.3 196.6L247.0 197.2L245.7 197.8L244.3 198.3L243.0 198.8L241.7 199.3L240.4 199.7L239.1 200.2L237.8 200.6L236.5 201.0L235.2 201.4L233.9 201.8L232.6 202.2L231.3 202.7L230.0 203.2L228.7 203.6L227.3 204.2L226.0 204.7L224.7 205.2L223.4 205.7L222.1 206.3L220.8 206.8L219.5 207.3L218.2 207.8L216.9 208.3L215.6 208.8L214.3 209.3L213.0 209.7L211.7 210.2L210.3 210.7L209.0 211.1L207.7 211.5L206.4 212.0L205.1 212.4L203.8 212.8L202.5 213.3L201.2 213.7L199.9 214.1L198.6 214.5L197.3 215.0L196.0 215.4L194.7 215.8L193.3 216.3L192.0 216.7L190.7 217.2L189.4 217.7L188.1 218.2L186.8 218.7L185.5 219.2L184.2 219.7L182.9 220.2L181.6 220.7L180.3 221.2L179.0 221.6L177.7 222.1L176.3 222.5L175.0 223.0L173.7 223.4L172.4 223.8L171.1 224.2L169.8 224.6L168.5 225.0L167.2 225.4L165.9 225.8L164.6 226.1L163.3 226.5L162.0 226.9L160.7 227.3L159.3 227.7L158.0 228.2L156.7 228.6L155.4 229.1L154.1 229.6L152.8 230.0L151.5 230.5L150.2 231.0L148.9 231.4L147.6 231.8L146.3 232.2L145.0 232.6L143.7 232.9L142.3 233.2L141.0 233.5L139.7 233.8L138.4 234.1L137.1 234.4L135.8 234.7L134.5 235.0L133.2 235.3L131.9 235.6L130.6 235.9L129.3 236.2L128.0 236.5L126.7 236.9L125.3 237.2L124.0 237.5L122.7 237.9L121.4 238.2L120.1 238.6L118.8 239.0L117.5 239.4L116.2 239.9L114.9 240.3L113.6 240.8L112.3 241.4L111.0 241.9L109.7 242.5L108.3 243.1L107.0 243.7L105.7 244.3L104.4 245.0L103.1 245.6L101.8 246.2L100.5 246.8L99.2 247.4L97.9 248.0L96.6 248.6L95.3 249.1L94.0 249.6L92.7 250.1L91.3 250.6L90.0 251.1L88.7 251.6L87.4 252.1L86.1 252.6L84.8 253.0L83.5 253.5M83.5 253.5L84.7 249.2L85.9 245.0L87.0 240.9L88.2 237.0L89.4 233.3L90.6 229.8L91.8 226.5L92.9 223.3L94.1 220.4L95.3 217.7L96.5 215.3L97.6 213.2L98.8 211.4L100.0 210.0L101.2 209.2L102.1 208.6L103.0 208.0L104.0 207.5L104.9 206.9L105.8 206.3L106.8 205.8L107.7 205.2L108.6 204.7L109.5 204.2L110.5 203.7L111.4 203.1L112.3 202.6L113.2 202.2L114.2 201.7L115.1 201.2L116.0 200.7L117.0 200.2L117.9 199.8L118.8 199.3L119.7 198.9L120.7 198.4L121.6 198.0L122.5 197.6L123.5 197.2L124.4 196.8L125.3 196.4L126.2 196.0L127.2 195.6L128.1 195.3L129.0 194.9L130.0 194.5L130.9 194.2L131.8 193.8L132.7 193.5L133.7 193.1L134.6 192.8L135.5 192.4L136.5 192.1L137.4 191.7L138.3 191.4L139.2 191.0L140.2 190.7L141.1 190.4L142.0 190.0L143.0 189.7L143.9 189.4L144.8 189.1L145.7 188.8L146.7 188.5L147.6 188.2L148.5 187.8L149.5 187.5L150.4 187.2L151.3 186.9L152.2 186.6L153.2 186.2L154.1 185.9L155.0 185.5L156.0 185.2L156.9 184.8L157.8 184.4L158.7 184.0L159.7 183.6L160.6 183.1L161.5 182.7L162.5 182.3L163.4 181.8L164.3 181.4L165.2 181.0L166.2 180.6L167.1 180.2L168.0 179.8L169.0 179.4L169.9 179.1L170.8 178.8L171.7 178.5L172.7 178.3L173.6 178.0L174.5 177.8L175.5 177.5L176.4 177.2L177.3 177.0L178.2 176.8L179.2 176.5L180.1 176.3L181.0 176.0L182.0 175.8L182.9 175.6L183.8 175.4L184.7 175.2L185.7 175.0L186.6 174.9L187.5 174.7L188.4 174.6L189.4 174.4L190.3 174.3L191.2 174.2L192.2 174.1L193.1 174.1L194.0 174.0L194.9 174.0L195.9 174.0L196.8 174.0L197.7 173.9L198.7 173.9L199.6 173.9L200.5 173.9L201.4 173.9L202.4 173.9L203.3 173.8L204.2 173.8L205.2 173.8L206.1 173.8L207.0 173.8L207.9 173.8L208.9 173.7L209.8 173.7L210.7 173.7L211.7 173.7L212.6 173.6L213.5 173.6L214.4 173.5L215.4 173.5L216.3 173.4L217.2 173.3L218.2 173.2L219.1 173.1L220.0 173.0L220.9 172.9L221.9 172.8L222.8 172.6L223.7 172.2L224.7 171.7L225.6 171.1L226.5 170.5L227.4 169.8L228.4 169.0L229.3 168.1L230.2 167.3L231.2 166.4L232.1 165.5L233.0 164.7L233.9 163.8L234.9 163.0L235.8 162.0L236.7 161.0L237.7 159.9L238.6 158.8L239.5 157.7L240.4 156.5L241.4 155.3L242.3 154.0L243.2 152.7L244.2 151.3L245.1 149.9L246.0 148.5L246.9 146.9L247.9 145.3L248.8 143.7L249.7 142.1L250.7 140.5L251.6 138.9L252.5 137.3L253.4 135.7L254.4 134.1L255.3 132.5L256.2 130.8L257.2 129.2L258.1 127.6L259.0 126.0L259.9 124.4L260.9 122.8L261.8 121.2L262.7 119.6L263.7 118.0L264.6 116.5L265.5 114.9L266.4 113.2L267.4 111.6L268.3 110.0L269.2 108.4L270.1 107.0L271.1 105.7L272.0 104.4L272.9 103.1L273.9 101.8L274.8 100.6L275.7 99.6L276.6 98.7L277.6 98.2L278.5 98.0L279.4 97.8L280.4 97.7L281.3 97.6L282.2 97.5L283.1 97.4L284.1 97.4L285.0 97.4L285.9 97.6L286.9 98.1L287.8 98.8L288.7 99.6L289.6 100.5L290.6 101.5L291.5 102.4L292.4 103.6L293.4 105.0L294.3 106.5L295.2 108.1L296.1 109.8L297.1 111.4L298.0 112.9L298.9 114.3L299.9 115.7L300.8 117.0L301.7 118.4L302.6 119.7L303.6 121.0L304.5 122.3L303.2 141.7L301.9 161.0L300.6 167.4L299.3 169.5L298.0 171.4L296.7 173.0L295.3 174.3L294.0 175.5L292.7 176.5L291.4 177.5L290.1 178.3L288.8 179.2L287.5 180.0L286.2 180.8L284.9 181.6L283.6 182.3L282.3 183.0L281.0 183.7L279.7 184.4L278.3 185.0L277.0 185.7L275.7 186.3L274.4 186.9L273.1 187.5L271.8 188.0L270.5 188.6L269.2 189.1L267.9 189.6L266.6 190.1L265.3 190.6L264.0 191.0L262.7 191.5L261.3 192.0L260.0 192.4L258.7 192.9L257.4 193.4L256.1 193.9L254.8 194.4L253.5 195.0L252.2 195.6L250.9 196.2L249.6 196.8L248.3 197.4L247.0 198.0L245.7 198.6L244.3 199.1L243.0 199.6L241.7 200.0L240.4 200.4L239.1 200.9L237.8 201.3L236.5 201.6L235.2 202.0L233.9 202.4L232.6 202.8L231.3 203.2L230.0 203.6L228.7 204.1L227.3 204.5L226.0 205.0L224.7 205.5L223.4 206.0L222.1 206.5L220.8 207.0L219.5 207.5L218.2 208.0L216.9 208.5L215.6 209.0L214.3 209.5L213.0 210.0L211.7 210.5L210.3 210.9L209.0 211.4L207.7 211.8L206.4 212.3L205.1 212.7L203.8 213.1L202.5 213.6L201.2 214.0L199.9 214.5L198.6 214.9L197.3 215.3L196.0 215.8L194.7 216.2L193.3 216.7L192.0 217.2L190.7 217.7L189.4 218.2L188.1 218.7L186.8 219.2L185.5 219.8L184.2 220.3L182.9 220.8L181.6 221.3L180.3 221.8L179.0 222.3L177.7 222.8L176.3 223.3L175.0 223.8L173.7 224.2L172.4 224.6L171.1 225.0L169.8 225.5L168.5 225.9L167.2 226.3L165.9 226.7L164.6 227.1L163.3 227.5L162.0 227.9L160.7 228.3L159.3 228.8L158.0 229.2L156.7 229.7L155.4 230.2L154.1 230.7L152.8 231.2L151.5 231.7L150.2 232.2L148.9 232.6L147.6 233.1L146.3 233.5L145.0 233.9L143.7 234.2L142.3 234.5L141.0 234.8L139.7 235.1L138.4 235.4L137.1 235.7L135.8 236.0L134.5 236.4L133.2 236.7L131.9 237.0L130.6 237.3L129.3 237.7L128.0 238.0L126.7 238.3L125.3 238.7L124.0 239.0L122.7 239.4L121.4 239.7L120.1 240.1L118.8 240.5L117.5 241.0L116.2 241.4L114.9 241.9L113.6 242.4L112.3 243.0L111.0 243.6L109.7 244.2L108.3 244.8L107.0 245.4L105.7 246.1L104.4 246.7L103.1 247.4L101.8 248.0L100.5 248.6L99.2 249.3L97.9 249.9L96.6 250.4L95.3 251.0L94.0 251.5L92.7 252.1L91.3 252.6L90.0 253.1L88.7 253.6L87.4 254.1L86.1 254.6L84.8 255.1L83.5 255.6M83.5 255.6L84.7 251.0L85.9 246.6L87.0 242.4L88.2 238.3L89.4 234.4L90.6 230.7L91.8 227.2L92.9 224.0L94.1 220.9L95.3 218.1L96.5 215.5L97.6 213.3L98.8 211.4L100.0 209.9L101.2 209.1L102.1 208.5L103.0 207.9L104.0 207.3L104.9 206.7L105.8 206.1L106.8 205.5L107.7 204.9L108.6 204.4L109.5 203.8L110.5 203.3L111.4 202.7L112.3 202.2L113.2 201.7L114.2 201.2L115.1 200.7L116.0 200.2L117.0 199.7L117.9 199.2L118.8 198.7L119.7 198.2L120.7 197.8L121.6 197.3L122.5 196.9L123.5 196.5L124.4 196.1L125.3 195.7L126.2 195.2L127.2 194.8L128.1 194.5L129.0 194.1L130.0 193.7L130.9 193.3L131.8 192.9L132.7 192.6L133.7 192.2L134.6 191.8L135.5 191.5L136.5 191.1L137.4 190.7L138.3 190.4L139.2 190.0L140.2 189.7L141.1 189.3L142.0 189.0L143.0 188.6L143.9 188.3L144.8 188.0L145.7 187.7L146.7 187.3L147.6 187.0L148.5 186.7L149.5 186.3L150.4 186.0L151.3 185.7L152.2 185.3L153.2 185.0L154.1 184.6L155.0 184.3L156.0 183.9L156.9 183.5L157.8 183.1L158.7 182.6L159.7 182.2L160.6 181.7L161.5 181.3L162.5 180.8L163.4 180.3L164.3 179.9L165.2 179.4L166.2 179.0L167.1 178.6L168.0 178.2L169.0 177.8L169.9 177.5L170.8 177.1L171.7 176.8L172.7 176.6L173.6 176.3L174.5 176.0L175.5 175.8L176.4 175.5L177.3 175.2L178.2 175.0L179.2 174.7L180.1 174.5L181.0 174.2L182.0 174.0L182.9 173.8L183.8 173.6L184.7 173.4L185.7 173.2L186.6 173.0L187.5 172.8L188.4 172.7L189.4 172.5L190.3 172.4L191.2 172.3L192.2 172.2L193.1 172.2L194.0 172.1L194.9 172.1L195.9 172.1L196.8 172.1L197.7 172.0L198.7 172.0L199.6 172.0L200.5 172.0L201.4 172.0L202.4 172.0L203.3 172.0L204.2 171.9L205.2 171.9L206.1 171.9L207.0 171.9L207.9 171.9L208.9 171.9L209.8 171.8L210.7 171.8L211.7 171.8L212.6 171.7L213.5 171.7L214.4 171.6L215.4 171.6L216.3 171.5L217.2 171.4L218.2 171.3L219.1 171.2L220.0 171.1L220.9 171.0L221.9 170.9L222.8 170.7L223.7 170.3L224.7 169.9L225.6 169.4L226.5 168.8L227.4 168.1L228.4 167.4L229.3 166.6L230.2 165.9L231.2 165.0L232.1 164.2L233.0 163.4L233.9 162.6L234.9 161.7L235.8 160.8L236.7 159.7L237.7 158.7L238.6 157.6L239.5 156.4L240.4 155.2L241.4 153.9L242.3 152.6L243.2 151.3L244.2 150.0L245.1 148.6L246.0 147.1L246.9 145.6L247.9 144.1L248.8 142.5L249.7 140.9L250.7 139.3L251.6 137.7L252.5 136.2L253.4 134.6L254.4 133.1L255.3 131.5L256.2 130.0L257.2 128.4L258.1 126.8L259.0 125.2L259.9 123.6L260.9 121.9L261.8 120.3L262.7 118.6L263.7 117.0L264.6 115.3L265.5 113.5L266.4 111.6L267.4 109.7L268.3 107.8L269.2 106.0L270.1 104.2L271.1 102.5L272.0 101.0L272.9 99.4L273.9 97.8L274.8 96.3L275.7 95.0L276.6 93.8L277.6 92.9L278.5 92.2L279.4 91.7L280.4 91.1L281.3 90.6L282.2 90.2L283.1 89.9L284.1 89.8L285.0 89.8L285.9 89.9L286.9 90.3L287.8 90.8L288.7 91.5L289.6 92.2L290.6 92.9L291.5 93.8L292.4 94.9L293.4 96.4L294.3 98.1L295.2 100.0L296.1 101.9L297.1 103.8L298.0 105.5L298.9 107.1L299.9 108.7L300.8 110.2L301.7 111.8L302.6 113.2L303.6 114.6L304.5 115.9L303.2 135.8L301.9 155.7L300.6 168.0L299.3 170.2L298.0 172.0L296.7 173.6L295.3 174.9L294.0 176.0L292.7 177.1L291.4 178.0L290.1 178.9L288.8 179.7L287.5 180.6L286.2 181.4L284.9 182.1L283.6 182.9L282.3 183.6L281.0 184.3L279.7 185.0L278.3 185.6L277.0 186.3L275.7 186.9L274.4 187.5L273.1 188.1L271.8 188.7L270.5 189.3L269.2 189.8L267.9 190.3L266.6 190.8L265.3 191.3L264.0 191.8L262.7 192.2L261.3 192.7L260.0 193.2L258.7 193.7L257.4 194.2L256.1 194.7L254.8 195.2L253.5 195.8L252.2 196.4L250.9 197.0L249.6 197.6L248.3 198.3L247.0 198.8L245.7 199.4L244.3 199.9L243.0 200.3L241.7 200.8L240.4 201.2L239.1 201.6L237.8 201.9L236.5 202.3L235.2 202.7L233.9 203.0L232.6 203.4L231.3 203.7L230.0 204.1L228.7 204.5L227.3 204.9L226.0 205.4L224.7 205.8L223.4 206.3L222.1 206.7L220.8 207.2L219.5 207.7L218.2 208.2L216.9 208.7L215.6 209.2L214.3 209.7L213.0 210.2L211.7 210.7L210.3 211.2L209.0 211.6L207.7 212.1L206.4 212.5L205.1 213.0L203.8 213.4L202.5 213.9L201.2 214.3L199.9 214.8L198.6 215.3L197.3 215.7L196.0 216.2L194.7 216.7L193.3 217.2L192.0 217.7L190.7 218.2L189.4 218.7L188.1 219.3L186.8 219.8L185.5 220.3L184.2 220.9L182.9 221.4L181.6 222.0L180.3 222.5L179.0 223.0L177.7 223.6L176.3 224.1L175.0 224.5L173.7 225.0L172.4 225.4L171.1 225.9L169.8 226.3L168.5 226.7L167.2 227.2L165.9 227.6L164.6 228.0L163.3 228.5L162.0 228.9L160.7 229.3L159.3 229.8L158.0 230.3L156.7 230.8L155.4 231.3L154.1 231.8L152.8 232.4L151.5 232.9L150.2 233.4L148.9 233.9L147.6 234.3L146.3 234.8L145.0 235.2L143.7 235.5L142.3 235.9L141.0 236.2L139.7 236.5L138.4 236.8L137.1 237.1L135.8 237.5L134.5 237.8L133.2 238.1L131.9 238.5L130.6 238.8L129.3 239.1L128.0 239.5L126.7 239.8L125.3 240.2L124.0 240.5L122.7 240.9L121.4 241.3L120.1 241.7L118.8 242.1L117.5 242.5L116.2 243.0L114.9 243.5L113.6 244.1L112.3 244.6L111.0 245.2L109.7 245.9L108.3 246.5L107.0 247.2L105.7 247.8L104.4 248.5L103.1 249.2L101.8 249.8L100.5 250.5L99.2 251.1L97.9 251.7L96.6 252.3L95.3 252.9L94.0 253.5L92.7 254.0L91.3 254.6L90.0 255.1L88.7 255.7L87.4 256.2L86.1 256.7L84.8 257.2L83.5 257.7M83.5 257.7L84.7 252.9L85.9 248.3L87.0 243.9L88.2 239.6L89.4 235.5L90.6 231.7L91.8 228.0L92.9 224.6L94.1 221.4L95.3 218.4L96.5 215.8L97.6 213.4L98.8 211.4L100.0 209.9L101.2 209.1L102.1 208.4L103.0 207.7L104.0 207.1L104.9 206.5L105.8 205.9L106.8 205.2L107.7 204.6L108.6 204.0L109.5 203.5L110.5 202.9L111.4 202.3L112.3 201.8L113.2 201.2L114.2 200.7L115.1 200.1L116.0 199.6L117.0 199.1L117.9 198.6L118.8 198.1L119.7 197.6L120.7 197.1L121.6 196.6L122.5 196.2L123.5 195.7L124.4 195.3L125.3 194.9L126.2 194.5L127.2 194.0L128.1 193.6L129.0 193.2L130.0 192.8L130.9 192.4L131.8 192.0L132.7 191.7L133.7 191.3L134.6 190.9L135.5 190.5L136.5 190.1L137.4 189.7L138.3 189.4L139.2 189.0L140.2 188.6L141.1 188.3L142.0 187.9L143.0 187.6L143.9 187.2L144.8 186.9L145.7 186.5L146.7 186.2L147.6 185.8L148.5 185.5L149.5 185.1L150.4 184.8L151.3 184.4L152.2 184.1L153.2 183.7L154.1 183.3L155.0 182.9L156.0 182.5L156.9 182.1L157.8 181.7L158.7 181.2L159.7 180.8L160.6 180.3L161.5 179.8L162.5 179.3L163.4 178.8L164.3 178.3L165.2 177.9L166.2 177.4L167.1 177.0L168.0 176.5L169.0 176.1L169.9 175.8L170.8 175.4L171.7 175.1L172.7 174.8L173.6 174.5L174.5 174.3L175.5 174.0L176.4 173.7L177.3 173.4L178.2 173.2L179.2 172.9L180.1 172.6L181.0 172.4L182.0 172.1L182.9 171.9L183.8 171.7L184.7 171.5L185.7 171.3L186.6 171.1L187.5 170.9L188.4 170.7L189.4 170.6L190.3 170.5L191.2 170.4L192.2 170.3L193.1 170.2L194.0 170.2L194.9 170.2L195.9 170.1L196.8 170.1L197.7 170.1L198.7 170.1L199.6 170.1L200.5 170.0L201.4 170.0L202.4 170.0L203.3 170.0L204.2 170.0L205.2 170.0L206.1 170.0L207.0 170.0L207.9 169.9L208.9 169.9L209.8 169.9L210.7 169.9L211.7 169.8L212.6 169.8L213.5 169.7L214.4 169.7L215.4 169.6L216.3 169.6L217.2 169.5L218.2 169.4L219.1 169.3L220.0 169.2L220.9 169.1L221.9 168.9L222.8 168.7L223.7 168.4L224.7 168.0L225.6 167.5L226.5 167.0L227.4 166.4L228.4 165.7L229.3 165.0L230.2 164.3L231.2 163.5L232.1 162.7L233.0 161.9L233.9 161.2L234.9 160.3L235.8 159.3L236.7 158.3L237.7 157.2L238.6 156.0L239.5 154.9L240.4 153.6L241.4 152.4L242.3 151.1L243.2 149.7L244.2 148.4L245.1 147.0L246.0 145.5L246.9 144.1L247.9 142.6L248.8 141.0L249.7 139.5L250.7 137.9L251.6 136.4L252.5 134.9L253.4 133.4L254.4 132.0L255.3 130.5L256.2 128.9L257.2 127.4L258.1 125.8L259.0 124.2L259.9 122.6L260.9 120.9L261.8 119.2L262.7 117.5L263.7 115.7L264.6 113.9L265.5 111.9L266.4 109.8L267.4 107.6L268.3 105.3L269.2 103.1L270.1 101.0L271.1 98.9L272.0 97.0L272.9 95.0L273.9 93.1L274.8 91.2L275.7 89.5L276.6 87.9L277.6 86.6L278.5 85.6L279.4 84.5L280.4 83.5L281.3 82.6L282.2 81.8L283.1 81.2L284.1 80.9L285.0 80.8L285.9 81.0L286.9 81.2L287.8 81.5L288.7 82.0L289.6 82.5L290.6 83.0L291.5 83.6L292.4 84.7L293.4 86.4L294.3 88.3L295.2 90.5L296.1 92.7L297.1 94.9L298.0 96.8L298.9 98.6L299.9 100.5L300.8 102.3L301.7 104.1L302.6 105.6L303.6 107.1L304.5 108.5L303.2 128.9L301.9 149.3L300.6 168.4L299.3 170.9L298.0 172.7L296.7 174.2L295.3 175.5L294.0 176.6L292.7 177.6L291.4 178.5L290.1 179.4L288.8 180.3L287.5 181.1L286.2 181.9L284.9 182.7L283.6 183.4L282.3 184.2L281.0 184.9L279.7 185.6L278.3 186.3L277.0 186.9L275.7 187.5L274.4 188.2L273.1 188.8L271.8 189.4L270.5 189.9L269.2 190.5L267.9 191.0L266.6 191.5L265.3 192.0L264.0 192.5L262.7 193.0L261.3 193.5L260.0 194.0L258.7 194.5L257.4 195.0L256.1 195.5L254.8 196.0L253.5 196.6L252.2 197.2L250.9 197.8L249.6 198.5L248.3 199.1L247.0 199.7L245.7 200.2L244.3 200.7L243.0 201.1L241.7 201.5L240.4 201.9L239.1 202.3L237.8 202.6L236.5 203.0L235.2 203.3L233.9 203.6L232.6 204.0L231.3 204.3L230.0 204.6L228.7 205.0L227.3 205.4L226.0 205.7L224.7 206.1L223.4 206.6L222.1 207.0L220.8 207.5L219.5 207.9L218.2 208.4L216.9 208.9L215.6 209.4L214.3 209.9L213.0 210.5L211.7 210.9L210.3 211.4L209.0 211.9L207.7 212.4L206.4 212.8L205.1 213.3L203.8 213.7L202.5 214.2L201.2 214.7L199.9 215.2L198.6 215.6L197.3 216.1L196.0 216.6L194.7 217.1L193.3 217.6L192.0 218.1L190.7 218.7L189.4 219.2L188.1 219.8L186.8 220.4L185.5 220.9L184.2 221.5L182.9 222.1L181.6 222.7L180.3 223.2L179.0 223.8L177.7 224.3L176.3 224.8L175.0 225.3L173.7 225.8L172.4 226.3L171.1 226.7L169.8 227.2L168.5 227.6L167.2 228.1L165.9 228.5L164.6 229.0L163.3 229.4L162.0 229.9L160.7 230.4L159.3 230.9L158.0 231.4L156.7 231.9L155.4 232.4L154.1 233.0L152.8 233.6L151.5 234.1L150.2 234.6L148.9 235.2L147.6 235.6L146.3 236.1L145.0 236.5L143.7 236.9L142.3 237.2L141.0 237.6L139.7 237.9L138.4 238.2L137.1 238.6L135.8 238.9L134.5 239.2L133.2 239.6L131.9 239.9L130.6 240.3L129.3 240.6L128.0 241.0L126.7 241.3L125.3 241.7L124.0 242.1L122.7 242.4L121.4 242.8L120.1 243.2L118.8 243.7L117.5 244.1L116.2 244.6L114.9 245.1L113.6 245.7L112.3 246.3L111.0 246.9L109.7 247.6L108.3 248.2L107.0 248.9L105.7 249.6L104.4 250.3L103.1 251.0L101.8 251.6L100.5 252.3L99.2 253.0L97.9 253.6L96.6 254.3L95.3 254.9L94.0 255.4L92.7 256.0L91.3 256.6L90.0 257.1L88.7 257.7L87.4 258.2L86.1 258.8L84.8 259.3L83.5 259.8M83.5 259.8L84.7 254.8L85.9 250.0L87.0 245.3L88.2 240.9L89.4 236.6L90.6 232.6L91.8 228.8L92.9 225.2L94.1 221.8L95.3 218.8L96.5 216.0L97.6 213.5L98.8 211.4L100.0 209.8L101.2 209.0L102.1 208.3L103.0 207.6L104.0 206.9L104.9 206.3L105.8 205.6L106.8 205.0L107.7 204.3L108.6 203.7L109.5 203.1L110.5 202.5L111.4 201.9L112.3 201.3L113.2 200.7L114.2 200.2L115.1 199.6L116.0 199.0L117.0 198.5L117.9 198.0L118.8 197.4L119.7 196.9L120.7 196.4L121.6 195.9L122.5 195.5L123.5 195.0L124.4 194.5L125.3 194.1L126.2 193.6L127.2 193.2L128.1 192.8L129.0 192.4L130.0 191.9L130.9 191.5L131.8 191.1L132.7 190.7L133.7 190.3L134.6 189.9L135.5 189.5L136.5 189.1L137.4 188.7L138.3 188.3L139.2 187.9L140.2 187.6L141.1 187.2L142.0 186.8L143.0 186.4L143.9 186.1L144.8 185.7L145.7 185.3L146.7 185.0L147.6 184.6L148.5 184.3L149.5 183.9L150.4 183.5L151.3 183.2L152.2 182.8L153.2 182.4L154.1 182.0L155.0 181.6L156.0 181.2L156.9 180.7L157.8 180.3L158.7 179.8L159.7 179.3L160.6 178.8L161.5 178.3L162.5 177.8L163.4 177.3L164.3 176.8L165.2 176.3L166.2 175.8L167.1 175.3L168.0 174.9L169.0 174.4L169.9 174.0L170.8 173.7L171.7 173.4L172.7 173.1L173.6 172.8L174.5 172.5L175.5 172.2L176.4 171.9L177.3 171.6L178.2 171.3L179.2 171.0L180.1 170.7L181.0 170.5L182.0 170.2L182.9 170.0L183.8 169.7L184.7 169.5L185.7 169.3L186.6 169.1L187.5 168.9L188.4 168.8L189.4 168.6L190.3 168.5L191.2 168.4L192.2 168.3L193.1 168.2L194.0 168.2L194.9 168.2L195.9 168.1L196.8 168.1L197.7 168.1L198.7 168.1L199.6 168.1L200.5 168.1L201.4 168.0L202.4 168.0L203.3 168.0L204.2 168.0L205.2 168.0L206.1 168.0L207.0 168.0L207.9 168.0L208.9 167.9L209.8 167.9L210.7 167.9L211.7 167.9L212.6 167.8L213.5 167.8L214.4 167.7L215.4 167.7L216.3 167.6L217.2 167.5L218.2 167.4L219.1 167.3L220.0 167.2L220.9 167.1L221.9 167.0L222.8 166.8L223.7 166.5L224.7 166.1L225.6 165.6L226.5 165.1L227.4 164.5L228.4 163.9L229.3 163.2L230.2 162.5L231.2 161.8L232.1 161.1L233.0 160.3L233.9 159.6L234.9 158.7L235.8 157.7L236.7 156.6L237.7 155.5L238.6 154.4L239.5 153.2L240.4 151.9L241.4 150.6L242.3 149.3L243.2 148.0L244.2 146.6L245.1 145.2L246.0 143.8L246.9 142.4L247.9 140.9L248.8 139.4L249.7 137.9L250.7 136.4L251.6 135.0L252.5 133.5L253.4 132.1L254.4 130.7L255.3 129.3L256.2 127.8L257.2 126.3L258.1 124.7L259.0 123.1L259.9 121.5L260.9 119.8L261.8 118.0L262.7 116.2L263.7 114.3L264.6 112.3L265.5 110.1L266.4 107.7L267.4 105.2L268.3 102.6L269.2 99.9L270.1 97.4L271.1 94.9L272.0 92.6L272.9 90.2L273.9 87.9L274.8 85.6L275.7 83.4L276.6 81.4L277.6 79.7L278.5 78.2L279.4 76.6L280.4 75.1L281.3 73.7L282.2 72.5L283.1 71.6L284.1 71.0L285.0 71.0L285.9 71.0L286.9 71.1L287.8 71.3L288.7 71.5L289.6 71.8L290.6 72.1L291.5 72.4L292.4 73.5L293.4 75.2L294.3 77.4L295.2 79.9L296.1 82.5L297.1 85.0L298.0 87.2L298.9 89.3L299.9 91.5L300.8 93.5L301.7 95.5L302.6 97.3L303.6 98.8L304.5 100.3L303.2 121.1L301.9 142.0L300.6 162.9L299.3 171.6L298.0 173.3L296.7 174.8L295.3 176.0L294.0 177.2L292.7 178.2L291.4 179.1L290.1 179.9L288.8 180.8L287.5 181.6L286.2 182.5L284.9 183.3L283.6 184.0L282.3 184.8L281.0 185.5L279.7 186.2L278.3 186.9L277.0 187.5L275.7 188.2L274.4 188.8L273.1 189.4L271.8 190.0L270.5 190.6L269.2 191.2L267.9 191.7L266.6 192.2L265.3 192.8L264.0 193.3L262.7 193.8L261.3 194.2L260.0 194.7L258.7 195.2L257.4 195.8L256.1 196.3L254.8 196.8L253.5 197.4L252.2 198.0L250.9 198.7L249.6 199.3L248.3 199.9L247.0 200.5L245.7 201.0L244.3 201.5L243.0 201.9L241.7 202.3L240.4 202.7L239.1 203.0L237.8 203.3L236.5 203.6L235.2 203.9L233.9 204.2L232.6 204.5L231.3 204.8L230.0 205.1L228.7 205.4L227.3 205.8L226.0 206.1L224.7 206.5L223.4 206.8L222.1 207.3L220.8 207.7L219.5 208.2L218.2 208.7L216.9 209.2L215.6 209.7L214.3 210.2L213.0 210.7L211.7 211.2L210.3 211.7L209.0 212.2L207.7 212.6L206.4 213.1L205.1 213.6L203.8 214.1L202.5 214.5L201.2 215.0L199.9 215.5L198.6 216.0L197.3 216.5L196.0 217.0L194.7 217.5L193.3 218.1L192.0 218.6L190.7 219.2L189.4 219.8L188.1 220.3L186.8 220.9L185.5 221.5L184.2 222.1L182.9 222.7L181.6 223.3L180.3 223.9L179.0 224.5L177.7 225.1L176.3 225.6L175.0 226.1L173.7 226.6L172.4 227.1L171.1 227.6L169.8 228.1L168.5 228.6L167.2 229.0L165.9 229.5L164.6 230.0L163.3 230.4L162.0 230.9L160.7 231.4L159.3 231.9L158.0 232.5L156.7 233.0L155.4 233.6L154.1 234.2L152.8 234.8L151.5 235.3L150.2 235.9L148.9 236.4L147.6 237.0L146.3 237.4L145.0 237.9L143.7 238.3L142.3 238.6L141.0 239.0L139.7 239.3L138.4 239.7L137.1 240.0L135.8 240.3L134.5 240.7L133.2 241.0L131.9 241.4L130.6 241.8L129.3 242.1L128.0 242.5L126.7 242.9L125.3 243.2L124.0 243.6L122.7 244.0L121.4 244.4L120.1 244.8L118.8 245.3L117.5 245.7L116.2 246.2L114.9 246.8L113.6 247.3L112.3 248.0L111.0 248.6L109.7 249.3L108.3 249.9L107.0 250.6L105.7 251.4L104.4 252.1L103.1 252.8L101.8 253.5L100.5 254.2L99.2 254.9L97.9 255.5L96.6 256.2L95.3 256.8L94.0 257.4L92.7 258.0L91.3 258.6L90.0 259.2L88.7 259.7L87.4 260.3L86.1 260.8L84.8 261.4L83.5 261.9" fill="none" stroke="#00008c" stroke-width="1.12" stroke-linejoin="round"/>
<rect x="56.5" y="31" width="275.2" height="235.4" fill="none" stroke="#5a5a5a" stroke-width="1.3"/>
<path d="M83.5 266.4L83.5 268.9M83.5 31L83.5 33.5M138.75 266.4L138.75 268.9M138.75 31L138.75 33.5M194 266.4L194 268.9M194 31L194 33.5M249.25 266.4L249.25 268.9M249.25 31L249.25 33.5M304.5 266.4L304.5 268.9M304.5 31L304.5 33.5M111.12 266.4L111.12 267.9M111.12 31L111.12 32.5M166.38 266.4L166.38 267.9M166.38 31L166.38 32.5M221.62 266.4L221.62 267.9M221.62 31L221.62 32.5M276.88 266.4L276.88 267.9M276.88 31L276.88 32.5M332.12 266.4L332.12 267.9M332.12 31L332.12 32.5M54 266.34L56.5 266.34M329.2 266.34L331.7 266.34M54 207.5L56.5 207.5M329.2 207.5L331.7 207.5M54 148.66L56.5 148.66M329.2 148.66L331.7 148.66M54 89.82L56.5 89.82M329.2 89.82L331.7 89.82M54 30.98L56.5 30.98M329.2 30.98L331.7 30.98M55 236.92L56.5 236.92M330.2 236.92L331.7 236.92M55 178.08L56.5 178.08M330.2 178.08L331.7 178.08M55 119.24L56.5 119.24M330.2 119.24L331.7 119.24M55 60.4L56.5 60.4M330.2 60.4L331.7 60.4" stroke="#5a5a5a" stroke-width="1"/>
<text transform="translate(83.5 282.5) scale(0.92 1)" font-family='"Liberation Sans", sans-serif' font-size="12.8" font-weight="bold" text-anchor="middle" fill="#000">0.0</text>
<text transform="translate(138.75 282.5) scale(0.92 1)" font-family='"Liberation Sans", sans-serif' font-size="12.8" font-weight="bold" text-anchor="middle" fill="#000">0.5</text>
<text transform="translate(194 282.5) scale(0.92 1)" font-family='"Liberation Sans", sans-serif' font-size="12.8" font-weight="bold" text-anchor="middle" fill="#000">1.0</text>
<text transform="translate(249.25 282.5) scale(0.92 1)" font-family='"Liberation Sans", sans-serif' font-size="12.8" font-weight="bold" text-anchor="middle" fill="#000">1.5</text>
<text transform="translate(304.5 282.5) scale(0.92 1)" font-family='"Liberation Sans", sans-serif' font-size="12.8" font-weight="bold" text-anchor="middle" fill="#000">2.0</text>
<text transform="translate(50.5 270.34) scale(0.92 1)" font-family='"Liberation Sans", sans-serif' font-size="12.8" font-weight="bold" text-anchor="end" fill="#000">-0.4</text>
<text transform="translate(50.5 211.5) scale(0.92 1)" font-family='"Liberation Sans", sans-serif' font-size="12.8" font-weight="bold" text-anchor="end" fill="#000">0.0</text>
<text transform="translate(50.5 152.66) scale(0.92 1)" font-family='"Liberation Sans", sans-serif' font-size="12.8" font-weight="bold" text-anchor="end" fill="#000">0.4</text>
<text transform="translate(50.5 93.82) scale(0.92 1)" font-family='"Liberation Sans", sans-serif' font-size="12.8" font-weight="bold" text-anchor="end" fill="#000">0.8</text>
<text transform="translate(50.5 34.98) scale(0.92 1)" font-family='"Liberation Sans", sans-serif' font-size="12.8" font-weight="bold" text-anchor="end" fill="#000">1.2</text>
<text x="194.2" y="299" font-family='"Liberation Sans", sans-serif' font-size="12.6" font-weight="bold" text-anchor="middle" fill="#000" >Potential / (V)</text>
<text x="0" y="0" font-family='"Liberation Sans", sans-serif' font-size="12.6" font-weight="bold" text-anchor="middle" fill="#000" transform="translate(25.6 148.8) rotate(-90)">WE Current / (mA)</text>
<text x="63.5" y="55.3" font-family='"Liberation Sans", sans-serif' font-size="12.3" font-weight="bold" text-anchor="start" fill="#000" >Current: 100 μA</text>
<text x="63.5" y="71.1" font-family='"Liberation Sans", sans-serif' font-size="12.3" font-weight="bold" text-anchor="start" fill="#000" >TBAHFP: 0.1 M</text>
<text x="63.5" y="86.6" font-family='"Liberation Sans", sans-serif' font-size="12.3" font-weight="bold" text-anchor="start" fill="#000" >Berberine 5 mM and EDOT 10 mM</text>
<text x="221.4" y="64.9" font-family='"Liberation Sans", sans-serif' font-size="12.3" font-weight="bold" text-anchor="start" fill="#f00" >25<tspan dy="-4.5" font-size="8.5">th</tspan><tspan dy="4.5"> cycle: 0.93 mA</tspan></text>
<text x="130.4" y="144.1" font-family='"Liberation Sans", sans-serif' font-size="12.3" font-weight="bold" text-anchor="start" fill="#f00" >1<tspan dy="-4.5" font-size="8.5">st</tspan><tspan dy="4.5"> cycle: 0.48 mA</tspan></text>
<text x="8" y="14" font-family='"Liberation Serif", serif' font-size="19.2" font-weight="bold" text-anchor="start" fill="#000" >(A)</text>
<rect x="424.3" y="29.5" width="276.2" height="235.3" fill="none" stroke="#5a5a5a" stroke-width="1.3"/>
<path d="M452.3 264.8L452.3 267.3M507.4 264.8L507.4 267.3M562.5 264.8L562.5 267.3M617.6 264.8L617.6 267.3M672.7 264.8L672.7 267.3M424.75 264.8L424.75 266.3M479.85 264.8L479.85 266.3M534.95 264.8L534.95 266.3M590.05 264.8L590.05 266.3M645.15 264.8L645.15 266.3M700.25 264.8L700.25 266.3M421.8 264.85L424.3 264.85M421.8 235.44L424.3 235.44M421.8 206.02L424.3 206.02M421.8 176.61L424.3 176.61M421.8 147.2L424.3 147.2M421.8 117.79L424.3 117.79M421.8 88.37L424.3 88.37M421.8 58.96L424.3 58.96M421.8 29.55L424.3 29.55M422.8 250.14L424.3 250.14M422.8 220.73L424.3 220.73M422.8 191.32L424.3 191.32M422.8 161.91L424.3 161.91M422.8 132.49L424.3 132.49M422.8 103.08L424.3 103.08M422.8 73.67L424.3 73.67M422.8 44.26L424.3 44.26" stroke="#5a5a5a" stroke-width="1"/>
<text transform="translate(452.3 281) scale(0.95 1)" font-family='"Liberation Sans", sans-serif' font-size="12.8" font-weight="bold" text-anchor="middle" fill="#000">-2</text>
<text transform="translate(507.4 281) scale(0.95 1)" font-family='"Liberation Sans", sans-serif' font-size="12.8" font-weight="bold" text-anchor="middle" fill="#000">-1</text>
<text transform="translate(562.5 281) scale(0.95 1)" font-family='"Liberation Sans", sans-serif' font-size="12.8" font-weight="bold" text-anchor="middle" fill="#000">0</text>
<text transform="translate(617.6 281) scale(0.95 1)" font-family='"Liberation Sans", sans-serif' font-size="12.8" font-weight="bold" text-anchor="middle" fill="#000">1</text>
<text transform="translate(672.7 281) scale(0.95 1)" font-family='"Liberation Sans", sans-serif' font-size="12.8" font-weight="bold" text-anchor="middle" fill="#000">2</text>
<text transform="translate(418 268.85) scale(0.95 1)" font-family='"Liberation Sans", sans-serif' font-size="12.8" font-weight="bold" text-anchor="end" fill="#000">-100</text>
<text transform="translate(418 239.44) scale(0.95 1)" font-family='"Liberation Sans", sans-serif' font-size="12.8" font-weight="bold" text-anchor="end" fill="#000">-75</text>
<text transform="translate(418 210.02) scale(0.95 1)" font-family='"Liberation Sans", sans-serif' font-size="12.8" font-weight="bold" text-anchor="end" fill="#000">-50</text>
<text transform="translate(418 180.61) scale(0.95 1)" font-family='"Liberation Sans", sans-serif' font-size="12.8" font-weight="bold" text-anchor="end" fill="#000">-25</text>
<text transform="translate(418 151.2) scale(0.95 1)" font-family='"Liberation Sans", sans-serif' font-size="12.8" font-weight="bold" text-anchor="end" fill="#000">0</text>
<text transform="translate(418 121.79) scale(0.95 1)" font-family='"Liberation Sans", sans-serif' font-size="12.8" font-weight="bold" text-anchor="end" fill="#000">25</text>
<text transform="translate(418 92.37) scale(0.95 1)" font-family='"Liberation Sans", sans-serif' font-size="12.8" font-weight="bold" text-anchor="end" fill="#000">50</text>
<text transform="translate(418 62.96) scale(0.95 1)" font-family='"Liberation Sans", sans-serif' font-size="12.8" font-weight="bold" text-anchor="end" fill="#000">75</text>
<text transform="translate(418 33.55) scale(0.95 1)" font-family='"Liberation Sans", sans-serif' font-size="12.8" font-weight="bold" text-anchor="end" fill="#000">100</text>
<path d="M567.18 141.91 L567.23 141.8 L567.34 141.64 L567.47 141.45 L567.59 141.24 L567.66 141.06 L567.64 140.91 L567.5 140.83 L567.18 140.85 L566.72 140.97 L566.16 141.18 L565.49 141.45 L564.72 141.77 L563.85 142.1 L562.87 142.43 L561.8 142.72 L560.63 142.96 L559.31 143.16 L557.83 143.32 L556.23 143.46 L554.54 143.6 L552.8 143.72 L551.04 143.85 L549.3 143.99 L547.62 144.14 L545.94 144.32 L544.18 144.52 L542.39 144.73 L540.61 144.94 L538.88 145.14 L537.25 145.32 L535.74 145.46 L534.4 145.55 L533.26 145.62 L532.28 145.68 L531.44 145.73 L530.68 145.74 L529.98 145.7 L529.29 145.61 L528.57 145.45 L527.79 145.2 L526.93 144.83 L526.03 144.32 L525.11 143.72 L524.21 143.07 L523.33 142.42 L522.52 141.81 L521.79 141.27 L521.17 140.85 L520.69 140.51 L520.31 140.2 L520.03 139.92 L519.8 139.71 L519.6 139.56 L519.42 139.49 L519.22 139.53 L518.97 139.67 L518.7 139.88 L518.43 140.13 L518.16 140.45 L517.89 140.87 L517.61 141.42 L517.34 142.12 L517.06 143.02 L516.77 144.14 L516.48 145.6 L516.19 147.41 L515.89 149.46 L515.6 151.65 L515.29 153.86 L514.97 155.99 L514.64 157.92 L514.29 159.55 L513.91 160.92 L513.51 162.14 L513.1 163.23 L512.67 164.2 L512.24 165.07 L511.81 165.85 L511.39 166.56 L510.98 167.2 L510.69 167.75 L510.55 168.17 L510.47 168.49 L510.36 168.73 L510.14 168.92 L509.73 169.09 L509.03 169.25 L507.95 169.44 L506.42 169.62 L504.47 169.76 L502.21 169.87 L499.77 169.97 L497.25 170.06 L494.76 170.17 L492.41 170.31 L490.32 170.49 L488.42 170.69 L486.6 170.87 L484.84 171.06 L483.16 171.27 L481.54 171.52 L479.99 171.84 L478.51 172.23 L477.1 172.73 L475.77 173.31 L474.53 173.97 L473.37 174.69 L472.27 175.47 L471.23 176.33 L470.22 177.25 L469.25 178.25 L468.28 179.32 L467.34 180.47 L466.45 181.72 L465.59 183.04 L464.77 184.43 L463.97 185.87 L463.19 187.35 L462.43 188.86 L461.67 190.38 L460.91 191.9 L460.16 193.44 L459.42 195.01 L458.71 196.62 L458.01 198.28 L457.35 200 L456.73 201.79 L456.16 203.67 L455.62 205.66 L455.11 207.75 L454.63 209.93 L454.19 212.16 L453.79 214.43 L453.43 216.71 L453.12 218.98 L452.85 221.2 L452.63 223.55 L452.44 226.1 L452.3 228.74 L452.2 231.33 L452.14 233.77 L452.14 235.92 L452.19 237.65 L452.3 238.85 L452.48 239.38 L452.74 239.31 L453.07 238.81 L453.44 238.03 L453.84 237.13 L454.25 236.3 L454.66 235.68 L455.06 235.44 L455.43 235.48 L455.79 235.61 L456.16 235.84 L456.54 236.18 L456.94 236.65 L457.37 237.26 L457.84 238.03 L458.36 238.97 L458.96 240.27 L459.64 242 L460.36 243.98 L461.12 246.06 L461.87 248.06 L462.6 249.82 L463.27 251.16 L463.87 251.91 L464.39 252.22 L464.85 252.33 L465.27 252.17 L465.66 251.68 L466.03 250.82 L466.4 249.53 L466.78 247.75 L467.18 245.44 L467.58 242.26 L467.98 238.15 L468.37 233.39 L468.76 228.28 L469.16 223.11 L469.58 218.19 L470.02 213.81 L470.48 210.26 L470.97 207.49 L471.46 205.19 L471.96 203.28 L472.48 201.69 L473.03 200.33 L473.61 199.15 L474.23 198.05 L474.89 196.97 L475.57 195.92 L476.23 194.99 L476.92 194.2 L477.65 193.55 L478.44 193.05 L479.33 192.72 L480.35 192.57 L481.5 192.61 L482.87 192.9 L484.45 193.44 L486.17 194.18 L487.98 195.08 L489.8 196.09 L491.58 197.14 L493.24 198.2 L494.73 199.2 L496.06 200.17 L497.31 201.15 L498.48 202.16 L499.58 203.2 L500.63 204.3 L501.64 205.46 L502.6 206.7 L503.54 208.03 L504.45 209.63 L505.3 211.58 L506.11 213.71 L506.88 215.85 L507.61 217.84 L508.31 219.5 L508.97 220.68 L509.6 221.2 L510.2 221.1 L510.74 220.53 L511.24 219.55 L511.7 218.22 L512.15 216.57 L512.59 214.66 L513.02 212.54 L513.46 210.26 L513.89 207.61 L514.3 204.45 L514.69 200.94 L515.08 197.24 L515.47 193.5 L515.88 189.89 L516.3 186.56 L516.77 183.67 L517.25 181.15 L517.74 178.8 L518.24 176.63 L518.76 174.64 L519.31 172.82 L519.89 171.17 L520.51 169.69 L521.17 168.38 L521.85 167.24 L522.52 166.29 L523.2 165.51 L523.93 164.91 L524.73 164.45 L525.62 164.14 L526.63 163.96 L527.79 163.91 L529.14 164.02 L530.68 164.35 L532.36 164.83 L534.12 165.45 L535.92 166.15 L537.7 166.9 L539.42 167.66 L541.01 168.38 L542.51 169.08 L543.98 169.83 L545.41 170.6 L546.81 171.41 L548.17 172.25 L549.5 173.12 L550.78 174.03 L552.03 174.97 L553.22 176 L554.35 177.14 L555.42 178.36 L556.47 179.59 L557.5 180.79 L558.52 181.9 L559.56 182.88 L560.63 183.67 L561.73 184.28 L562.86 184.75 L564.01 185.11 L565.15 185.38 L566.27 185.57 L567.36 185.71 L568.41 185.81 L569.39 185.91 L570.27 185.97 L571.06 185.98 L571.78 185.94 L572.48 185.85 L573.19 185.72 L573.94 185.57 L574.78 185.39 L575.72 185.2 L576.79 184.95 L577.95 184.62 L579.18 184.25 L580.46 183.86 L581.77 183.48 L583.08 183.14 L584.38 182.88 L585.64 182.73 L586.9 182.7 L588.17 182.76 L589.46 182.89 L590.74 183.08 L592 183.28 L593.24 183.48 L594.43 183.66 L595.56 183.79 L596.64 183.88 L597.68 183.96 L598.69 184.03 L599.66 184.09 L600.6 184.14 L601.51 184.19 L602.4 184.23 L603.27 184.26 L604.14 184.32 L605 184.43 L605.84 184.56 L606.65 184.66 L607.42 184.72 L608.13 184.69 L608.77 184.55 L609.34 184.26 L609.78 183.82 L610.12 183.27 L610.37 182.62 L610.57 181.88 L610.76 181.06 L610.96 180.17 L611.21 179.24 L611.54 178.26 L611.92 177.21 L612.3 176.06 L612.69 174.84 L613.12 173.56 L613.59 172.25 L614.12 170.94 L614.72 169.64 L615.4 168.38 L616.15 167.14 L616.95 165.91 L617.81 164.67 L618.74 163.44 L619.72 162.2 L620.78 160.97 L621.91 159.73 L623.11 158.49 L624.4 157.23 L625.79 155.91 L627.26 154.57 L628.79 153.24 L630.37 151.96 L631.98 150.74 L633.61 149.61 L635.23 148.61 L636.89 147.76 L638.6 147.05 L640.35 146.44 L642.12 145.89 L643.89 145.38 L645.64 144.86 L647.35 144.3 L649.01 143.67 L650.65 143.01 L652.31 142.38 L653.96 141.76 L655.58 141.1 L657.14 140.41 L658.6 139.64 L659.94 138.77 L661.13 137.79 L662.15 136.74 L663.01 135.66 L663.75 134.53 L664.4 133.31 L664.98 131.96 L665.53 130.46 L666.07 128.77 L666.64 126.85 L667.21 124.63 L667.76 122.12 L668.28 119.38 L668.77 116.51 L669.24 113.56 L669.69 110.63 L670.1 107.77 L670.5 105.08 L670.88 102.34 L671.28 99.38 L671.66 96.35 L672.01 93.4 L672.31 90.69 L672.54 88.36 L672.67 86.56 L672.7 85.43 L672.6 85.13 L672.37 85.56 L672.05 86.55 L671.67 87.9 L671.24 89.44 L670.79 90.98 L670.35 92.33 L669.95 93.32 L669.55 94.05 L669.14 94.75 L668.72 95.41 L668.29 95.99 L667.86 96.49 L667.44 96.87 L667.03 97.11 L666.64 97.2 L666.27 97.14 L665.91 96.95 L665.57 96.64 L665.23 96.21 L664.89 95.66 L664.56 95 L664.22 94.21 L663.88 93.32 L663.53 92.25 L663.18 91 L662.82 89.61 L662.46 88.11 L662.11 86.55 L661.77 84.97 L661.44 83.4 L661.13 81.9 L660.84 80.47 L660.58 79.07 L660.33 77.68 L660.09 76.27 L659.85 74.83 L659.61 73.32 L659.36 71.72 L659.09 70.02 L658.81 68.11 L658.52 65.96 L658.22 63.67 L657.92 61.34 L657.61 59.08 L657.31 56.98 L657.01 55.15 L656.72 53.67 L656.44 52.53 L656.16 51.64 L655.88 50.96 L655.61 50.46 L655.34 50.12 L655.06 49.92 L654.79 49.81 L654.52 49.79 L654.25 49.81 L654 49.92 L653.75 50.12 L653.5 50.46 L653.24 50.96 L652.96 51.64 L652.65 52.53 L652.31 53.67 L651.96 55.04 L651.62 56.63 L651.26 58.41 L650.88 60.39 L650.46 62.55 L649.98 64.88 L649.43 67.37 L648.79 70.02 L648.03 73 L647.16 76.39 L646.2 80.05 L645.2 83.82 L644.17 87.57 L643.16 91.15 L642.19 94.41 L641.29 97.2 L640.47 99.56 L639.68 101.65 L638.92 103.49 L638.17 105.13 L637.44 106.58 L636.71 107.88 L635.98 109.05 L635.23 110.14 L634.5 111.09 L633.81 111.87 L633.13 112.49 L632.44 112.97 L631.73 113.34 L630.96 113.63 L630.11 113.85 L629.17 114.02 L628.09 114.11 L626.89 114.07 L625.59 113.93 L624.25 113.72 L622.9 113.47 L621.59 113.2 L620.36 112.94 L619.25 112.73 L618.27 112.57 L617.38 112.44 L616.56 112.33 L615.77 112.2 L615.02 112.03 L614.26 111.81 L613.47 111.5 L612.64 111.08 L611.75 110.51 L610.81 109.78 L609.85 108.95 L608.89 108.07 L607.95 107.2 L607.05 106.37 L606.22 105.65 L605.48 105.08 L604.86 104.63 L604.36 104.24 L603.93 103.91 L603.55 103.65 L603.16 103.48 L602.74 103.4 L602.24 103.42 L601.62 103.55 L600.9 103.8 L600.1 104.17 L599.25 104.64 L598.35 105.2 L597.41 105.84 L596.44 106.55 L595.46 107.32 L594.46 108.14 L593.44 109.02 L592.4 109.98 L591.32 111 L590.22 112.1 L589.1 113.24 L587.96 114.44 L586.81 115.69 L585.64 116.96 L584.45 118.29 L583.21 119.67 L581.96 121.11 L580.68 122.59 L579.41 124.11 L578.15 125.66 L576.92 127.24 L575.72 128.85 L574.51 130.58 L573.24 132.5 L571.95 134.52 L570.7 136.53 L569.52 138.45 L568.47 140.19 L567.58 141.64 L566.91 142.73" fill="none" stroke="#128f12" stroke-width="1.55" stroke-linejoin="round" stroke-linecap="round" />
<text x="562.9" y="296.7" font-family='"Liberation Sans", sans-serif' font-size="12.6" font-weight="bold" text-anchor="middle" fill="#000" >Potential / (V)</text>
<text x="0" y="0" font-family='"Liberation Sans", sans-serif' font-size="12.6" font-weight="bold" text-anchor="middle" fill="#000" transform="translate(393.4 147.4) rotate(-90)">WE Current / μA</text>
<text x="436.5" y="55.9" font-family='"Liberation Sans", sans-serif' font-size="12.3" font-weight="bold" text-anchor="start" fill="#000" >Current: 100 μA</text>
<text x="436.5" y="71.4" font-family='"Liberation Sans", sans-serif' font-size="12.3" font-weight="bold" text-anchor="start" fill="#000" >0.1 M TBAPF<tspan dy="3" font-size="8.5">6</tspan></text>
<text x="643.7" y="46.3" font-family='"Liberation Sans", sans-serif' font-size="12" font-weight="bold" text-anchor="start" fill="#000" >1.8 V</text>
<text x="597.1" y="100.7" font-family='"Liberation Sans", sans-serif' font-size="12" font-weight="bold" text-anchor="start" fill="#000" >0.8 V</text>
<text x="586.1" y="205.3" font-family='"Liberation Sans", sans-serif' font-size="12" font-weight="bold" text-anchor="start" fill="#000" >0.7 V</text>
<text x="357.4" y="15.3" font-family='"Liberation Serif", serif' font-size="19.2" font-weight="bold" text-anchor="start" fill="#000" >(B)</text>
<path d="M82.7 509.3L84.1 508.8L85.6 508.4L87.0 507.9L88.4 507.5L89.9 507.1L91.3 506.8L92.7 506.4L94.2 506.1L95.6 505.8L97.0 505.5L98.5 505.3L99.9 505.1L101.3 504.9L102.8 504.8L104.2 504.7L106.3 505.1L108.5 505.4L110.6 505.6L112.7 505.9L114.9 506.1L117.0 506.3L119.1 506.4L121.2 506.6L123.4 506.7L125.5 506.9L127.6 507.0L129.8 507.1L131.9 507.2L134.0 507.3L136.2 507.3L138.3 507.4L140.4 507.4L142.5 507.4L144.7 507.5L146.8 507.5L148.9 507.5L151.1 507.5L153.2 507.5L155.3 507.5L157.5 507.5L159.6 507.6L161.7 507.6L163.8 507.6L166.0 507.6L168.1 507.6L170.2 507.6L172.4 507.6L174.5 507.6L176.6 507.6L178.7 507.6L180.9 507.6L183.0 507.5L185.1 507.5L187.3 507.5L189.4 507.5L191.5 507.5L193.7 507.4L195.8 507.4L197.9 507.4L200.0 507.3L202.2 507.3L204.3 507.2L206.4 507.2L208.6 507.1L210.7 507.1L212.8 507.0L215.0 506.9L217.1 506.8L219.2 506.7L221.3 506.7L223.5 506.6L225.6 506.5L227.7 506.4L229.9 506.3L230.9 506.3L231.9 506.3L232.9 506.2L233.9 506.0L234.9 505.7L235.9 505.3L236.9 504.8L237.9 504.1L238.9 503.4L239.9 502.6L240.9 501.7L241.9 500.8L242.9 499.7L243.9 498.7L244.9 497.6L245.9 496.5L246.9 495.3L247.9 494.2L248.9 493.0L249.9 491.9L250.9 490.7L251.9 489.6L252.9 488.6L253.9 487.6L254.9 486.6L255.9 485.7L256.9 484.9L257.9 484.2L258.9 483.5L260.0 483.0L261.0 482.6L262.0 482.3L263.0 482.2L264.0 482.2L265.0 482.3L266.0 482.4L267.0 482.6L268.0 482.8L269.0 483.0L270.0 483.3L271.0 483.6L272.0 483.9L273.0 484.3L274.0 484.7L275.0 485.2L276.0 485.7L277.0 486.2L278.0 486.7L279.0 487.3L280.0 487.8L281.0 488.2L282.0 488.6L283.0 489.0L284.0 489.3L285.0 489.4L286.0 489.5L287.0 489.5L288.0 489.4L289.0 489.2L290.0 488.9L291.0 488.6L292.0 488.2L293.1 487.7L294.1 487.2L295.1 486.7L296.1 486.1L297.1 485.6L298.1 485.1L299.1 484.7L300.1 484.2L301.1 483.9L302.1 483.5L303.1 483.2L304.1 483.0L305.1 482.8L306.1 482.6L307.1 482.4L308.1 482.3L309.1 482.2L307.8 485.4L306.4 486.7L305.1 487.3L303.7 487.9L302.4 488.4L301.1 488.9L299.7 489.4L298.4 489.9L297.0 490.3L295.7 490.8L294.4 491.2L293.0 491.6L291.7 492.0L290.3 492.4L289.0 492.7L287.7 493.1L286.3 493.4L285.0 493.6L283.6 493.9L282.3 494.2L281.0 494.4L279.6 494.6L278.3 494.8L276.9 495.0L275.6 495.2L274.3 495.4L272.9 495.6L271.6 495.8L270.3 496.0L268.9 496.2L267.6 496.4L266.2 496.7L264.9 496.9L263.6 497.2L262.2 497.5L260.9 497.8L259.5 498.1L258.2 498.5L256.9 498.8L255.5 499.2L254.2 499.5L252.8 499.9L251.5 500.3L250.2 500.7L248.8 501.1L247.5 501.5L246.1 501.9L244.8 502.4L243.5 502.9L242.1 503.4L240.8 503.9L239.4 504.4L238.1 504.9L236.8 505.2L235.4 505.5L234.1 505.7L232.7 506.0L231.4 506.2L230.1 506.3L228.7 506.5L227.4 506.7L226.0 506.8L224.7 507.0L223.4 507.1L222.0 507.2L220.7 507.3L219.3 507.4L218.0 507.4L216.7 507.5L215.3 507.5L214.0 507.6L212.6 507.6L211.3 507.7L210.0 507.7L208.6 507.7L207.3 507.8L205.9 507.8L204.6 507.8L203.3 507.8L201.9 507.9L200.6 507.9L199.2 507.9L197.9 507.9L196.6 508.0L195.2 508.0L193.9 508.0L192.6 508.0L191.2 508.0L189.9 508.1L188.5 508.1L187.2 508.1L185.9 508.1L184.5 508.1L183.2 508.1L181.8 508.1L180.5 508.2L179.2 508.2L177.8 508.2L176.5 508.2L175.1 508.2L173.8 508.2L172.5 508.2L171.1 508.2L169.8 508.2L168.4 508.3L167.1 508.3L165.8 508.3L164.4 508.3L163.1 508.3L161.7 508.3L160.4 508.3L159.1 508.3L157.7 508.3L156.4 508.3L155.0 508.4L153.7 508.4L152.4 508.4L151.0 508.4L149.7 508.4L148.3 508.4L147.0 508.4L145.7 508.5L144.3 508.5L143.0 508.5L141.6 508.5L140.3 508.5L139.0 508.5L137.6 508.6L136.3 508.6L134.9 508.6L133.6 508.6L132.3 508.6L130.9 508.7L129.6 508.7L128.2 508.7L126.9 508.7L125.6 508.8L124.2 508.8L122.9 508.8L121.5 508.8L120.2 508.9L118.9 508.9L117.5 508.9L116.2 509.0L114.9 509.0L113.5 509.0L112.2 509.1L110.8 509.1L109.5 509.2L108.2 509.2L106.8 509.2L105.5 509.3L104.1 509.3L102.8 509.4L101.5 509.5L100.1 509.6L98.8 509.7L97.4 509.8L96.1 509.9L94.8 510.0L93.4 510.1L92.1 510.2L90.7 510.4L89.4 510.5L88.1 510.6L86.7 510.8L85.4 510.9L84.0 511.1L82.7 511.2M82.7 511.2L84.1 510.5L85.6 509.9L87.0 509.3L88.4 508.7L89.9 508.1L91.3 507.6L92.7 507.1L94.2 506.6L95.6 506.2L97.0 505.9L98.5 505.5L99.9 505.2L101.3 505.0L102.8 504.8L104.2 504.7L106.3 505.0L108.5 505.2L110.6 505.4L112.7 505.5L114.9 505.7L117.0 505.8L119.1 505.9L121.2 505.9L123.4 506.0L125.5 506.1L127.6 506.1L129.8 506.2L131.9 506.2L134.0 506.3L136.2 506.3L138.3 506.3L140.4 506.3L142.5 506.3L144.7 506.2L146.8 506.2L148.9 506.2L151.1 506.2L153.2 506.2L155.3 506.2L157.5 506.2L159.6 506.2L161.7 506.2L163.8 506.2L166.0 506.2L168.1 506.2L170.2 506.2L172.4 506.2L174.5 506.2L176.6 506.2L178.7 506.1L180.9 506.1L183.0 506.1L185.1 506.1L187.3 506.1L189.4 506.0L191.5 506.0L193.7 506.0L195.8 506.0L197.9 505.9L200.0 505.9L202.2 505.9L204.3 505.8L206.4 505.8L208.6 505.7L210.7 505.6L212.8 505.6L215.0 505.5L217.1 505.4L219.2 505.3L221.3 505.2L223.5 505.1L225.6 505.0L227.7 504.9L229.9 504.8L230.9 504.8L231.9 504.8L232.9 504.8L233.9 504.6L234.9 504.2L235.9 503.8L236.9 503.2L237.9 502.5L238.9 501.7L239.9 500.8L240.9 499.8L241.9 498.7L242.9 497.5L243.9 496.3L244.9 495.1L245.9 493.8L246.9 492.5L247.9 491.1L248.9 489.8L249.9 488.4L250.9 487.1L251.9 485.7L252.9 484.4L253.9 483.1L254.9 481.9L255.9 480.7L256.9 479.5L257.9 478.5L258.9 477.5L260.0 476.6L261.0 475.9L262.0 475.2L263.0 474.7L264.0 474.3L265.0 474.0L266.0 474.0L267.0 474.1L268.0 474.2L269.0 474.4L270.0 474.7L271.0 474.9L272.0 475.3L273.0 475.6L274.0 476.0L275.0 476.4L276.0 476.9L277.0 477.3L278.0 477.8L279.0 478.3L280.0 478.7L281.0 479.2L282.0 479.5L283.0 479.9L284.0 480.1L285.0 480.3L286.0 480.4L287.0 480.4L288.0 480.3L289.0 480.1L290.0 479.8L291.0 479.5L292.0 479.1L293.1 478.7L294.1 478.2L295.1 477.8L296.1 477.3L297.1 476.8L298.1 476.4L299.1 475.9L300.1 475.6L301.1 475.2L302.1 474.9L303.1 474.6L304.1 474.4L305.1 474.2L306.1 474.0L307.1 473.9L308.1 473.8L309.1 473.7L307.8 477.5L306.4 481.5L305.1 485.3L303.7 487.6L302.4 488.3L301.1 488.9L299.7 489.4L298.4 489.9L297.0 490.3L295.7 490.8L294.4 491.2L293.0 491.6L291.7 492.0L290.3 492.4L289.0 492.7L287.7 493.1L286.3 493.4L285.0 493.7L283.6 493.9L282.3 494.2L281.0 494.4L279.6 494.6L278.3 494.8L276.9 495.0L275.6 495.2L274.3 495.4L272.9 495.6L271.6 495.8L270.3 496.0L268.9 496.2L267.6 496.4L266.2 496.7L264.9 496.9L263.6 497.2L262.2 497.5L260.9 497.8L259.5 498.1L258.2 498.5L256.9 498.8L255.5 499.2L254.2 499.5L252.8 499.9L251.5 500.3L250.2 500.7L248.8 501.1L247.5 501.5L246.1 501.9L244.8 502.4L243.5 502.9L242.1 503.4L240.8 503.9L239.4 504.4L238.1 504.9L236.8 505.3L235.4 505.6L234.1 505.8L232.7 506.0L231.4 506.2L230.1 506.4L228.7 506.6L227.4 506.8L226.0 506.9L224.7 507.0L223.4 507.2L222.0 507.3L220.7 507.4L219.3 507.5L218.0 507.5L216.7 507.6L215.3 507.6L214.0 507.7L212.6 507.7L211.3 507.8L210.0 507.8L208.6 507.9L207.3 507.9L205.9 507.9L204.6 508.0L203.3 508.0L201.9 508.0L200.6 508.1L199.2 508.1L197.9 508.1L196.6 508.1L195.2 508.2L193.9 508.2L192.6 508.2L191.2 508.2L189.9 508.3L188.5 508.3L187.2 508.3L185.9 508.3L184.5 508.3L183.2 508.4L181.8 508.4L180.5 508.4L179.2 508.4L177.8 508.4L176.5 508.4L175.1 508.4L173.8 508.5L172.5 508.5L171.1 508.5L169.8 508.5L168.4 508.5L167.1 508.5L165.8 508.5L164.4 508.6L163.1 508.6L161.7 508.6L160.4 508.6L159.1 508.6L157.7 508.6L156.4 508.6L155.0 508.7L153.7 508.7L152.4 508.7L151.0 508.7L149.7 508.7L148.3 508.7L147.0 508.8L145.7 508.8L144.3 508.8L143.0 508.8L141.6 508.8L140.3 508.8L139.0 508.9L137.6 508.9L136.3 508.9L134.9 508.9L133.6 509.0L132.3 509.0L130.9 509.0L129.6 509.0L128.2 509.1L126.9 509.1L125.6 509.1L124.2 509.1L122.9 509.2L121.5 509.2L120.2 509.2L118.9 509.3L117.5 509.3L116.2 509.3L114.9 509.4L113.5 509.4L112.2 509.5L110.8 509.5L109.5 509.5L108.2 509.6L106.8 509.6L105.5 509.7L104.1 509.7L102.8 509.8L101.5 509.9L100.1 510.0L98.8 510.1L97.4 510.2L96.1 510.3L94.8 510.4L93.4 510.5L92.1 510.7L90.7 510.8L89.4 510.9L88.1 511.1L86.7 511.2L85.4 511.4L84.0 511.5L82.7 511.7M82.7 511.7L84.1 511.0L85.6 510.3L87.0 509.6L88.4 509.0L89.9 508.4L91.3 507.8L92.7 507.3L94.2 506.8L95.6 506.3L97.0 505.9L98.5 505.6L99.9 505.3L101.3 505.0L102.8 504.8L104.2 504.7L106.3 504.8L108.5 504.9L110.6 505.0L112.7 505.0L114.9 505.1L117.0 505.0L119.1 505.0L121.2 505.0L123.4 505.0L125.5 504.9L127.6 504.9L129.8 504.9L131.9 504.8L134.0 504.8L136.2 504.7L138.3 504.7L140.4 504.6L142.5 504.5L144.7 504.5L146.8 504.4L148.9 504.4L151.1 504.4L153.2 504.3L155.3 504.3L157.5 504.3L159.6 504.3L161.7 504.2L163.8 504.2L166.0 504.2L168.1 504.2L170.2 504.2L172.4 504.1L174.5 504.1L176.6 504.1L178.7 504.1L180.9 504.0L183.0 504.0L185.1 504.0L187.3 504.0L189.4 503.9L191.5 503.9L193.7 503.9L195.8 503.9L197.9 503.8L200.0 503.8L202.2 503.8L204.3 503.7L206.4 503.7L208.6 503.6L210.7 503.5L212.8 503.5L215.0 503.4L217.1 503.3L219.2 503.2L221.3 503.1L223.5 503.0L225.6 502.9L227.7 502.8L229.9 502.7L230.9 502.7L231.9 502.7L232.9 502.6L233.9 502.4L234.9 502.1L235.9 501.6L236.9 501.0L237.9 500.2L238.9 499.4L239.9 498.5L240.9 497.4L241.9 496.3L242.9 495.1L243.9 493.8L244.9 492.4L245.9 491.1L246.9 489.6L247.9 488.2L248.9 486.7L249.9 485.2L250.9 483.6L251.9 482.1L252.9 480.6L253.9 479.1L254.9 477.7L255.9 476.3L256.9 474.9L257.9 473.6L258.9 472.3L260.0 471.2L261.0 470.1L262.0 469.1L263.0 468.2L264.0 467.5L265.0 466.8L266.0 466.4L267.0 466.0L268.0 465.9L269.0 465.9L270.0 466.1L271.0 466.3L272.0 466.6L273.0 466.9L274.0 467.3L275.0 467.7L276.0 468.1L277.0 468.5L278.0 468.9L279.0 469.4L280.0 469.8L281.0 470.1L282.0 470.5L283.0 470.8L284.0 471.0L285.0 471.1L286.0 471.2L287.0 471.2L288.0 471.1L289.0 471.0L290.0 470.7L291.0 470.4L292.0 470.1L293.1 469.7L294.1 469.3L295.1 468.9L296.1 468.4L297.1 468.0L298.1 467.6L299.1 467.2L300.1 466.9L301.1 466.6L302.1 466.3L303.1 466.0L304.1 465.8L305.1 465.7L306.1 465.5L307.1 465.4L308.1 465.3L309.1 465.2L307.8 469.0L306.4 473.1L305.1 477.1L303.7 481.1L302.4 485.1L301.1 488.3L299.7 489.3L298.4 489.8L297.0 490.3L295.7 490.8L294.4 491.2L293.0 491.6L291.7 492.0L290.3 492.4L289.0 492.7L287.7 493.1L286.3 493.4L285.0 493.7L283.6 493.9L282.3 494.2L281.0 494.4L279.6 494.6L278.3 494.8L276.9 495.0L275.6 495.2L274.3 495.4L272.9 495.6L271.6 495.8L270.3 496.0L268.9 496.2L267.6 496.4L266.2 496.7L264.9 496.9L263.6 497.2L262.2 497.5L260.9 497.8L259.5 498.1L258.2 498.5L256.9 498.8L255.5 499.2L254.2 499.6L252.8 499.9L251.5 500.3L250.2 500.7L248.8 501.1L247.5 501.5L246.1 501.9L244.8 502.4L243.5 502.9L242.1 503.5L240.8 504.0L239.4 504.5L238.1 505.0L236.8 505.4L235.4 505.7L234.1 505.9L232.7 506.1L231.4 506.3L230.1 506.6L228.7 506.7L227.4 506.9L226.0 507.1L224.7 507.2L223.4 507.4L222.0 507.5L220.7 507.6L219.3 507.7L218.0 507.8L216.7 507.8L215.3 507.9L214.0 508.0L212.6 508.0L211.3 508.1L210.0 508.1L208.6 508.2L207.3 508.2L205.9 508.3L204.6 508.3L203.3 508.4L201.9 508.4L200.6 508.5L199.2 508.5L197.9 508.6L196.6 508.6L195.2 508.6L193.9 508.7L192.6 508.7L191.2 508.7L189.9 508.8L188.5 508.8L187.2 508.8L185.9 508.9L184.5 508.9L183.2 508.9L181.8 508.9L180.5 509.0L179.2 509.0L177.8 509.0L176.5 509.0L175.1 509.1L173.8 509.1L172.5 509.1L171.1 509.1L169.8 509.2L168.4 509.2L167.1 509.2L165.8 509.2L164.4 509.2L163.1 509.3L161.7 509.3L160.4 509.3L159.1 509.3L157.7 509.3L156.4 509.4L155.0 509.4L153.7 509.4L152.4 509.4L151.0 509.5L149.7 509.5L148.3 509.5L147.0 509.5L145.7 509.5L144.3 509.6L143.0 509.6L141.6 509.6L140.3 509.7L139.0 509.7L137.6 509.7L136.3 509.7L134.9 509.8L133.6 509.8L132.3 509.8L130.9 509.9L129.6 509.9L128.2 509.9L126.9 510.0L125.6 510.0L124.2 510.0L122.9 510.1L121.5 510.1L120.2 510.1L118.9 510.2L117.5 510.2L116.2 510.3L114.9 510.3L113.5 510.4L112.2 510.4L110.8 510.5L109.5 510.5L108.2 510.6L106.8 510.6L105.5 510.7L104.1 510.7L102.8 510.8L101.5 510.9L100.1 511.0L98.8 511.1L97.4 511.2L96.1 511.3L94.8 511.5L93.4 511.6L92.1 511.7L90.7 511.9L89.4 512.1L88.1 512.2L86.7 512.4L85.4 512.5L84.0 512.7L82.7 512.9M82.7 512.9L84.1 512.0L85.6 511.2L87.0 510.4L88.4 509.7L89.9 509.0L91.3 508.3L92.7 507.7L94.2 507.1L95.6 506.6L97.0 506.1L98.5 505.7L99.9 505.4L101.3 505.1L102.8 504.8L104.2 504.7L106.3 504.7L108.5 504.6L110.6 504.5L112.7 504.4L114.9 504.3L117.0 504.2L119.1 504.0L121.2 503.9L123.4 503.7L125.5 503.6L127.6 503.4L129.8 503.3L131.9 503.2L134.0 503.0L136.2 502.9L138.3 502.8L140.4 502.6L142.5 502.5L144.7 502.4L146.8 502.3L148.9 502.3L151.1 502.2L153.2 502.1L155.3 502.1L157.5 502.0L159.6 502.0L161.7 501.9L163.8 501.9L166.0 501.9L168.1 501.8L170.2 501.8L172.4 501.7L174.5 501.7L176.6 501.7L178.7 501.6L180.9 501.6L183.0 501.5L185.1 501.5L187.3 501.5L189.4 501.5L191.5 501.4L193.7 501.4L195.8 501.4L197.9 501.4L200.0 501.3L202.2 501.3L204.3 501.3L206.4 501.2L208.6 501.2L210.7 501.1L212.8 501.0L215.0 501.0L217.1 500.9L219.2 500.8L221.3 500.7L223.5 500.5L225.6 500.4L227.7 500.3L229.9 500.2L230.9 500.2L231.9 500.2L232.9 500.1L233.9 499.9L234.9 499.6L235.9 499.1L236.9 498.5L237.9 497.7L238.9 496.9L239.9 495.9L240.9 494.8L241.9 493.7L242.9 492.4L243.9 491.1L244.9 489.7L245.9 488.3L246.9 486.8L247.9 485.2L248.9 483.7L249.9 482.1L250.9 480.4L251.9 478.8L252.9 477.2L253.9 475.6L254.9 474.0L255.9 472.4L256.9 470.8L257.9 469.3L258.9 467.8L260.0 466.4L261.0 465.1L262.0 463.8L263.0 462.7L264.0 461.6L265.0 460.7L266.0 459.8L267.0 459.1L268.0 458.6L269.0 458.2L270.0 457.9L271.0 457.9L272.0 458.0L273.0 458.3L274.0 458.6L275.0 458.9L276.0 459.3L277.0 459.7L278.0 460.0L279.0 460.4L280.0 460.8L281.0 461.1L282.0 461.4L283.0 461.7L284.0 461.9L285.0 462.0L286.0 462.1L287.0 462.1L288.0 462.0L289.0 461.9L290.0 461.6L291.0 461.4L292.0 461.1L293.1 460.7L294.1 460.4L295.1 460.0L296.1 459.6L297.1 459.2L298.1 458.9L299.1 458.5L300.1 458.2L301.1 457.9L302.1 457.7L303.1 457.5L304.1 457.3L305.1 457.1L306.1 457.0L307.1 456.9L308.1 456.8L309.1 456.7L307.8 460.6L306.4 464.6L305.1 468.6L303.7 472.7L302.4 476.7L301.1 480.7L299.7 484.7L298.4 488.5L297.0 490.2L295.7 490.7L294.4 491.2L293.0 491.6L291.7 492.0L290.3 492.4L289.0 492.8L287.7 493.1L286.3 493.4L285.0 493.7L283.6 494.0L282.3 494.2L281.0 494.4L279.6 494.7L278.3 494.9L276.9 495.1L275.6 495.3L274.3 495.4L272.9 495.6L271.6 495.8L270.3 496.0L268.9 496.3L267.6 496.5L266.2 496.7L264.9 497.0L263.6 497.2L262.2 497.5L260.9 497.8L259.5 498.2L258.2 498.5L256.9 498.8L255.5 499.2L254.2 499.6L252.8 500.0L251.5 500.3L250.2 500.7L248.8 501.1L247.5 501.5L246.1 502.0L244.8 502.4L243.5 503.0L242.1 503.5L240.8 504.0L239.4 504.6L238.1 505.1L236.8 505.5L235.4 505.8L234.1 506.1L232.7 506.3L231.4 506.6L230.1 506.8L228.7 507.0L227.4 507.2L226.0 507.4L224.7 507.5L223.4 507.7L222.0 507.8L220.7 507.9L219.3 508.0L218.0 508.1L216.7 508.2L215.3 508.3L214.0 508.4L212.6 508.4L211.3 508.5L210.0 508.6L208.6 508.7L207.3 508.7L205.9 508.8L204.6 508.9L203.3 509.0L201.9 509.0L200.6 509.1L199.2 509.1L197.9 509.2L196.6 509.3L195.2 509.3L193.9 509.4L192.6 509.5L191.2 509.5L189.9 509.6L188.5 509.6L187.2 509.6L185.9 509.7L184.5 509.7L183.2 509.8L181.8 509.8L180.5 509.9L179.2 509.9L177.8 509.9L176.5 510.0L175.1 510.0L173.8 510.0L172.5 510.1L171.1 510.1L169.8 510.1L168.4 510.2L167.1 510.2L165.8 510.2L164.4 510.3L163.1 510.3L161.7 510.3L160.4 510.4L159.1 510.4L157.7 510.4L156.4 510.5L155.0 510.5L153.7 510.5L152.4 510.6L151.0 510.6L149.7 510.6L148.3 510.6L147.0 510.7L145.7 510.7L144.3 510.8L143.0 510.8L141.6 510.8L140.3 510.9L139.0 510.9L137.6 510.9L136.3 511.0L134.9 511.0L133.6 511.1L132.3 511.1L130.9 511.1L129.6 511.2L128.2 511.2L126.9 511.3L125.6 511.3L124.2 511.4L122.9 511.4L121.5 511.5L120.2 511.5L118.9 511.6L117.5 511.6L116.2 511.7L114.9 511.7L113.5 511.8L112.2 511.8L110.8 511.9L109.5 512.0L108.2 512.0L106.8 512.1L105.5 512.2L104.1 512.2L102.8 512.3L101.5 512.4L100.1 512.5L98.8 512.6L97.4 512.8L96.1 512.9L94.8 513.1L93.4 513.2L92.1 513.4L90.7 513.5L89.4 513.7L88.1 513.9L86.7 514.1L85.4 514.3L84.0 514.5L82.7 514.7M82.7 514.7L84.1 513.6L85.6 512.7L87.0 511.7L88.4 510.8L89.9 509.9L91.3 509.1L92.7 508.4L94.2 507.7L95.6 507.0L97.0 506.5L98.5 505.9L99.9 505.5L101.3 505.1L102.8 504.9L104.2 504.7L106.3 504.5L108.5 504.3L110.6 504.0L112.7 503.8L114.9 503.5L117.0 503.2L119.1 502.9L121.2 502.6L123.4 502.4L125.5 502.1L127.6 501.8L129.8 501.6L131.9 501.4L134.0 501.1L136.2 500.9L138.3 500.7L140.4 500.4L142.5 500.3L144.7 500.1L146.8 500.0L148.9 499.9L151.1 499.8L153.2 499.7L155.3 499.6L157.5 499.5L159.6 499.4L161.7 499.4L163.8 499.3L166.0 499.3L168.1 499.2L170.2 499.1L172.4 499.1L174.5 499.0L176.6 499.0L178.7 498.9L180.9 498.9L183.0 498.8L185.1 498.8L187.3 498.8L189.4 498.7L191.5 498.7L193.7 498.7L195.8 498.7L197.9 498.7L200.0 498.6L202.2 498.6L204.3 498.5L206.4 498.5L208.6 498.5L210.7 498.4L212.8 498.3L215.0 498.3L217.1 498.2L219.2 498.1L221.3 497.9L223.5 497.8L225.6 497.7L227.7 497.5L229.9 497.4L230.9 497.4L231.9 497.4L232.9 497.3L233.9 497.1L234.9 496.8L235.9 496.3L236.9 495.7L237.9 495.0L238.9 494.1L239.9 493.1L240.9 492.1L241.9 490.9L242.9 489.7L243.9 488.3L244.9 486.9L245.9 485.4L246.9 483.9L247.9 482.3L248.9 480.7L249.9 479.0L250.9 477.4L251.9 475.7L252.9 473.9L253.9 472.2L254.9 470.5L255.9 468.8L256.9 467.1L257.9 465.4L258.9 463.8L260.0 462.2L261.0 460.7L262.0 459.2L263.0 457.8L264.0 456.5L265.0 455.3L266.0 454.2L267.0 453.1L268.0 452.3L269.0 451.5L270.0 450.9L271.0 450.4L272.0 450.1L273.0 449.9L274.0 450.0L275.0 450.2L276.0 450.5L277.0 450.8L278.0 451.2L279.0 451.5L280.0 451.8L281.0 452.1L282.0 452.4L283.0 452.6L284.0 452.8L285.0 452.9L286.0 453.0L287.0 453.0L288.0 452.9L289.0 452.8L290.0 452.6L291.0 452.4L292.0 452.1L293.1 451.8L294.1 451.4L295.1 451.1L296.1 450.8L297.1 450.4L298.1 450.1L299.1 449.8L300.1 449.6L301.1 449.3L302.1 449.1L303.1 448.9L304.1 448.7L305.1 448.6L306.1 448.5L307.1 448.4L308.1 448.3L309.1 448.2L307.8 452.1L306.4 456.1L305.1 460.2L303.7 464.2L302.4 468.3L301.1 472.3L299.7 476.4L298.4 480.4L297.0 484.4L295.7 488.3L294.4 490.9L293.0 491.6L291.7 492.0L290.3 492.4L289.0 492.8L287.7 493.1L286.3 493.4L285.0 493.7L283.6 494.0L282.3 494.2L281.0 494.5L279.6 494.7L278.3 494.9L276.9 495.1L275.6 495.3L274.3 495.5L272.9 495.7L271.6 495.9L270.3 496.1L268.9 496.3L267.6 496.5L266.2 496.7L264.9 497.0L263.6 497.3L262.2 497.6L260.9 497.9L259.5 498.2L258.2 498.5L256.9 498.9L255.5 499.2L254.2 499.6L252.8 500.0L251.5 500.4L250.2 500.8L248.8 501.2L247.5 501.6L246.1 502.0L244.8 502.5L243.5 503.0L242.1 503.6L240.8 504.1L239.4 504.7L238.1 505.2L236.8 505.6L235.4 506.0L234.1 506.3L232.7 506.6L231.4 506.8L230.1 507.1L228.7 507.3L227.4 507.5L226.0 507.7L224.7 507.9L223.4 508.1L222.0 508.2L220.7 508.4L219.3 508.5L218.0 508.6L216.7 508.7L215.3 508.8L214.0 508.9L212.6 509.0L211.3 509.1L210.0 509.2L208.6 509.3L207.3 509.4L205.9 509.5L204.6 509.6L203.3 509.7L201.9 509.8L200.6 509.9L199.2 510.0L197.9 510.1L196.6 510.2L195.2 510.3L193.9 510.3L192.6 510.4L191.2 510.5L189.9 510.6L188.5 510.6L187.2 510.7L185.9 510.8L184.5 510.8L183.2 510.9L181.8 511.0L180.5 511.0L179.2 511.1L177.8 511.1L176.5 511.2L175.1 511.2L173.8 511.3L172.5 511.3L171.1 511.4L169.8 511.4L168.4 511.5L167.1 511.5L165.8 511.6L164.4 511.6L163.1 511.7L161.7 511.7L160.4 511.7L159.1 511.8L157.7 511.8L156.4 511.9L155.0 511.9L153.7 512.0L152.4 512.0L151.0 512.1L149.7 512.1L148.3 512.2L147.0 512.2L145.7 512.3L144.3 512.3L143.0 512.4L141.6 512.4L140.3 512.5L139.0 512.5L137.6 512.6L136.3 512.6L134.9 512.7L133.6 512.7L132.3 512.8L130.9 512.8L129.6 512.9L128.2 512.9L126.9 513.0L125.6 513.0L124.2 513.1L122.9 513.2L121.5 513.2L120.2 513.3L118.9 513.4L117.5 513.4L116.2 513.5L114.9 513.6L113.5 513.6L112.2 513.7L110.8 513.8L109.5 513.8L108.2 513.9L106.8 514.0L105.5 514.1L104.1 514.2L102.8 514.3L101.5 514.4L100.1 514.5L98.8 514.7L97.4 514.8L96.1 515.0L94.8 515.1L93.4 515.3L92.1 515.5L90.7 515.7L89.4 515.9L88.1 516.1L86.7 516.4L85.4 516.6L84.0 516.8L82.7 517.1M82.7 517.1L84.1 515.8L85.6 514.5L87.0 513.4L88.4 512.2L89.9 511.2L91.3 510.2L92.7 509.2L94.2 508.4L95.6 507.6L97.0 506.9L98.5 506.2L99.9 505.7L101.3 505.2L102.8 504.9L104.2 504.7L106.3 504.3L108.5 503.9L110.6 503.5L112.7 503.1L114.9 502.6L117.0 502.2L119.1 501.7L121.2 501.3L123.4 500.9L125.5 500.5L127.6 500.1L129.8 499.7L131.9 499.4L134.0 499.0L136.2 498.7L138.3 498.4L140.4 498.1L142.5 497.9L144.7 497.7L146.8 497.5L148.9 497.3L151.1 497.2L153.2 497.1L155.3 496.9L157.5 496.8L159.6 496.7L161.7 496.6L163.8 496.5L166.0 496.4L168.1 496.4L170.2 496.3L172.4 496.2L174.5 496.1L176.6 496.1L178.7 496.0L180.9 495.9L183.0 495.9L185.1 495.8L187.3 495.8L189.4 495.8L191.5 495.8L193.7 495.8L195.8 495.7L197.9 495.7L200.0 495.7L202.2 495.7L204.3 495.6L206.4 495.6L208.6 495.5L210.7 495.5L212.8 495.4L215.0 495.3L217.1 495.2L219.2 495.1L221.3 495.0L223.5 494.9L225.6 494.7L227.7 494.6L229.9 494.4L230.9 494.4L231.9 494.4L232.9 494.4L233.9 494.2L234.9 493.8L235.9 493.4L236.9 492.8L237.9 492.0L238.9 491.2L239.9 490.2L240.9 489.2L241.9 488.0L242.9 486.7L243.9 485.4L244.9 484.0L245.9 482.5L246.9 481.0L247.9 479.4L248.9 477.7L249.9 476.0L250.9 474.3L251.9 472.6L252.9 470.8L253.9 469.0L254.9 467.2L255.9 465.4L256.9 463.6L257.9 461.9L258.9 460.1L260.0 458.4L261.0 456.7L262.0 455.1L263.0 453.5L264.0 452.0L265.0 450.5L266.0 449.2L267.0 447.9L268.0 446.7L269.0 445.7L270.0 444.8L271.0 443.9L272.0 443.3L273.0 442.7L274.0 442.3L275.0 442.1L276.0 442.0L277.0 442.1L278.0 442.3L279.0 442.6L280.0 442.9L281.0 443.1L282.0 443.4L283.0 443.6L284.0 443.7L285.0 443.8L286.0 443.9L287.0 443.9L288.0 443.8L289.0 443.7L290.0 443.5L291.0 443.3L292.0 443.1L293.1 442.8L294.1 442.5L295.1 442.3L296.1 442.0L297.1 441.7L298.1 441.4L299.1 441.1L300.1 440.9L301.1 440.7L302.1 440.5L303.1 440.3L304.1 440.2L305.1 440.1L306.1 440.0L307.1 439.9L308.1 439.8L309.1 439.8L307.8 443.6L306.4 447.7L305.1 451.7L303.7 455.8L302.4 459.8L301.1 463.9L299.7 467.9L298.4 471.9L297.0 476.0L295.7 480.0L294.4 484.0L293.0 488.0L291.7 491.4L290.3 492.3L289.0 492.8L287.7 493.1L286.3 493.5L285.0 493.7L283.6 494.0L282.3 494.3L281.0 494.5L279.6 494.7L278.3 494.9L276.9 495.1L275.6 495.3L274.3 495.5L272.9 495.7L271.6 495.9L270.3 496.1L268.9 496.3L267.6 496.5L266.2 496.8L264.9 497.0L263.6 497.3L262.2 497.6L260.9 497.9L259.5 498.2L258.2 498.6L256.9 498.9L255.5 499.3L254.2 499.6L252.8 500.0L251.5 500.4L250.2 500.8L248.8 501.2L247.5 501.6L246.1 502.0L244.8 502.5L243.5 503.1L242.1 503.6L240.8 504.2L239.4 504.8L238.1 505.3L236.8 505.8L235.4 506.2L234.1 506.6L232.7 506.9L231.4 507.1L230.1 507.4L228.7 507.7L227.4 507.9L226.0 508.1L224.7 508.3L223.4 508.5L222.0 508.7L220.7 508.9L219.3 509.0L218.0 509.2L216.7 509.3L215.3 509.4L214.0 509.6L212.6 509.7L211.3 509.8L210.0 510.0L208.6 510.1L207.3 510.2L205.9 510.4L204.6 510.5L203.3 510.6L201.9 510.8L200.6 510.9L199.2 511.0L197.9 511.1L196.6 511.3L195.2 511.4L193.9 511.5L192.6 511.6L191.2 511.7L189.9 511.8L188.5 511.9L187.2 512.0L185.9 512.1L184.5 512.2L183.2 512.3L181.8 512.3L180.5 512.4L179.2 512.5L177.8 512.6L176.5 512.6L175.1 512.7L173.8 512.8L172.5 512.8L171.1 512.9L169.8 513.0L168.4 513.0L167.1 513.1L165.8 513.2L164.4 513.2L163.1 513.3L161.7 513.4L160.4 513.4L159.1 513.5L157.7 513.6L156.4 513.6L155.0 513.7L153.7 513.8L152.4 513.8L151.0 513.9L149.7 513.9L148.3 514.0L147.0 514.1L145.7 514.1L144.3 514.2L143.0 514.3L141.6 514.3L140.3 514.4L139.0 514.5L137.6 514.5L136.3 514.6L134.9 514.7L133.6 514.7L132.3 514.8L130.9 514.9L129.6 514.9L128.2 515.0L126.9 515.1L125.6 515.2L124.2 515.2L122.9 515.3L121.5 515.4L120.2 515.5L118.9 515.6L117.5 515.6L116.2 515.7L114.9 515.8L113.5 515.9L112.2 516.0L110.8 516.1L109.5 516.2L108.2 516.3L106.8 516.4L105.5 516.5L104.1 516.6L102.8 516.7L101.5 516.8L100.1 517.0L98.8 517.1L97.4 517.3L96.1 517.5L94.8 517.7L93.4 517.9L92.1 518.1L90.7 518.4L89.4 518.6L88.1 518.9L86.7 519.1L85.4 519.4L84.0 519.7L82.7 520.0M82.7 520.0L84.1 518.4L85.6 516.8L87.0 515.4L88.4 514.0L89.9 512.7L91.3 511.5L92.7 510.3L94.2 509.2L95.6 508.3L97.0 507.4L98.5 506.6L99.9 505.9L101.3 505.3L102.8 504.9L104.2 504.7L106.3 504.1L108.5 503.5L110.6 502.9L112.7 502.3L114.9 501.7L117.0 501.1L119.1 500.5L121.2 499.9L123.4 499.3L125.5 498.8L127.6 498.2L129.8 497.7L131.9 497.3L134.0 496.8L136.2 496.4L138.3 496.0L140.4 495.6L142.5 495.3L144.7 495.1L146.8 494.8L148.9 494.6L151.1 494.4L153.2 494.3L155.3 494.1L157.5 493.9L159.6 493.8L161.7 493.7L163.8 493.6L166.0 493.5L168.1 493.4L170.2 493.3L172.4 493.2L174.5 493.1L176.6 493.0L178.7 492.9L180.9 492.8L183.0 492.8L185.1 492.7L187.3 492.7L189.4 492.7L191.5 492.7L193.7 492.6L195.8 492.6L197.9 492.6L200.0 492.6L202.2 492.5L204.3 492.5L206.4 492.5L208.6 492.4L210.7 492.4L212.8 492.3L215.0 492.2L217.1 492.1L219.2 492.0L221.3 491.9L223.5 491.7L225.6 491.6L227.7 491.4L229.9 491.2L230.9 491.2L231.9 491.2L232.9 491.2L233.9 491.0L234.9 490.7L235.9 490.2L236.9 489.6L237.9 488.9L238.9 488.1L239.9 487.1L240.9 486.1L241.9 484.9L242.9 483.7L243.9 482.4L244.9 481.0L245.9 479.5L246.9 478.0L247.9 476.4L248.9 474.7L249.9 473.0L250.9 471.3L251.9 469.5L252.9 467.7L253.9 465.9L254.9 464.0L255.9 462.2L256.9 460.3L257.9 458.5L258.9 456.6L260.0 454.8L261.0 453.0L262.0 451.3L263.0 449.5L264.0 447.9L265.0 446.3L266.0 444.7L267.0 443.2L268.0 441.9L269.0 440.6L270.0 439.4L271.0 438.3L272.0 437.3L273.0 436.4L274.0 435.7L275.0 435.1L276.0 434.6L277.0 434.2L278.0 434.0L279.0 433.9L280.0 434.0L281.0 434.2L282.0 434.4L283.0 434.5L284.0 434.7L285.0 434.8L286.0 434.8L287.0 434.8L288.0 434.7L289.0 434.6L290.0 434.5L291.0 434.3L292.0 434.1L293.1 433.9L294.1 433.7L295.1 433.4L296.1 433.2L297.1 432.9L298.1 432.7L299.1 432.4L300.1 432.2L301.1 432.1L302.1 431.9L303.1 431.7L304.1 431.6L305.1 431.5L306.1 431.4L307.1 431.4L308.1 431.3L309.1 431.3L307.8 435.2L306.4 439.2L305.1 443.3L303.7 447.3L302.4 451.3L301.1 455.4L299.7 459.4L298.4 463.5L297.0 467.5L295.7 471.6L294.4 475.6L293.0 479.6L291.7 483.7L290.3 487.7L289.0 491.4L287.7 493.0L286.3 493.4L285.0 493.8L283.6 494.0L282.3 494.3L281.0 494.5L279.6 494.8L278.3 495.0L276.9 495.2L275.6 495.4L274.3 495.6L272.9 495.8L271.6 496.0L270.3 496.2L268.9 496.4L267.6 496.6L266.2 496.8L264.9 497.1L263.6 497.4L262.2 497.6L260.9 497.9L259.5 498.3L258.2 498.6L256.9 498.9L255.5 499.3L254.2 499.7L252.8 500.0L251.5 500.4L250.2 500.8L248.8 501.2L247.5 501.7L246.1 502.1L244.8 502.6L243.5 503.2L242.1 503.7L240.8 504.3L239.4 504.9L238.1 505.5L236.8 506.1L235.4 506.5L234.1 506.9L232.7 507.2L231.4 507.5L230.1 507.8L228.7 508.1L227.4 508.4L226.0 508.6L224.7 508.9L223.4 509.1L222.0 509.3L220.7 509.5L219.3 509.7L218.0 509.8L216.7 510.0L215.3 510.2L214.0 510.3L212.6 510.5L211.3 510.7L210.0 510.8L208.6 511.0L207.3 511.2L205.9 511.4L204.6 511.5L203.3 511.7L201.9 511.9L200.6 512.0L199.2 512.2L197.9 512.4L196.6 512.5L195.2 512.7L193.9 512.9L192.6 513.0L191.2 513.2L189.9 513.3L188.5 513.4L187.2 513.5L185.9 513.7L184.5 513.8L183.2 513.9L181.8 514.0L180.5 514.1L179.2 514.2L177.8 514.3L176.5 514.4L175.1 514.5L173.8 514.6L172.5 514.6L171.1 514.7L169.8 514.8L168.4 514.9L167.1 515.0L165.8 515.1L164.4 515.2L163.1 515.3L161.7 515.3L160.4 515.4L159.1 515.5L157.7 515.6L156.4 515.7L155.0 515.8L153.7 515.8L152.4 515.9L151.0 516.0L149.7 516.1L148.3 516.2L147.0 516.3L145.7 516.3L144.3 516.4L143.0 516.5L141.6 516.6L140.3 516.7L139.0 516.8L137.6 516.9L136.3 516.9L134.9 517.0L133.6 517.1L132.3 517.2L130.9 517.3L129.6 517.4L128.2 517.5L126.9 517.6L125.6 517.7L124.2 517.7L122.9 517.8L121.5 517.9L120.2 518.0L118.9 518.2L117.5 518.3L116.2 518.4L114.9 518.5L113.5 518.6L112.2 518.7L110.8 518.8L109.5 518.9L108.2 519.0L106.8 519.1L105.5 519.3L104.1 519.4L102.8 519.5L101.5 519.7L100.1 519.9L98.8 520.0L97.4 520.2L96.1 520.5L94.8 520.7L93.4 520.9L92.1 521.2L90.7 521.5L89.4 521.8L88.1 522.1L86.7 522.4L85.4 522.7L84.0 523.0L82.7 523.4M82.7 523.4L84.1 521.4L85.6 519.5L87.0 517.8L88.4 516.1L89.9 514.5L91.3 513.0L92.7 511.5L94.2 510.2L95.6 509.0L97.0 507.9L98.5 507.0L99.9 506.2L101.3 505.5L102.8 505.0L104.2 504.7L106.3 503.9L108.5 503.1L110.6 502.3L112.7 501.5L114.9 500.7L117.0 499.9L119.1 499.2L121.2 498.4L123.4 497.7L125.5 497.0L127.6 496.3L129.8 495.7L131.9 495.1L134.0 494.5L136.2 494.0L138.3 493.5L140.4 493.0L142.5 492.6L144.7 492.3L146.8 492.0L148.9 491.8L151.1 491.5L153.2 491.3L155.3 491.1L157.5 490.9L159.6 490.8L161.7 490.6L163.8 490.5L166.0 490.3L168.1 490.2L170.2 490.1L172.4 490.0L174.5 489.9L176.6 489.8L178.7 489.7L180.9 489.6L183.0 489.5L185.1 489.4L187.3 489.4L189.4 489.4L191.5 489.4L193.7 489.4L195.8 489.3L197.9 489.3L200.0 489.3L202.2 489.3L204.3 489.2L206.4 489.2L208.6 489.2L210.7 489.1L212.8 489.1L215.0 489.0L217.1 488.9L219.2 488.8L221.3 488.6L223.5 488.4L225.6 488.3L227.7 488.1L229.9 487.9L230.9 487.9L231.9 487.9L232.9 487.9L233.9 487.7L234.9 487.4L235.9 486.9L236.9 486.3L237.9 485.6L238.9 484.8L239.9 483.9L240.9 482.9L241.9 481.7L242.9 480.5L243.9 479.2L244.9 477.8L245.9 476.4L246.9 474.9L247.9 473.3L248.9 471.6L249.9 469.9L250.9 468.2L251.9 466.4L252.9 464.6L253.9 462.7L254.9 460.8L255.9 459.0L256.9 457.1L257.9 455.2L258.9 453.3L260.0 451.4L261.0 449.5L262.0 447.7L263.0 445.8L264.0 444.0L265.0 442.3L266.0 440.6L267.0 439.0L268.0 437.4L269.0 435.9L270.0 434.5L271.0 433.2L272.0 432.0L273.0 430.8L274.0 429.8L275.0 428.9L276.0 428.1L277.0 427.4L278.0 426.8L279.0 426.3L280.0 425.9L281.0 425.7L282.0 425.6L283.0 425.5L284.0 425.6L285.0 425.7L286.0 425.7L287.0 425.7L288.0 425.7L289.0 425.6L290.0 425.5L291.0 425.4L292.0 425.2L293.1 425.0L294.1 424.8L295.1 424.6L296.1 424.4L297.1 424.2L298.1 424.0L299.1 423.8L300.1 423.6L301.1 423.4L302.1 423.3L303.1 423.2L304.1 423.1L305.1 423.0L306.1 422.9L307.1 422.9L308.1 422.8L309.1 422.8L307.8 426.7L306.4 430.7L305.1 434.8L303.7 438.8L302.4 442.9L301.1 446.9L299.7 451.0L298.4 455.0L297.0 459.1L295.7 463.1L294.4 467.2L293.0 471.2L291.7 475.2L290.3 479.3L289.0 483.3L287.7 487.3L286.3 491.2L285.0 493.6L283.6 494.0L282.3 494.3L281.0 494.6L279.6 494.8L278.3 495.0L276.9 495.2L275.6 495.4L274.3 495.6L272.9 495.8L271.6 496.0L270.3 496.2L268.9 496.4L267.6 496.6L266.2 496.9L264.9 497.1L263.6 497.4L262.2 497.7L260.9 498.0L259.5 498.3L258.2 498.6L256.9 499.0L255.5 499.3L254.2 499.7L252.8 500.1L251.5 500.5L250.2 500.9L248.8 501.3L247.5 501.7L246.1 502.2L244.8 502.7L243.5 503.2L242.1 503.8L240.8 504.5L239.4 505.1L238.1 505.8L236.8 506.3L235.4 506.8L234.1 507.2L232.7 507.6L231.4 508.0L230.1 508.3L228.7 508.6L227.4 508.9L226.0 509.2L224.7 509.5L223.4 509.7L222.0 510.0L220.7 510.2L219.3 510.4L218.0 510.6L216.7 510.8L215.3 511.0L214.0 511.2L212.6 511.4L211.3 511.6L210.0 511.8L208.6 512.1L207.3 512.3L205.9 512.5L204.6 512.7L203.3 512.9L201.9 513.2L200.6 513.4L199.2 513.6L197.9 513.8L196.6 514.0L195.2 514.2L193.9 514.4L192.6 514.6L191.2 514.8L189.9 515.0L188.5 515.1L187.2 515.3L185.9 515.4L184.5 515.6L183.2 515.7L181.8 515.8L180.5 516.0L179.2 516.1L177.8 516.2L176.5 516.4L175.1 516.5L173.8 516.6L172.5 516.7L171.1 516.8L169.8 516.9L168.4 517.0L167.1 517.2L165.8 517.3L164.4 517.4L163.1 517.5L161.7 517.6L160.4 517.7L159.1 517.8L157.7 517.9L156.4 518.0L155.0 518.1L153.7 518.2L152.4 518.3L151.0 518.4L149.7 518.5L148.3 518.6L147.0 518.7L145.7 518.9L144.3 519.0L143.0 519.1L141.6 519.2L140.3 519.3L139.0 519.4L137.6 519.5L136.3 519.6L134.9 519.7L133.6 519.8L132.3 519.9L130.9 520.0L129.6 520.2L128.2 520.3L126.9 520.4L125.6 520.5L124.2 520.6L122.9 520.7L121.5 520.9L120.2 521.0L118.9 521.1L117.5 521.2L116.2 521.4L114.9 521.5L113.5 521.6L112.2 521.7L110.8 521.9L109.5 522.0L108.2 522.1L106.8 522.3L105.5 522.4L104.1 522.6L102.8 522.8L101.5 523.0L100.1 523.2L98.8 523.4L97.4 523.6L96.1 523.8L94.8 524.1L93.4 524.4L92.1 524.7L90.7 525.0L89.4 525.4L88.1 525.7L86.7 526.1L85.4 526.5L84.0 526.9L82.7 527.2M82.7 527.2L84.1 524.9L85.6 522.6L87.0 520.5L88.4 518.4L89.9 516.5L91.3 514.7L92.7 513.0L94.2 511.4L95.6 509.9L97.0 508.6L98.5 507.5L99.9 506.5L101.3 505.6L102.8 505.0L104.2 504.7L106.3 503.7L108.5 502.7L110.6 501.7L112.7 500.7L114.9 499.7L117.0 498.7L119.1 497.8L121.2 496.9L123.4 496.0L125.5 495.1L127.6 494.3L129.8 493.5L131.9 492.8L134.0 492.1L136.2 491.4L138.3 490.8L140.4 490.3L142.5 489.8L144.7 489.5L146.8 489.1L148.9 488.8L151.1 488.5L153.2 488.2L155.3 488.0L157.5 487.8L159.6 487.6L161.7 487.4L163.8 487.2L166.0 487.1L168.1 486.9L170.2 486.8L172.4 486.6L174.5 486.5L176.6 486.4L178.7 486.3L180.9 486.2L183.0 486.1L185.1 486.0L187.3 486.0L189.4 486.0L191.5 485.9L193.7 485.9L195.8 485.9L197.9 485.9L200.0 485.9L202.2 485.9L204.3 485.8L206.4 485.8L208.6 485.8L210.7 485.7L212.8 485.7L215.0 485.6L217.1 485.5L219.2 485.3L221.3 485.2L223.5 485.0L225.6 484.8L227.7 484.6L229.9 484.4L230.9 484.4L231.9 484.4L232.9 484.4L233.9 484.2L234.9 483.9L235.9 483.5L236.9 482.9L237.9 482.2L238.9 481.4L239.9 480.5L240.9 479.5L241.9 478.4L242.9 477.2L243.9 475.9L244.9 474.6L245.9 473.1L246.9 471.6L247.9 470.1L248.9 468.4L249.9 466.7L250.9 465.0L251.9 463.2L252.9 461.4L253.9 459.6L254.9 457.7L255.9 455.8L256.9 453.9L257.9 451.9L258.9 450.0L260.0 448.1L261.0 446.1L262.0 444.2L263.0 442.3L264.0 440.4L265.0 438.6L266.0 436.8L267.0 435.0L268.0 433.3L269.0 431.7L270.0 430.1L271.0 428.6L272.0 427.1L273.0 425.8L274.0 424.5L275.0 423.3L276.0 422.2L277.0 421.3L278.0 420.4L279.0 419.6L280.0 418.9L281.0 418.3L282.0 417.7L283.0 417.3L284.0 417.0L285.0 416.8L286.0 416.7L287.0 416.7L288.0 416.7L289.0 416.6L290.0 416.5L291.0 416.4L292.0 416.3L293.1 416.1L294.1 415.9L295.1 415.8L296.1 415.6L297.1 415.4L298.1 415.3L299.1 415.1L300.1 415.0L301.1 414.8L302.1 414.7L303.1 414.6L304.1 414.5L305.1 414.5L306.1 414.4L307.1 414.4L308.1 414.3L309.1 414.3L307.8 418.2L306.4 422.3L305.1 426.3L303.7 430.4L302.4 434.4L301.1 438.5L299.7 442.5L298.4 446.6L297.0 450.6L295.7 454.6L294.4 458.7L293.0 462.7L291.7 466.8L290.3 470.8L289.0 474.9L287.7 478.9L286.3 482.9L285.0 487.0L283.6 490.9L282.3 494.0L281.0 494.6L279.6 494.8L278.3 495.1L276.9 495.3L275.6 495.5L274.3 495.7L272.9 495.9L271.6 496.1L270.3 496.3L268.9 496.5L267.6 496.7L266.2 496.9L264.9 497.2L263.6 497.5L262.2 497.8L260.9 498.1L259.5 498.4L258.2 498.7L256.9 499.0L255.5 499.4L254.2 499.7L252.8 500.1L251.5 500.5L250.2 500.9L248.8 501.3L247.5 501.8L246.1 502.2L244.8 502.7L243.5 503.3L242.1 504.0L240.8 504.6L239.4 505.3L238.1 506.0L236.8 506.6L235.4 507.2L234.1 507.6L232.7 508.1L231.4 508.5L230.1 508.8L228.7 509.2L227.4 509.5L226.0 509.9L224.7 510.2L223.4 510.5L222.0 510.7L220.7 511.0L219.3 511.3L218.0 511.5L216.7 511.7L215.3 512.0L214.0 512.2L212.6 512.5L211.3 512.7L210.0 513.0L208.6 513.2L207.3 513.5L205.9 513.8L204.6 514.0L203.3 514.3L201.9 514.6L200.6 514.9L199.2 515.1L197.9 515.4L196.6 515.7L195.2 515.9L193.9 516.2L192.6 516.4L191.2 516.6L189.9 516.8L188.5 517.0L187.2 517.2L185.9 517.4L184.5 517.6L183.2 517.8L181.8 517.9L180.5 518.1L179.2 518.3L177.8 518.4L176.5 518.6L175.1 518.7L173.8 518.9L172.5 519.0L171.1 519.1L169.8 519.3L168.4 519.4L167.1 519.6L165.8 519.7L164.4 519.8L163.1 520.0L161.7 520.1L160.4 520.3L159.1 520.4L157.7 520.5L156.4 520.6L155.0 520.8L153.7 520.9L152.4 521.0L151.0 521.2L149.7 521.3L148.3 521.4L147.0 521.5L145.7 521.7L144.3 521.8L143.0 521.9L141.6 522.1L140.3 522.2L139.0 522.3L137.6 522.5L136.3 522.6L134.9 522.7L133.6 522.9L132.3 523.0L130.9 523.1L129.6 523.3L128.2 523.4L126.9 523.5L125.6 523.7L124.2 523.8L122.9 524.0L121.5 524.1L120.2 524.3L118.9 524.4L117.5 524.6L116.2 524.7L114.9 524.9L113.5 525.0L112.2 525.2L110.8 525.3L109.5 525.5L108.2 525.7L106.8 525.8L105.5 526.0L104.1 526.2L102.8 526.4L101.5 526.6L100.1 526.8L98.8 527.1L97.4 527.4L96.1 527.6L94.8 527.9L93.4 528.3L92.1 528.6L90.7 529.0L89.4 529.4L88.1 529.8L86.7 530.3L85.4 530.7L84.0 531.1L82.7 531.6M82.7 531.6L84.1 528.8L85.6 526.1L87.0 523.5L88.4 521.1L89.9 518.8L91.3 516.6L92.7 514.6L94.2 512.7L95.6 510.9L97.0 509.4L98.5 508.0L99.9 506.8L101.3 505.8L102.8 505.1L104.2 504.7L106.3 503.5L108.5 502.2L110.6 501.0L112.7 499.8L114.9 498.6L117.0 497.5L119.1 496.4L121.2 495.3L123.4 494.2L125.5 493.2L127.6 492.2L129.8 491.3L131.9 490.4L134.0 489.6L136.2 488.8L138.3 488.1L140.4 487.4L142.5 486.9L144.7 486.5L146.8 486.1L148.9 485.7L151.1 485.4L153.2 485.1L155.3 484.8L157.5 484.5L159.6 484.3L161.7 484.0L163.8 483.9L166.0 483.7L168.1 483.5L170.2 483.3L172.4 483.2L174.5 483.0L176.6 482.9L178.7 482.7L180.9 482.6L183.0 482.5L185.1 482.5L187.3 482.4L189.4 482.4L191.5 482.4L193.7 482.4L195.8 482.4L197.9 482.4L200.0 482.3L202.2 482.3L204.3 482.3L206.4 482.3L208.6 482.2L210.7 482.2L212.8 482.2L215.0 482.1L217.1 482.0L219.2 481.8L221.3 481.6L223.5 481.4L225.6 481.2L227.7 481.0L229.9 480.8L230.9 480.8L231.9 480.8L232.9 480.8L233.9 480.6L234.9 480.3L235.9 479.9L236.9 479.3L237.9 478.7L238.9 477.9L239.9 477.0L240.9 476.0L241.9 475.0L242.9 473.8L243.9 472.6L244.9 471.2L245.9 469.8L246.9 468.3L247.9 466.8L248.9 465.2L249.9 463.5L250.9 461.8L251.9 460.0L252.9 458.2L253.9 456.4L254.9 454.5L255.9 452.6L256.9 450.6L257.9 448.7L258.9 446.7L260.0 444.8L261.0 442.8L262.0 440.8L263.0 438.9L264.0 437.0L265.0 435.0L266.0 433.1L267.0 431.3L268.0 429.5L269.0 427.7L270.0 426.0L271.0 424.3L272.0 422.7L273.0 421.2L274.0 419.7L275.0 418.3L276.0 417.0L277.0 415.8L278.0 414.6L279.0 413.5L280.0 412.5L281.0 411.6L282.0 410.8L283.0 410.1L284.0 409.4L285.0 408.9L286.0 408.4L287.0 408.1L288.0 407.8L289.0 407.6L290.0 407.6L291.0 407.5L292.0 407.4L293.1 407.2L294.1 407.1L295.1 407.0L296.1 406.8L297.1 406.7L298.1 406.6L299.1 406.4L300.1 406.3L301.1 406.2L302.1 406.1L303.1 406.1L304.1 406.0L305.1 405.9L306.1 405.9L307.1 405.9L308.1 405.8L309.1 405.8L307.8 409.8L306.4 413.8L305.1 417.9L303.7 421.9L302.4 426.0L301.1 430.0L299.7 434.0L298.4 438.1L297.0 442.1L295.7 446.2L294.4 450.2L293.0 454.3L291.7 458.3L290.3 462.4L289.0 466.4L287.7 470.5L286.3 474.5L285.0 478.5L283.6 482.6L282.3 486.6L281.0 490.6L279.6 494.1L278.3 495.0L276.9 495.3L275.6 495.5L274.3 495.7L272.9 495.9L271.6 496.1L270.3 496.3L268.9 496.5L267.6 496.8L266.2 497.0L264.9 497.3L263.6 497.5L262.2 497.8L260.9 498.1L259.5 498.4L258.2 498.8L256.9 499.1L255.5 499.4L254.2 499.8L252.8 500.2L251.5 500.6L250.2 501.0L248.8 501.4L247.5 501.8L246.1 502.3L244.8 502.8L243.5 503.4L242.1 504.1L240.8 504.8L239.4 505.5L238.1 506.3L236.8 507.0L235.4 507.6L234.1 508.1L232.7 508.6L231.4 509.0L230.1 509.4L228.7 509.8L227.4 510.2L226.0 510.6L224.7 510.9L223.4 511.3L222.0 511.6L220.7 511.9L219.3 512.2L218.0 512.5L216.7 512.7L215.3 513.0L214.0 513.3L212.6 513.6L211.3 513.9L210.0 514.2L208.6 514.5L207.3 514.9L205.9 515.2L204.6 515.5L203.3 515.8L201.9 516.2L200.6 516.5L199.2 516.8L197.9 517.2L196.6 517.5L195.2 517.8L193.9 518.1L192.6 518.4L191.2 518.7L189.9 518.9L188.5 519.2L187.2 519.4L185.9 519.6L184.5 519.8L183.2 520.1L181.8 520.3L180.5 520.5L179.2 520.6L177.8 520.8L176.5 521.0L175.1 521.2L173.8 521.4L172.5 521.6L171.1 521.7L169.8 521.9L168.4 522.1L167.1 522.2L165.8 522.4L164.4 522.6L163.1 522.7L161.7 522.9L160.4 523.1L159.1 523.2L157.7 523.4L156.4 523.6L155.0 523.7L153.7 523.9L152.4 524.0L151.0 524.2L149.7 524.3L148.3 524.5L147.0 524.6L145.7 524.8L144.3 525.0L143.0 525.1L141.6 525.3L140.3 525.4L139.0 525.6L137.6 525.8L136.3 525.9L134.9 526.1L133.6 526.2L132.3 526.4L130.9 526.6L129.6 526.7L128.2 526.9L126.9 527.0L125.6 527.2L124.2 527.4L122.9 527.6L121.5 527.7L120.2 527.9L118.9 528.1L117.5 528.3L116.2 528.5L114.9 528.6L113.5 528.8L112.2 529.0L110.8 529.2L109.5 529.4L108.2 529.6L106.8 529.8L105.5 530.0L104.1 530.2L102.8 530.4L101.5 530.7L100.1 530.9L98.8 531.2L97.4 531.5L96.1 531.8L94.8 532.2L93.4 532.6L92.1 533.0L90.7 533.4L89.4 533.9L88.1 534.4L86.7 534.9L85.4 535.4L84.0 535.9L82.7 536.4M82.7 536.4L84.1 533.1L85.6 529.9L87.0 526.9L88.4 524.0L89.9 521.3L91.3 518.7L92.7 516.3L94.2 514.1L95.6 512.1L97.0 510.2L98.5 508.6L99.9 507.2L101.3 506.0L102.8 505.2L104.2 504.7L106.3 503.2L108.5 501.7L110.6 500.3L112.7 498.9L114.9 497.5L117.0 496.2L119.1 494.9L121.2 493.6L123.4 492.4L125.5 491.2L127.6 490.0L129.8 488.9L131.9 488.0L134.0 487.0L136.2 486.1L138.3 485.2L140.4 484.5L142.5 483.9L144.7 483.4L146.8 482.9L148.9 482.5L151.1 482.1L153.2 481.8L155.3 481.4L157.5 481.1L159.6 480.8L161.7 480.6L163.8 480.4L166.0 480.2L168.1 480.0L170.2 479.8L172.4 479.6L174.5 479.4L176.6 479.2L178.7 479.1L180.9 479.0L183.0 478.8L185.1 478.8L187.3 478.7L189.4 478.7L191.5 478.7L193.7 478.7L195.8 478.7L197.9 478.7L200.0 478.7L202.2 478.7L204.3 478.6L206.4 478.6L208.6 478.6L210.7 478.6L212.8 478.5L215.0 478.4L217.1 478.3L219.2 478.1L221.3 478.0L223.5 477.7L225.6 477.5L227.7 477.3L229.9 477.1L230.9 477.1L231.9 477.1L232.9 477.0L233.9 476.9L234.9 476.6L235.9 476.2L236.9 475.6L237.9 475.0L238.9 474.2L239.9 473.4L240.9 472.4L241.9 471.4L242.9 470.3L243.9 469.0L244.9 467.7L245.9 466.4L246.9 464.9L247.9 463.4L248.9 461.8L249.9 460.2L250.9 458.5L251.9 456.7L252.9 454.9L253.9 453.1L254.9 451.2L255.9 449.3L256.9 447.4L257.9 445.4L258.9 443.5L260.0 441.5L261.0 439.5L262.0 437.5L263.0 435.5L264.0 433.5L265.0 431.6L266.0 429.6L267.0 427.7L268.0 425.8L269.0 423.9L270.0 422.1L271.0 420.3L272.0 418.6L273.0 416.9L274.0 415.3L275.0 413.7L276.0 412.2L277.0 410.7L278.0 409.4L279.0 408.1L280.0 406.8L281.0 405.7L282.0 404.6L283.0 403.6L284.0 402.7L285.0 401.8L286.0 401.0L287.0 400.4L288.0 399.8L289.0 399.3L290.0 398.9L291.0 398.6L292.0 398.5L293.1 398.4L294.1 398.3L295.1 398.2L296.1 398.1L297.1 398.0L298.1 397.9L299.1 397.8L300.1 397.7L301.1 397.6L302.1 397.6L303.1 397.5L304.1 397.5L305.1 397.4L306.1 397.4L307.1 397.4L308.1 397.3L309.1 397.3L307.8 401.3L306.4 405.3L305.1 409.4L303.7 413.4L302.4 417.5L301.1 421.5L299.7 425.6L298.4 429.6L297.0 433.7L295.7 437.7L294.4 441.8L293.0 445.8L291.7 449.9L290.3 453.9L289.0 457.9L287.7 462.0L286.3 466.0L285.0 470.1L283.6 474.1L282.3 478.2L281.0 482.2L279.6 486.2L278.3 490.2L276.9 494.0L275.6 495.4L274.3 495.7L272.9 496.0L271.6 496.2L270.3 496.4L268.9 496.6L267.6 496.8L266.2 497.1L264.9 497.3L263.6 497.6L262.2 497.9L260.9 498.2L259.5 498.5L258.2 498.8L256.9 499.1L255.5 499.5L254.2 499.9L252.8 500.2L251.5 500.6L250.2 501.0L248.8 501.4L247.5 501.9L246.1 502.4L244.8 502.9L243.5 503.5L242.1 504.2L240.8 504.9L239.4 505.7L238.1 506.5L236.8 507.3L235.4 508.0L234.1 508.6L232.7 509.1L231.4 509.6L230.1 510.1L228.7 510.5L227.4 511.0L226.0 511.4L224.7 511.8L223.4 512.1L222.0 512.5L220.7 512.8L219.3 513.2L218.0 513.5L216.7 513.8L215.3 514.2L214.0 514.5L212.6 514.9L211.3 515.2L210.0 515.6L208.6 516.0L207.3 516.3L205.9 516.7L204.6 517.1L203.3 517.5L201.9 517.9L200.6 518.3L199.2 518.7L197.9 519.1L196.6 519.5L195.2 519.8L193.9 520.2L192.6 520.5L191.2 520.9L189.9 521.2L188.5 521.5L187.2 521.8L185.9 522.0L184.5 522.3L183.2 522.5L181.8 522.8L180.5 523.0L179.2 523.3L177.8 523.5L176.5 523.7L175.1 523.9L173.8 524.1L172.5 524.3L171.1 524.5L169.8 524.7L168.4 525.0L167.1 525.2L165.8 525.4L164.4 525.6L163.1 525.8L161.7 526.0L160.4 526.2L159.1 526.4L157.7 526.5L156.4 526.7L155.0 526.9L153.7 527.1L152.4 527.3L151.0 527.5L149.7 527.7L148.3 527.8L147.0 528.0L145.7 528.2L144.3 528.4L143.0 528.6L141.6 528.8L140.3 529.0L139.0 529.2L137.6 529.4L136.3 529.5L134.9 529.7L133.6 529.9L132.3 530.1L130.9 530.3L129.6 530.5L128.2 530.7L126.9 530.9L125.6 531.1L124.2 531.3L122.9 531.5L121.5 531.7L120.2 531.9L118.9 532.1L117.5 532.3L116.2 532.5L114.9 532.7L113.5 532.9L112.2 533.1L110.8 533.4L109.5 533.6L108.2 533.8L106.8 534.0L105.5 534.3L104.1 534.5L102.8 534.8L101.5 535.1L100.1 535.4L98.8 535.7L97.4 536.0L96.1 536.4L94.8 536.8L93.4 537.3L92.1 537.7L90.7 538.2L89.4 538.8L88.1 539.3L86.7 539.9L85.4 540.5L84.0 541.1L82.7 541.7M82.7 541.7L84.1 537.8L85.6 534.1L87.0 530.6L88.4 527.2L89.9 524.1L91.3 521.1L92.7 518.3L94.2 515.7L95.6 513.3L97.0 511.1L98.5 509.2L99.9 507.6L101.3 506.2L102.8 505.2L104.2 504.7L106.3 503.0L108.5 501.3L110.6 499.6L112.7 498.0L114.9 496.4L117.0 494.9L119.1 493.4L121.2 491.9L123.4 490.5L125.5 489.1L127.6 487.8L129.8 486.5L131.9 485.4L134.0 484.3L136.2 483.3L138.3 482.3L140.4 481.5L142.5 480.8L144.7 480.2L146.8 479.7L148.9 479.2L151.1 478.8L153.2 478.4L155.3 478.0L157.5 477.6L159.6 477.3L161.7 477.0L163.8 476.8L166.0 476.6L168.1 476.3L170.2 476.1L172.4 475.9L174.5 475.7L176.6 475.5L178.7 475.3L180.9 475.2L183.0 475.1L185.1 475.0L187.3 474.9L189.4 474.9L191.5 474.9L193.7 474.9L195.8 474.9L197.9 474.9L200.0 474.9L202.2 474.9L204.3 474.9L206.4 474.8L208.6 474.8L210.7 474.8L212.8 474.8L215.0 474.7L217.1 474.5L219.2 474.4L221.3 474.2L223.5 473.9L225.6 473.7L227.7 473.5L229.9 473.2L230.9 473.2L231.9 473.2L232.9 473.2L233.9 473.0L234.9 472.7L235.9 472.3L236.9 471.8L237.9 471.2L238.9 470.5L239.9 469.7L240.9 468.7L241.9 467.7L242.9 466.6L243.9 465.4L244.9 464.1L245.9 462.8L246.9 461.4L247.9 459.9L248.9 458.3L249.9 456.7L250.9 455.1L251.9 453.3L252.9 451.6L253.9 449.8L254.9 447.9L255.9 446.0L256.9 444.1L257.9 442.2L258.9 440.2L260.0 438.2L261.0 436.2L262.0 434.2L263.0 432.2L264.0 430.2L265.0 428.2L266.0 426.2L267.0 424.2L268.0 422.2L269.0 420.3L270.0 418.4L271.0 416.5L272.0 414.6L273.0 412.8L274.0 411.1L275.0 409.4L276.0 407.7L277.0 406.1L278.0 404.5L279.0 403.1L280.0 401.6L281.0 400.3L282.0 398.9L283.0 397.7L284.0 396.5L285.0 395.5L286.0 394.4L287.0 393.5L288.0 392.6L289.0 391.9L290.0 391.2L291.0 390.6L292.0 390.1L293.1 389.8L294.1 389.5L295.1 389.4L296.1 389.4L297.1 389.3L298.1 389.2L299.1 389.2L300.1 389.1L301.1 389.0L302.1 389.0L303.1 389.0L304.1 388.9L305.1 388.9L306.1 388.9L307.1 388.9L308.1 388.8L309.1 388.8L307.8 392.8L306.4 396.9L305.1 400.9L303.7 405.0L302.4 409.0L301.1 413.1L299.7 417.1L298.4 421.2L297.0 425.2L295.7 429.2L294.4 433.3L293.0 437.3L291.7 441.4L290.3 445.4L289.0 449.5L287.7 453.5L286.3 457.6L285.0 461.6L283.6 465.7L282.3 469.7L281.0 473.8L279.6 477.8L278.3 481.8L276.9 485.9L275.6 489.9L274.3 493.7L272.9 495.8L271.6 496.2L270.3 496.4L268.9 496.7L267.6 496.9L266.2 497.1L264.9 497.4L263.6 497.7L262.2 498.0L260.9 498.3L259.5 498.6L258.2 498.9L256.9 499.2L255.5 499.6L254.2 499.9L252.8 500.3L251.5 500.7L250.2 501.1L248.8 501.5L247.5 502.0L246.1 502.4L244.8 503.0L243.5 503.7L242.1 504.4L240.8 505.1L239.4 506.0L238.1 506.9L236.8 507.7L235.4 508.5L234.1 509.1L232.7 509.7L231.4 510.3L230.1 510.8L228.7 511.3L227.4 511.8L226.0 512.2L224.7 512.6L223.4 513.1L222.0 513.5L220.7 513.9L219.3 514.3L218.0 514.6L216.7 515.0L215.3 515.4L214.0 515.8L212.6 516.2L211.3 516.6L210.0 517.1L208.6 517.5L207.3 517.9L205.9 518.4L204.6 518.9L203.3 519.3L201.9 519.8L200.6 520.3L199.2 520.7L197.9 521.2L196.6 521.6L195.2 522.0L193.9 522.5L192.6 522.9L191.2 523.3L189.9 523.6L188.5 524.0L187.2 524.3L185.9 524.6L184.5 524.9L183.2 525.2L181.8 525.5L180.5 525.8L179.2 526.1L177.8 526.3L176.5 526.6L175.1 526.9L173.8 527.1L172.5 527.3L171.1 527.6L169.8 527.8L168.4 528.1L167.1 528.3L165.8 528.6L164.4 528.8L163.1 529.0L161.7 529.3L160.4 529.5L159.1 529.7L157.7 529.9L156.4 530.2L155.0 530.4L153.7 530.6L152.4 530.8L151.0 531.0L149.7 531.3L148.3 531.5L147.0 531.7L145.7 531.9L144.3 532.1L143.0 532.4L141.6 532.6L140.3 532.8L139.0 533.0L137.6 533.2L136.3 533.5L134.9 533.7L133.6 533.9L132.3 534.1L130.9 534.3L129.6 534.6L128.2 534.8L126.9 535.0L125.6 535.2L124.2 535.5L122.9 535.7L121.5 536.0L120.2 536.2L118.9 536.4L117.5 536.7L116.2 536.9L114.9 537.2L113.5 537.4L112.2 537.7L110.8 537.9L109.5 538.1L108.2 538.4L106.8 538.7L105.5 539.0L104.1 539.2L102.8 539.5L101.5 539.9L100.1 540.2L98.8 540.6L97.4 541.0L96.1 541.4L94.8 541.9L93.4 542.4L92.1 542.9L90.7 543.5L89.4 544.1L88.1 544.7L86.7 545.3L85.4 546.0L84.0 546.7L82.7 547.4M82.7 547.4L84.1 542.9L85.6 538.7L87.0 534.6L88.4 530.7L89.9 527.0L91.3 523.6L92.7 520.3L94.2 517.3L95.6 514.6L97.0 512.1L98.5 509.9L99.9 508.0L101.3 506.4L102.8 505.3L104.2 504.7L106.3 502.7L108.5 500.8L110.6 498.9L112.7 497.0L114.9 495.2L117.0 493.5L119.1 491.8L121.2 490.1L123.4 488.5L125.5 487.0L127.6 485.5L129.8 484.1L131.9 482.8L134.0 481.6L136.2 480.4L138.3 479.3L140.4 478.4L142.5 477.6L144.7 477.0L146.8 476.4L148.9 475.8L151.1 475.3L153.2 474.9L155.3 474.4L157.5 474.1L159.6 473.7L161.7 473.4L163.8 473.1L166.0 472.8L168.1 472.6L170.2 472.3L172.4 472.1L174.5 471.9L176.6 471.7L178.7 471.5L180.9 471.3L183.0 471.2L185.1 471.1L187.3 471.0L189.4 471.0L191.5 471.0L193.7 471.0L195.8 471.0L197.9 471.0L200.0 471.0L202.2 471.0L204.3 471.0L206.4 471.0L208.6 471.0L210.7 471.0L212.8 470.9L215.0 470.8L217.1 470.7L219.2 470.5L221.3 470.3L223.5 470.0L225.6 469.8L227.7 469.5L229.9 469.3L230.9 469.3L231.9 469.3L232.9 469.2L233.9 469.1L234.9 468.8L235.9 468.4L236.9 467.9L237.9 467.3L238.9 466.6L239.9 465.8L240.9 464.9L241.9 463.9L242.9 462.9L243.9 461.7L244.9 460.5L245.9 459.1L246.9 457.7L247.9 456.3L248.9 454.8L249.9 453.2L250.9 451.6L251.9 449.9L252.9 448.1L253.9 446.3L254.9 444.5L255.9 442.6L256.9 440.7L257.9 438.8L258.9 436.9L260.0 434.9L261.0 432.9L262.0 430.9L263.0 428.8L264.0 426.8L265.0 424.8L266.0 422.8L267.0 420.7L268.0 418.7L269.0 416.7L270.0 414.8L271.0 412.8L272.0 410.9L273.0 409.0L274.0 407.1L275.0 405.3L276.0 403.5L277.0 401.7L278.0 400.0L279.0 398.4L280.0 396.8L281.0 395.3L282.0 393.8L283.0 392.3L284.0 391.0L285.0 389.7L286.0 388.4L287.0 387.3L288.0 386.2L289.0 385.2L290.0 384.3L291.0 383.5L292.0 382.7L293.1 382.1L294.1 381.6L295.1 381.1L296.1 380.8L297.1 380.6L298.1 380.6L299.1 380.5L300.1 380.5L301.1 380.5L302.1 380.4L303.1 380.4L304.1 380.4L305.1 380.4L306.1 380.4L307.1 380.4L308.1 380.3L309.1 380.3L307.8 384.4L306.4 388.4L305.1 392.5L303.7 396.5L302.4 400.5L301.1 404.6L299.7 408.6L298.4 412.7L297.0 416.7L295.7 420.8L294.4 424.8L293.0 428.9L291.7 432.9L290.3 437.0L289.0 441.0L287.7 445.1L286.3 449.1L285.0 453.2L283.6 457.2L282.3 461.2L281.0 465.3L279.6 469.3L278.3 473.4L276.9 477.4L275.6 481.5L274.3 485.5L272.9 489.5L271.6 493.4L270.3 496.2L268.9 496.7L267.6 496.9L266.2 497.2L264.9 497.5L263.6 497.7L262.2 498.0L260.9 498.3L259.5 498.6L258.2 498.9L256.9 499.3L255.5 499.6L254.2 500.0L252.8 500.3L251.5 500.7L250.2 501.1L248.8 501.6L247.5 502.0L246.1 502.5L244.8 503.1L243.5 503.8L242.1 504.5L240.8 505.3L239.4 506.2L238.1 507.2L236.8 508.2L235.4 509.0L234.1 509.7L232.7 510.3L231.4 511.0L230.1 511.5L228.7 512.1L227.4 512.6L226.0 513.1L224.7 513.6L223.4 514.1L222.0 514.5L220.7 515.0L219.3 515.4L218.0 515.9L216.7 516.3L215.3 516.8L214.0 517.2L212.6 517.7L211.3 518.2L210.0 518.6L208.6 519.2L207.3 519.7L205.9 520.2L204.6 520.7L203.3 521.3L201.9 521.8L200.6 522.3L199.2 522.9L197.9 523.4L196.6 523.9L195.2 524.4L193.9 524.9L192.6 525.4L191.2 525.9L189.9 526.3L188.5 526.7L187.2 527.1L185.9 527.4L184.5 527.8L183.2 528.1L181.8 528.5L180.5 528.8L179.2 529.1L177.8 529.4L176.5 529.7L175.1 530.0L173.8 530.3L172.5 530.6L171.1 530.9L169.8 531.2L168.4 531.4L167.1 531.7L165.8 532.0L164.4 532.3L163.1 532.6L161.7 532.8L160.4 533.1L159.1 533.4L157.7 533.6L156.4 533.9L155.0 534.1L153.7 534.4L152.4 534.6L151.0 534.9L149.7 535.1L148.3 535.4L147.0 535.6L145.7 535.9L144.3 536.1L143.0 536.4L141.6 536.7L140.3 536.9L139.0 537.2L137.6 537.4L136.3 537.7L134.9 537.9L133.6 538.2L132.3 538.4L130.9 538.7L129.6 538.9L128.2 539.2L126.9 539.5L125.6 539.7L124.2 540.0L122.9 540.3L121.5 540.6L120.2 540.8L118.9 541.1L117.5 541.4L116.2 541.7L114.9 541.9L113.5 542.2L112.2 542.5L110.8 542.8L109.5 543.1L108.2 543.4L106.8 543.7L105.5 544.0L104.1 544.3L102.8 544.7L101.5 545.0L100.1 545.4L98.8 545.8L97.4 546.3L96.1 546.7L94.8 547.3L93.4 547.8L92.1 548.4L90.7 549.1L89.4 549.8L88.1 550.5L86.7 551.2L85.4 552.0L84.0 552.7L82.7 553.5M82.7 553.5L84.1 548.4L85.6 543.5L87.0 538.9L88.4 534.4L89.9 530.2L91.3 526.3L92.7 522.6L94.2 519.2L95.6 516.0L97.0 513.2L98.5 510.6L99.9 508.5L101.3 506.7L102.8 505.4L104.2 504.7L106.3 502.5L108.5 500.3L110.6 498.1L112.7 496.1L114.9 494.1L117.0 492.1L119.1 490.2L121.2 488.3L123.4 486.5L125.5 484.8L127.6 483.1L129.8 481.5L131.9 480.1L134.0 478.8L136.2 477.5L138.3 476.2L140.4 475.2L142.5 474.3L144.7 473.6L146.8 473.0L148.9 472.4L151.1 471.8L153.2 471.3L155.3 470.8L157.5 470.4L159.6 470.0L161.7 469.6L163.8 469.3L166.0 469.0L168.1 468.7L170.2 468.5L172.4 468.2L174.5 467.9L176.6 467.7L178.7 467.5L180.9 467.3L183.0 467.2L185.1 467.1L187.3 467.0L189.4 467.0L191.5 467.0L193.7 467.0L195.8 467.0L197.9 467.0L200.0 467.0L202.2 467.0L204.3 467.0L206.4 467.0L208.6 467.0L210.7 467.0L212.8 467.0L215.0 466.9L217.1 466.7L219.2 466.5L221.3 466.3L223.5 466.0L225.6 465.8L227.7 465.5L229.9 465.2L230.9 465.2L231.9 465.2L232.9 465.2L233.9 465.0L234.9 464.8L235.9 464.4L236.9 463.9L237.9 463.3L238.9 462.6L239.9 461.9L240.9 461.0L241.9 460.0L242.9 459.0L243.9 457.9L244.9 456.7L245.9 455.4L246.9 454.0L247.9 452.6L248.9 451.1L249.9 449.6L250.9 448.0L251.9 446.3L252.9 444.6L253.9 442.8L254.9 441.0L255.9 439.2L256.9 437.3L257.9 435.4L258.9 433.5L260.0 431.5L261.0 429.5L262.0 427.5L263.0 425.5L264.0 423.4L265.0 421.4L266.0 419.4L267.0 417.3L268.0 415.3L269.0 413.2L270.0 411.2L271.0 409.2L272.0 407.2L273.0 405.2L274.0 403.3L275.0 401.4L276.0 399.5L277.0 397.6L278.0 395.8L279.0 394.0L280.0 392.3L281.0 390.6L282.0 389.0L283.0 387.4L284.0 385.9L285.0 384.4L286.0 383.0L287.0 381.6L288.0 380.4L289.0 379.2L290.0 378.1L291.0 377.0L292.0 376.1L293.1 375.2L294.1 374.4L295.1 373.7L296.1 373.2L297.1 372.7L298.1 372.3L299.1 372.1L300.1 371.9L301.1 371.9L302.1 371.9L303.1 371.9L304.1 371.9L305.1 371.9L306.1 371.9L307.1 371.9L308.1 371.9L309.1 371.9L307.8 375.9L306.4 379.9L305.1 384.0L303.7 388.0L302.4 392.1L301.1 396.1L299.7 400.2L298.4 404.2L297.0 408.3L295.7 412.3L294.4 416.4L293.0 420.4L291.7 424.5L290.3 428.5L289.0 432.5L287.7 436.6L286.3 440.6L285.0 444.7L283.6 448.7L282.3 452.8L281.0 456.8L279.6 460.9L278.3 464.9L276.9 469.0L275.6 473.0L274.3 477.0L272.9 481.1L271.6 485.1L270.3 489.1L268.9 493.1L267.6 496.4L266.2 497.2L264.9 497.5L263.6 497.8L262.2 498.1L260.9 498.4L259.5 498.7L258.2 499.0L256.9 499.3L255.5 499.7L254.2 500.0L252.8 500.4L251.5 500.8L250.2 501.2L248.8 501.7L247.5 502.1L246.1 502.6L244.8 503.2L243.5 503.9L242.1 504.7L240.8 505.5L239.4 506.5L238.1 507.6L236.8 508.6L235.4 509.6L234.1 510.3L232.7 511.0L231.4 511.7L230.1 512.3L228.7 513.0L227.4 513.5L226.0 514.1L224.7 514.6L223.4 515.2L222.0 515.7L220.7 516.2L219.3 516.7L218.0 517.2L216.7 517.7L215.3 518.2L214.0 518.7L212.6 519.2L211.3 519.8L210.0 520.3L208.6 520.9L207.3 521.5L205.9 522.1L204.6 522.7L203.3 523.4L201.9 524.0L200.6 524.6L199.2 525.2L197.9 525.8L196.6 526.4L195.2 527.0L193.9 527.5L192.6 528.1L191.2 528.6L189.9 529.1L188.5 529.6L187.2 530.0L185.9 530.4L184.5 530.8L183.2 531.2L181.8 531.6L180.5 532.0L179.2 532.4L177.8 532.7L176.5 533.1L175.1 533.4L173.8 533.7L172.5 534.1L171.1 534.4L169.8 534.7L168.4 535.0L167.1 535.4L165.8 535.7L164.4 536.0L163.1 536.3L161.7 536.6L160.4 536.9L159.1 537.2L157.7 537.5L156.4 537.8L155.0 538.1L153.7 538.4L152.4 538.7L151.0 539.0L149.7 539.3L148.3 539.6L147.0 539.8L145.7 540.1L144.3 540.4L143.0 540.7L141.6 541.0L140.3 541.3L139.0 541.6L137.6 541.9L136.3 542.2L134.9 542.5L133.6 542.8L132.3 543.1L130.9 543.3L129.6 543.6L128.2 543.9L126.9 544.2L125.6 544.5L124.2 544.8L122.9 545.2L121.5 545.5L120.2 545.8L118.9 546.1L117.5 546.4L116.2 546.7L114.9 547.1L113.5 547.4L112.2 547.7L110.8 548.0L109.5 548.3L108.2 548.7L106.8 549.0L105.5 549.4L104.1 549.7L102.8 550.1L101.5 550.5L100.1 551.0L98.8 551.4L97.4 551.9L96.1 552.4L94.8 553.0L93.4 553.7L92.1 554.4L90.7 555.1L89.4 555.8L88.1 556.6L86.7 557.5L85.4 558.3L84.0 559.2L82.7 560.1M82.7 560.1L84.1 554.3L85.6 548.8L87.0 543.5L88.4 538.4L89.9 533.7L91.3 529.2L92.7 525.0L94.2 521.1L95.6 517.5L97.0 514.3L98.5 511.4L99.9 509.0L101.3 506.9L102.8 505.5L104.2 504.7L106.3 502.2L108.5 499.8L110.6 497.4L112.7 495.1L114.9 492.8L117.0 490.7L119.1 488.5L121.2 486.5L123.4 484.5L125.5 482.5L127.6 480.7L129.8 479.0L131.9 477.4L134.0 475.9L136.2 474.4L138.3 473.1L140.4 471.9L142.5 471.0L144.7 470.2L146.8 469.5L148.9 468.8L151.1 468.2L153.2 467.6L155.3 467.1L157.5 466.6L159.6 466.2L161.7 465.8L163.8 465.4L166.0 465.1L168.1 464.8L170.2 464.5L172.4 464.2L174.5 463.9L176.6 463.7L178.7 463.4L180.9 463.3L183.0 463.1L185.1 463.0L187.3 462.9L189.4 462.9L191.5 462.9L193.7 462.9L195.8 462.9L197.9 462.9L200.0 462.9L202.2 462.9L204.3 462.9L206.4 462.9L208.6 462.9L210.7 462.9L212.8 462.9L215.0 462.8L217.1 462.6L219.2 462.4L221.3 462.2L223.5 461.9L225.6 461.7L227.7 461.3L229.9 461.0L230.9 461.0L231.9 461.0L232.9 461.0L233.9 460.9L234.9 460.6L235.9 460.3L236.9 459.8L237.9 459.2L238.9 458.6L239.9 457.8L240.9 457.0L241.9 456.0L242.9 455.0L243.9 453.9L244.9 452.8L245.9 451.5L246.9 450.2L247.9 448.8L248.9 447.3L249.9 445.8L250.9 444.3L251.9 442.6L252.9 441.0L253.9 439.2L254.9 437.5L255.9 435.6L256.9 433.8L257.9 431.9L258.9 430.0L260.0 428.0L261.0 426.1L262.0 424.1L263.0 422.1L264.0 420.0L265.0 418.0L266.0 415.9L267.0 413.9L268.0 411.8L269.0 409.8L270.0 407.7L271.0 405.6L272.0 403.6L273.0 401.6L274.0 399.6L275.0 397.6L276.0 395.6L277.0 393.7L278.0 391.8L279.0 389.9L280.0 388.1L281.0 386.3L282.0 384.5L283.0 382.8L284.0 381.2L285.0 379.5L286.0 378.0L287.0 376.5L288.0 375.1L289.0 373.7L290.0 372.4L291.0 371.2L292.0 370.1L293.1 369.0L294.1 368.0L295.1 367.1L296.1 366.3L297.1 365.6L298.1 365.0L299.1 364.4L300.1 364.0L301.1 363.7L302.1 363.5L303.1 363.4L304.1 363.4L305.1 363.4L306.1 363.4L307.1 363.4L308.1 363.4L309.1 363.4L307.8 367.4L306.4 371.5L305.1 375.5L303.7 379.6L302.4 383.6L301.1 387.7L299.7 391.7L298.4 395.8L297.0 399.8L295.7 403.8L294.4 407.9L293.0 411.9L291.7 416.0L290.3 420.0L289.0 424.1L287.7 428.1L286.3 432.2L285.0 436.2L283.6 440.3L282.3 444.3L281.0 448.4L279.6 452.4L278.3 456.5L276.9 460.5L275.6 464.5L274.3 468.6L272.9 472.6L271.6 476.7L270.3 480.7L268.9 484.8L267.6 488.8L266.2 492.8L264.9 496.5L263.6 497.8L262.2 498.2L260.9 498.5L259.5 498.8L258.2 499.1L256.9 499.4L255.5 499.7L254.2 500.1L252.8 500.5L251.5 500.9L250.2 501.3L248.8 501.7L247.5 502.2L246.1 502.7L244.8 503.4L243.5 504.1L242.1 504.9L240.8 505.8L239.4 506.8L238.1 507.9L236.8 509.1L235.4 510.1L234.1 511.0L232.7 511.7L231.4 512.5L230.1 513.2L228.7 513.9L227.4 514.5L226.0 515.1L224.7 515.7L223.4 516.3L222.0 516.9L220.7 517.5L219.3 518.0L218.0 518.6L216.7 519.1L215.3 519.7L214.0 520.3L212.6 520.9L211.3 521.5L210.0 522.1L208.6 522.8L207.3 523.5L205.9 524.2L204.6 524.9L203.3 525.6L201.9 526.3L200.6 527.0L199.2 527.7L197.9 528.4L196.6 529.0L195.2 529.7L193.9 530.3L192.6 531.0L191.2 531.5L189.9 532.1L188.5 532.6L187.2 533.1L185.9 533.6L184.5 534.1L183.2 534.5L181.8 535.0L180.5 535.4L179.2 535.8L177.8 536.2L176.5 536.6L175.1 537.0L173.8 537.4L172.5 537.7L171.1 538.1L169.8 538.5L168.4 538.9L167.1 539.2L165.8 539.6L164.4 539.9L163.1 540.3L161.7 540.7L160.4 541.0L159.1 541.4L157.7 541.7L156.4 542.0L155.0 542.4L153.7 542.7L152.4 543.0L151.0 543.3L149.7 543.7L148.3 544.0L147.0 544.3L145.7 544.7L144.3 545.0L143.0 545.3L141.6 545.7L140.3 546.0L139.0 546.3L137.6 546.7L136.3 547.0L134.9 547.3L133.6 547.6L132.3 548.0L130.9 548.3L129.6 548.6L128.2 549.0L126.9 549.3L125.6 549.6L124.2 550.0L122.9 550.3L121.5 550.7L120.2 551.1L118.9 551.4L117.5 551.8L116.2 552.1L114.9 552.5L113.5 552.8L112.2 553.2L110.8 553.5L109.5 553.9L108.2 554.3L106.8 554.7L105.5 555.1L104.1 555.5L102.8 555.9L101.5 556.4L100.1 556.9L98.8 557.4L97.4 557.9L96.1 558.5L94.8 559.2L93.4 559.9L92.1 560.7L90.7 561.5L89.4 562.3L88.1 563.2L86.7 564.1L85.4 565.1L84.0 566.1L82.7 567.1" fill="none" stroke="#000" stroke-width="1.1" stroke-linejoin="round"/>
<rect x="54.1" y="338.4" width="283.5" height="246.4" fill="none" stroke="#5a5a5a" stroke-width="1.3"/>
<path d="M82.7 584.8L82.7 587.3M139.3 584.8L139.3 587.3M195.9 584.8L195.9 587.3M252.5 584.8L252.5 587.3M309.1 584.8L309.1 587.3M111 584.8L111 586.3M167.6 584.8L167.6 586.3M224.2 584.8L224.2 586.3M280.8 584.8L280.8 586.3M337.4 584.8L337.4 586.3M51.6 585.3L54.1 585.3M51.6 547.3L54.1 547.3M51.6 509.3L54.1 509.3M51.6 471.3L54.1 471.3M51.6 433.3L54.1 433.3M51.6 395.3L54.1 395.3M51.6 357.3L54.1 357.3M52.6 566.3L54.1 566.3M52.6 528.3L54.1 528.3M52.6 490.3L54.1 490.3M52.6 452.3L54.1 452.3M52.6 414.3L54.1 414.3M52.6 376.3L54.1 376.3" stroke="#5a5a5a" stroke-width="1"/>
<text x="82.7" y="602.7" font-family='"Liberation Sans", sans-serif' font-size="13.3" font-weight="bold" text-anchor="middle" fill="#000" >0.0</text>
<text x="139.3" y="602.7" font-family='"Liberation Sans", sans-serif' font-size="13.3" font-weight="bold" text-anchor="middle" fill="#000" >0.5</text>
<text x="195.9" y="602.7" font-family='"Liberation Sans", sans-serif' font-size="13.3" font-weight="bold" text-anchor="middle" fill="#000" >1.0</text>
<text x="252.5" y="602.7" font-family='"Liberation Sans", sans-serif' font-size="13.3" font-weight="bold" text-anchor="middle" fill="#000" >1.5</text>
<text x="309.1" y="602.7" font-family='"Liberation Sans", sans-serif' font-size="13.3" font-weight="bold" text-anchor="middle" fill="#000" >2.0</text>
<text x="48" y="589.3" font-family='"Liberation Sans", sans-serif' font-size="13.3" font-weight="bold" text-anchor="end" fill="#000" >-2</text>
<text x="48" y="551.3" font-family='"Liberation Sans", sans-serif' font-size="13.3" font-weight="bold" text-anchor="end" fill="#000" >-1</text>
<text x="48" y="513.3" font-family='"Liberation Sans", sans-serif' font-size="13.3" font-weight="bold" text-anchor="end" fill="#000" >0</text>
<text x="48" y="475.3" font-family='"Liberation Sans", sans-serif' font-size="13.3" font-weight="bold" text-anchor="end" fill="#000" >1</text>
<text x="48" y="437.3" font-family='"Liberation Sans", sans-serif' font-size="13.3" font-weight="bold" text-anchor="end" fill="#000" >2</text>
<text x="48" y="399.3" font-family='"Liberation Sans", sans-serif' font-size="13.3" font-weight="bold" text-anchor="end" fill="#000" >3</text>
<text x="48" y="361.3" font-family='"Liberation Sans", sans-serif' font-size="13.3" font-weight="bold" text-anchor="end" fill="#000" >4</text>
<text x="195.9" y="621.9" font-family='"Liberation Sans", sans-serif' font-size="12.6" font-weight="bold" text-anchor="middle" fill="#000" >Potential / (V)</text>
<text x="0" y="0" font-family='"Liberation Sans", sans-serif' font-size="12.6" font-weight="bold" text-anchor="middle" fill="#000" transform="translate(33.6 461.7) rotate(-90)">Current / (mA)</text>
<text x="78.1" y="363.9" font-family='"Liberation Sans", sans-serif' font-size="12.3" font-weight="bold" text-anchor="start" fill="#000" >10 mM EDOT</text>
<text x="78.1" y="381.8" font-family='"Liberation Sans", sans-serif' font-size="12.3" font-weight="bold" text-anchor="start" fill="#000" >Current -100 μA</text>
<text x="78.1" y="397.8" font-family='"Liberation Serif", serif' font-size="12.6" font-weight="bold" text-anchor="start" fill="#000" >0.1 M TBAHFP</text>
<text x="9.5" y="337.6" font-family='"Liberation Serif", serif' font-size="19.2" font-weight="bold" text-anchor="start" fill="#000" >(C)</text>
<rect x="422.6" y="342.3" width="280.7" height="234.9" fill="none" stroke="#5a5a5a" stroke-width="1.3"/>
<path d="M450.6 577.2L450.6 579.7M506.8 577.2L506.8 579.7M563 577.2L563 579.7M619.2 577.2L619.2 579.7M675.4 577.2L675.4 579.7M422.5 577.2L422.5 578.7M478.7 577.2L478.7 578.7M534.9 577.2L534.9 578.7M591.1 577.2L591.1 578.7M647.3 577.2L647.3 578.7M703.5 577.2L703.5 578.7M420.1 576.7L422.6 576.7M420.1 529.8L422.6 529.8M420.1 482.9L422.6 482.9M420.1 436L422.6 436M420.1 389.1L422.6 389.1M420.1 342.2L422.6 342.2M421.1 553.25L422.6 553.25M421.1 506.35L422.6 506.35M421.1 459.45L422.6 459.45M421.1 412.55L422.6 412.55M421.1 365.65L422.6 365.65" stroke="#5a5a5a" stroke-width="1"/>
<text x="450.6" y="597" font-family='"Liberation Sans", sans-serif' font-size="13.3" font-weight="bold" text-anchor="middle" fill="#000" >-2</text>
<text x="506.8" y="597" font-family='"Liberation Sans", sans-serif' font-size="13.3" font-weight="bold" text-anchor="middle" fill="#000" >-1</text>
<text x="563" y="597" font-family='"Liberation Sans", sans-serif' font-size="13.3" font-weight="bold" text-anchor="middle" fill="#000" >0</text>
<text x="619.2" y="597" font-family='"Liberation Sans", sans-serif' font-size="13.3" font-weight="bold" text-anchor="middle" fill="#000" >1</text>
<text x="675.4" y="597" font-family='"Liberation Sans", sans-serif' font-size="13.3" font-weight="bold" text-anchor="middle" fill="#000" >2</text>
<text x="415" y="580.7" font-family='"Liberation Sans", sans-serif' font-size="13.3" font-weight="bold" text-anchor="end" fill="#000" >-0.5</text>
<text x="415" y="533.8" font-family='"Liberation Sans", sans-serif' font-size="13.3" font-weight="bold" text-anchor="end" fill="#000" >0.0</text>
<text x="415" y="486.9" font-family='"Liberation Sans", sans-serif' font-size="13.3" font-weight="bold" text-anchor="end" fill="#000" >0.5</text>
<text x="415" y="440" font-family='"Liberation Sans", sans-serif' font-size="13.3" font-weight="bold" text-anchor="end" fill="#000" >1.0</text>
<text x="415" y="393.1" font-family='"Liberation Sans", sans-serif' font-size="13.3" font-weight="bold" text-anchor="end" fill="#000" >1.5</text>
<text x="415" y="346.2" font-family='"Liberation Sans", sans-serif' font-size="13.3" font-weight="bold" text-anchor="end" fill="#000" >2.0</text>
<path d="M675.4 366.12 L674.6 370.31 L673.53 375.99 L672.25 382.77 L670.83 390.24 L669.36 398.01 L667.89 405.67 L666.51 412.84 L665.28 419.12 L664.2 424.66 L663.17 429.91 L662.19 434.91 L661.24 439.69 L660.31 444.27 L659.37 448.7 L658.41 453 L657.42 457.2 L656.39 461.31 L655.33 465.29 L654.27 469.15 L653.2 472.84 L652.13 476.36 L651.07 479.69 L650.02 482.82 L648.99 485.71 L648.01 488.34 L647.08 490.69 L646.19 492.82 L645.3 494.77 L644.37 496.58 L643.39 498.3 L642.31 499.98 L641.12 501.66 L639.78 503.33 L638.32 504.95 L636.76 506.5 L635.15 507.97 L633.51 509.35 L631.87 510.65 L630.28 511.84 L628.75 512.92 L627.31 513.89 L625.9 514.76 L624.53 515.54 L623.17 516.22 L621.8 516.8 L620.42 517.29 L618.99 517.68 L617.51 517.98 L615.99 518.16 L614.43 518.2 L612.84 518.13 L611.23 517.98 L609.59 517.76 L607.94 517.5 L606.27 517.22 L604.59 516.95 L602.89 516.66 L601.16 516.33 L599.41 515.96 L597.65 515.56 L595.88 515.14 L594.1 514.71 L592.32 514.28 L590.54 513.85 L588.72 513.35 L586.83 512.73 L584.91 512.06 L583 511.4 L581.14 510.82 L579.36 510.4 L577.7 510.2 L576.21 510.29 L574.88 510.72 L573.68 511.46 L572.6 512.42 L571.61 513.54 L570.68 514.73 L569.8 515.91 L568.93 517.02 L568.06 517.98 L567.2 518.82 L566.39 519.64 L565.61 520.43 L564.87 521.2 L564.15 521.94 L563.45 522.65 L562.77 523.33 L562.1 523.98 L561.47 524.62 L560.89 525.23 L560.35 525.83 L559.82 526.39 L559.29 526.91 L558.71 527.4 L558.09 527.83 L557.38 528.21 L556.73 528.51 L556.21 528.74 L555.72 528.91 L555.15 529.04 L554.41 529.15 L553.38 529.26 L551.97 529.37 L550.07 529.52 L547.47 529.68 L544.18 529.84 L540.41 530.01 L536.41 530.17 L532.39 530.33 L528.59 530.5 L525.23 530.66 L522.54 530.83 L520.59 531.01 L519.21 531.2 L518.23 531.4 L517.48 531.59 L516.8 531.78 L516.03 531.96 L515 532.11 L513.54 532.24 L511.74 532.34 L509.79 532.42 L507.68 532.49 L505.43 532.54 L503.03 532.57 L500.49 532.6 L497.81 532.61 L495 532.61 L491.89 532.59 L488.4 532.53 L484.69 532.45 L480.88 532.36 L477.11 532.28 L473.53 532.22 L470.26 532.21 L467.46 532.24 L465.09 532.31 L463 532.39 L461.17 532.5 L459.56 532.64 L458.12 532.82 L456.83 533.04 L455.65 533.31 L454.53 533.65 L453.48 534.1 L452.51 534.68 L451.66 535.35 L450.95 536.05 L450.41 536.72 L450.06 537.32 L449.92 537.78 L450.04 538.05 L450.46 538.13 L451.18 538.06 L452.15 537.88 L453.3 537.6 L454.57 537.27 L455.9 536.92 L457.22 536.58 L458.47 536.27 L459.59 535.97 L460.62 535.61 L461.64 535.23 L462.72 534.85 L463.93 534.48 L465.36 534.14 L467.07 533.85 L469.15 533.65 L471.7 533.51 L474.71 533.43 L478.05 533.4 L481.58 533.4 L485.17 533.43 L488.69 533.49 L492.01 533.57 L495 533.65 L497.72 533.75 L500.33 533.9 L502.83 534.08 L505.22 534.27 L507.49 534.46 L509.63 534.65 L511.65 534.82 L513.54 534.96 L515.24 535.04 L516.71 535.08 L518.03 535.09 L519.23 535.09 L520.4 535.12 L521.58 535.18 L522.83 535.31 L524.22 535.52 L525.74 535.82 L527.33 536.19 L528.98 536.61 L530.65 537.08 L532.33 537.58 L533.98 538.1 L535.6 538.64 L537.15 539.18 L538.63 539.75 L540.06 540.37 L541.46 541.01 L542.84 541.68 L544.21 542.34 L545.58 542.98 L546.97 543.59 L548.39 544.15 L549.85 544.7 L551.35 545.26 L552.86 545.81 L554.38 546.33 L555.88 546.8 L557.36 547.19 L558.81 547.47 L560.19 547.62 L561.51 547.62 L562.77 547.48 L564 547.23 L565.2 546.9 L566.38 546.52 L567.57 546.14 L568.78 545.77 L570.02 545.46 L571.23 545.21 L572.35 544.97 L573.45 544.74 L574.57 544.51 L575.78 544.26 L577.12 543.99 L578.65 543.67 L580.42 543.31 L582.45 542.86 L584.7 542.34 L587.12 541.76 L589.68 541.17 L592.35 540.58 L595.09 540.03 L597.87 539.56 L600.65 539.18 L603.57 538.93 L606.7 538.79 L609.95 538.73 L613.23 538.71 L616.45 538.68 L619.52 538.62 L622.34 538.49 L624.82 538.24 L626.96 537.91 L628.85 537.55 L630.52 537.14 L632.02 536.68 L633.4 536.16 L634.69 535.58 L635.93 534.93 L637.18 534.21 L638.38 533.47 L639.47 532.74 L640.46 531.98 L641.4 531.14 L642.3 530.18 L643.19 529.04 L644.1 527.68 L645.05 526.05 L646.03 524.22 L647.01 522.26 L647.98 520.14 L648.95 517.81 L649.93 515.25 L650.91 512.42 L651.91 509.27 L652.92 505.79 L653.95 501.9 L655 497.64 L656.06 493.04 L657.13 488.19 L658.21 483.13 L659.27 477.92 L660.32 472.64 L661.35 467.33 L662.37 461.97 L663.4 456.5 L664.42 450.9 L665.42 445.19 L666.42 439.34 L667.38 433.36 L668.32 427.25 L669.22 420.99 L670.11 414.17 L671.03 406.59 L671.93 398.63 L672.8 390.66 L673.61 383.05 L674.33 376.18 L674.93 370.41 L675.4 366.12" fill="none" stroke="#ff1a1a" stroke-width="1.6" stroke-linejoin="round" stroke-linecap="round" />
<text x="563.1" y="617.6" font-family='"Liberation Sans", sans-serif' font-size="12.6" font-weight="bold" text-anchor="middle" fill="#000" >Potential / (V)</text>
<text x="0" y="0" font-family='"Liberation Sans", sans-serif' font-size="12.6" font-weight="bold" text-anchor="middle" fill="#000" transform="translate(391.9 459.9) rotate(-90)">Current / (mA)</text>
<text x="438.5" y="370.5" font-family='"Liberation Sans", sans-serif' font-size="12.3" font-weight="bold" text-anchor="start" fill="#000" >Current: 100 μA</text>
<text x="438.5" y="386.1" font-family='"Liberation Sans", sans-serif' font-size="12.3" font-weight="bold" text-anchor="start" fill="#000" >0.1 M TBAPF<tspan dy="3" font-size="8.5">6</tspan></text>
<text x="363.8" y="341" font-family='"Liberation Serif", serif' font-size="19.2" font-weight="bold" text-anchor="start" fill="#000" >(D)</text>
<path d="M93.08 681.3V939.2M133.76 681.3V939.2M174.44 681.3V939.2M215.12 681.3V939.2M255.8 681.3V939.2M296.48 681.3V939.2M52.4 902.36H337.2M52.4 865.52H337.2M52.4 828.68H337.2M52.4 791.84H337.2M52.4 755H337.2M52.4 718.16H337.2" stroke="#d0d0d0" stroke-width="1" stroke-dasharray="3.5 3" fill="none"/>
<rect x="52.4" y="681.3" width="284.8" height="257.9" fill="none" stroke="#222" stroke-width="1.3"/>
<path d="M52.4 939.2v4M93.08 939.2v4M133.76 939.2v4M174.44 939.2v4M215.12 939.2v4M255.8 939.2v4M296.48 939.2v4M337.16 939.2v4M72.74 939.2v2.5M113.42 939.2v2.5M154.1 939.2v2.5M194.78 939.2v2.5M235.46 939.2v2.5M276.14 939.2v2.5M316.82 939.2v2.5M52.4 939.2h-4M52.4 902.36h-4M52.4 865.52h-4M52.4 828.68h-4M52.4 791.84h-4M52.4 755h-4M52.4 718.16h-4M52.4 681.32h-4M52.4 920.78h-2.5M52.4 883.94h-2.5M52.4 847.1h-2.5M52.4 810.26h-2.5M52.4 773.42h-2.5M52.4 736.58h-2.5M52.4 699.74h-2.5" stroke="#222" stroke-width="1.1" fill="none"/>
<text x="52.4" y="956.5" font-family='"Liberation Sans", sans-serif' font-size="10.5" font-weight="bold" text-anchor="middle" fill="#000" >200</text>
<text x="93.08" y="956.5" font-family='"Liberation Sans", sans-serif' font-size="10.5" font-weight="bold" text-anchor="middle" fill="#000" >300</text>
<text x="133.76" y="956.5" font-family='"Liberation Sans", sans-serif' font-size="10.5" font-weight="bold" text-anchor="middle" fill="#000" >400</text>
<text x="174.44" y="956.5" font-family='"Liberation Sans", sans-serif' font-size="10.5" font-weight="bold" text-anchor="middle" fill="#000" >500</text>
<text x="215.12" y="956.5" font-family='"Liberation Sans", sans-serif' font-size="10.5" font-weight="bold" text-anchor="middle" fill="#000" >600</text>
<text x="255.8" y="956.5" font-family='"Liberation Sans", sans-serif' font-size="10.5" font-weight="bold" text-anchor="middle" fill="#000" >700</text>
<text x="296.48" y="956.5" font-family='"Liberation Sans", sans-serif' font-size="10.5" font-weight="bold" text-anchor="middle" fill="#000" >800</text>
<text x="337.16" y="956.5" font-family='"Liberation Sans", sans-serif' font-size="10.5" font-weight="bold" text-anchor="middle" fill="#000" >900</text>
<text x="44" y="943" font-family='"Liberation Sans", sans-serif' font-size="10.5" font-weight="bold" text-anchor="end" fill="#000" >0.3</text>
<text x="44" y="906.16" font-family='"Liberation Sans", sans-serif' font-size="10.5" font-weight="bold" text-anchor="end" fill="#000" >0.4</text>
<text x="44" y="869.32" font-family='"Liberation Sans", sans-serif' font-size="10.5" font-weight="bold" text-anchor="end" fill="#000" >0.5</text>
<text x="44" y="832.48" font-family='"Liberation Sans", sans-serif' font-size="10.5" font-weight="bold" text-anchor="end" fill="#000" >0.6</text>
<text x="44" y="795.64" font-family='"Liberation Sans", sans-serif' font-size="10.5" font-weight="bold" text-anchor="end" fill="#000" >0.7</text>
<text x="44" y="758.8" font-family='"Liberation Sans", sans-serif' font-size="10.5" font-weight="bold" text-anchor="end" fill="#000" >0.8</text>
<text x="44" y="721.96" font-family='"Liberation Sans", sans-serif' font-size="10.5" font-weight="bold" text-anchor="end" fill="#000" >0.9</text>
<text x="44" y="685.12" font-family='"Liberation Sans", sans-serif' font-size="10.5" font-weight="bold" text-anchor="end" fill="#000" >1.0</text>
<clipPath id="clipE"><rect x="52.4" y="681.3" width="284.8" height="257.9"/></clipPath>
<g clip-path="url(#clipE)">
<path d="M85.76 939.2 L86.39 930.37 L87.02 925.74 L87.65 923.44 L88.28 921.87 L88.91 920.75 L89.54 919.88 L90.17 919.2 L90.8 918.62 L91.43 918.09 L92.06 917.52 L92.69 916.86 L93.32 916.17 L93.95 915.47 L94.58 914.72 L95.21 913.88 L95.84 912.91 L96.47 911.83 L97.1 910.64 L97.73 909.38 L98.36 908.05 L98.99 906.68 L99.62 905.3 L100.25 903.92 L100.88 902.56 L101.51 901.21 L102.14 899.85 L102.77 898.46 L103.4 897.06 L104.03 895.64 L104.66 894.21 L105.29 892.76 L105.92 891.3 L106.55 889.83 L107.18 888.28 L107.81 886.53 L108.44 884.69 L109.07 882.9 L109.7 881.29 L110.33 879.99 L110.96 879.13 L111.59 878.52 L112.22 877.97 L112.85 877.5 L113.48 877.16 L114.11 876.97 L114.74 876.97 L115.37 877.22 L116 877.68 L116.63 878.29 L117.26 879.01 L117.89 879.78 L118.52 880.84 L119.15 882.41 L119.78 884.12 L120.41 885.6 L121.04 886.56 L121.67 887.4 L122.3 888.22 L122.93 888.98 L123.56 889.67 L124.19 890.27 L124.82 890.75 L125.45 891.09 L126.08 891.28 L126.71 891.3 L127.34 891.18 L127.97 890.95 L128.6 890.63 L129.23 890.23 L129.86 889.78 L130.49 889.28 L131.12 888.77 L131.75 888.25 L132.38 887.74 L133.01 887.26 L133.64 886.83 L134.27 886.42 L134.9 886 L135.53 885.57 L136.16 885.14 L136.79 884.71 L137.42 884.27 L138.05 883.83 L138.68 883.4 L139.31 882.97 L139.94 882.54 L140.57 882.11 L141.2 881.69 L141.83 881.29 L142.46 880.89 L143.09 880.5 L143.73 880.11 L144.36 879.72 L144.99 879.34 L145.62 878.95 L146.25 878.56 L146.88 878.16 L147.51 877.75 L148.14 877.34 L148.77 876.91 L149.4 876.47 L150.03 876.01 L150.66 875.53 L151.29 875.04 L151.92 874.51 L152.55 873.93 L153.18 873.33 L153.81 872.69 L154.44 872.03 L155.07 871.35 L155.7 870.67 L156.33 869.98 L156.96 869.3 L157.59 868.62 L158.22 867.96 L158.85 867.33 L159.48 866.72 L160.11 866.15 L160.74 865.61 L161.37 865.1 L162 864.6 L162.63 864.13 L163.26 863.66 L163.89 863.21 L164.52 862.76 L165.15 862.32 L165.78 861.88 L166.41 861.45 L167.04 861.01 L167.67 860.57 L168.3 860.12 L168.93 859.67 L169.56 859.2 L170.19 858.72 L170.82 858.24 L171.45 857.76 L172.08 857.28 L172.71 856.8 L173.34 856.32 L173.97 855.84 L174.6 855.37 L175.23 854.88 L175.86 854.4 L176.49 853.92 L177.12 853.43 L177.75 852.94 L178.38 852.44 L179.01 851.94 L179.64 851.43 L180.27 850.92 L180.9 850.4 L181.53 849.88 L182.16 849.34 L182.79 848.8 L183.42 848.25 L184.05 847.68 L184.68 847.11 L185.31 846.53 L185.94 845.94 L186.57 845.33 L187.2 844.71 L187.83 844.07 L188.46 843.42 L189.09 842.75 L189.72 842.07 L190.35 841.37 L190.98 840.66 L191.61 839.94 L192.24 839.2 L192.87 838.46 L193.5 837.7 L194.13 836.93 L194.76 836.16 L195.39 835.38 L196.02 834.59 L196.65 833.79 L197.28 832.99 L197.91 832.18 L198.54 831.36 L199.17 830.54 L199.8 829.72 L200.43 828.9 L201.06 828.07 L201.69 827.22 L202.32 826.32 L202.95 825.4 L203.58 824.45 L204.21 823.47 L204.84 822.48 L205.47 821.47 L206.1 820.45 L206.73 819.43 L207.36 818.4 L207.99 817.38 L208.62 816.37 L209.25 815.36 L209.88 814.38 L210.51 813.41 L211.14 812.47 L211.77 811.55 L212.4 810.67 L213.03 809.83 L213.66 809.03 L214.29 808.27 L214.92 807.57 L215.55 806.92 L216.18 806.3 L216.81 805.7 L217.44 805.11 L218.07 804.53 L218.7 803.97 L219.33 803.42 L219.96 802.88 L220.59 802.35 L221.23 801.83 L221.86 801.33 L222.49 800.83 L223.12 800.35 L223.75 799.87 L224.38 799.41 L225.01 798.95 L225.64 798.51 L226.27 798.07 L226.9 797.64 L227.53 797.22 L228.16 796.81 L228.79 796.41 L229.42 796.01 L230.05 795.62 L230.68 795.23 L231.31 794.85 L231.94 794.48 L232.57 794.12 L233.2 793.76 L233.83 793.4 L234.46 793.05 L235.09 792.7 L235.72 792.36 L236.35 792.03 L236.98 791.7 L237.61 791.38 L238.24 791.06 L238.87 790.75 L239.5 790.44 L240.13 790.14 L240.76 789.84 L241.39 789.54 L242.02 789.25 L242.65 788.97 L243.28 788.68 L243.91 788.41 L244.54 788.13 L245.17 787.86 L245.8 787.59 L246.43 787.33 L247.06 787.06 L247.69 786.8 L248.32 786.55 L248.95 786.29 L249.58 786.04 L250.21 785.79 L250.84 785.54 L251.47 785.29 L252.1 785.04 L252.73 784.8 L253.36 784.56 L253.99 784.31 L254.62 784.07 L255.25 783.83 L255.88 783.59 L256.51 783.35 L257.14 783.11 L257.77 782.87 L258.4 782.62 L259.03 782.36 L259.66 782.1 L260.29 781.83 L260.92 781.55 L261.55 781.27 L262.18 780.99 L262.81 780.71 L263.44 780.42 L264.07 780.13 L264.7 779.85 L265.33 779.56 L265.96 779.28 L266.59 779 L267.22 778.72 L267.85 778.45 L268.48 778.18 L269.11 777.92 L269.74 777.67 L270.37 777.42 L271 777.18 L271.63 776.96 L272.26 776.74 L272.89 776.53 L273.52 776.34 L274.15 776.16 L274.78 775.99 L275.41 775.84 L276.04 775.71 L276.67 775.59 L277.3 775.48 L277.93 775.4 L278.56 775.34 L279.19 775.29 L279.82 775.27 L280.45 775.26 L281.08 775.27 L281.71 775.28 L282.34 775.29 L282.97 775.31 L283.6 775.33 L284.23 775.35 L284.86 775.38 L285.49 775.41 L286.12 775.45 L286.75 775.49 L287.38 775.53 L288.01 775.57 L288.64 775.61 L289.27 775.65 L289.9 775.7 L290.53 775.74 L291.16 775.79 L291.79 775.84 L292.42 775.88 L293.05 775.93 L293.68 775.97 L294.31 776.02 L294.94 776.07 L295.57 776.12 L296.2 776.19 L296.83 776.25 L297.46 776.32 L298.09 776.4 L298.73 776.48 L299.36 776.56 L299.99 776.65 L300.62 776.74 L301.25 776.83 L301.88 776.92 L302.51 777.02 L303.14 777.11 L303.77 777.21 L304.4 777.31 L305.03 777.41 L305.66 777.51 L306.29 777.61 L306.92 777.71 L307.55 777.8 L308.18 777.9 L308.81 777.99 L309.44 778.08 L310.07 778.17 L310.7 778.26 L311.33 778.34 L311.96 778.42 L312.59 778.49 L313.22 778.57 L313.85 778.63 L314.48 778.69 L315.11 778.75 L315.74 778.8 L316.37 778.84 L317 778.87 L317.63 778.9 L318.26 778.93 L318.89 778.94 L319.52 778.95 L320.15 778.95 L320.78 778.94 L321.41 778.94 L322.04 778.94 L322.67 778.93 L323.3 778.93 L323.93 778.92 L324.56 778.91 L325.19 778.9 L325.82 778.89 L326.45 778.87 L327.08 778.85 L327.71 778.83 L328.34 778.81 L328.97 778.79 L329.6 778.76 L330.23 778.73 L330.86 778.7 L331.49 778.67 L332.12 778.63 L332.75 778.59 L333.38 778.54 L334.01 778.5 L334.64 778.45 L335.27 778.39 L335.9 778.33 L336.53 778.27 L337.16 778.21" fill="none" stroke="#ff1010" stroke-width="2.4" stroke-linejoin="round" stroke-linecap="round" />
<path d="M81 939.2 L81.5 927.27 L82 917.04 L82.5 909.02 L83 903.32 L83.49 898.78 L83.99 895.58 L84.49 893.64 L84.99 892.05 L85.49 891.09 L85.99 890.96 L86.49 891.1 L86.99 891.36 L87.49 891.7 L87.99 892.09 L88.49 892.48 L88.99 892.99 L89.49 893.65 L89.98 894.42 L90.48 895.26 L90.98 896.13 L91.48 896.99 L91.98 897.8 L92.48 898.53 L92.98 899.18 L93.48 899.82 L93.98 900.46 L94.48 901.09 L94.98 901.71 L95.48 902.31 L95.98 902.87 L96.48 903.41 L96.97 903.91 L97.47 904.36 L97.97 904.77 L98.47 905.13 L98.97 905.48 L99.47 905.83 L99.97 906.16 L100.47 906.48 L100.97 906.79 L101.47 907.06 L101.97 907.31 L102.47 907.52 L102.97 907.69 L103.47 907.82 L103.96 907.89 L104.46 907.95 L104.96 908 L105.46 908.04 L105.96 908.08 L106.46 908.11 L106.96 908.14 L107.46 908.16 L107.96 908.19 L108.46 908.21 L108.96 908.22 L109.46 908.24 L109.96 908.26 L110.46 908.27 L110.95 908.29 L111.45 908.3 L111.95 908.32 L112.45 908.34 L112.95 908.36 L113.45 908.38 L113.95 908.41 L114.45 908.44 L114.95 908.47 L115.45 908.51 L115.95 908.56 L116.45 908.61 L116.95 908.67 L117.44 908.78 L117.94 908.93 L118.44 909.1 L118.94 909.31 L119.44 909.54 L119.94 909.78 L120.44 910.03 L120.94 910.29 L121.44 910.55 L121.94 910.8 L122.44 911.04 L122.94 911.27 L123.44 911.47 L123.94 911.65 L124.43 911.82 L124.93 911.99 L125.43 912.15 L125.93 912.32 L126.43 912.48 L126.93 912.63 L127.43 912.79 L127.93 912.94 L128.43 913.09 L128.93 913.24 L129.43 913.39 L129.93 913.53 L130.43 913.67 L130.93 913.81 L131.42 913.95 L131.92 914.09 L132.42 914.22 L132.92 914.35 L133.42 914.49 L133.92 914.62 L134.42 914.74 L134.92 914.87 L135.42 915 L135.92 915.13 L136.42 915.28 L136.92 915.42 L137.42 915.57 L137.92 915.72 L138.41 915.86 L138.91 916.01 L139.41 916.15 L139.91 916.29 L140.41 916.42 L140.91 916.55 L141.41 916.66 L141.91 916.77 L142.41 916.86 L142.91 916.94 L143.41 917 L143.91 917.05 L144.41 917.08 L144.9 917.1 L145.4 917.09 L145.9 917.06 L146.4 917.01 L146.9 916.95 L147.4 916.87 L147.9 916.77 L148.4 916.66 L148.9 916.54 L149.4 916.41 L149.9 916.27 L150.4 916.12 L150.9 915.96 L151.4 915.8 L151.89 915.63 L152.39 915.42 L152.89 915.13 L153.39 914.78 L153.89 914.38 L154.39 913.93 L154.89 913.44 L155.39 912.91 L155.89 912.37 L156.39 911.81 L156.89 911.24 L157.39 910.68 L157.89 910.13 L158.39 909.59 L158.88 909.09 L159.38 908.6 L159.88 908.12 L160.38 907.64 L160.88 907.17 L161.38 906.69 L161.88 906.22 L162.38 905.74 L162.88 905.26 L163.38 904.78 L163.88 904.3 L164.38 903.81 L164.88 903.32 L165.38 902.82 L165.87 902.32 L166.37 901.82 L166.87 901.3 L167.37 900.78 L167.87 900.25 L168.37 899.72 L168.87 899.17 L169.37 898.62 L169.87 898.05 L170.37 897.48 L170.87 896.9 L171.37 896.31 L171.87 895.73 L172.37 895.14 L172.86 894.54 L173.36 893.94 L173.86 893.33 L174.36 892.71 L174.86 892.09 L175.36 891.46 L175.86 890.82 L176.36 890.17 L176.86 889.52 L177.36 888.85 L177.86 888.17 L178.36 887.48 L178.86 886.79 L179.35 886.07 L179.85 885.35 L180.35 884.62 L180.85 883.87 L181.35 883.1 L181.85 882.33 L182.35 881.53 L182.85 880.73 L183.35 879.9 L183.85 879.06 L184.35 878.19 L184.85 877.29 L185.35 876.36 L185.85 875.39 L186.34 874.39 L186.84 873.36 L187.34 872.31 L187.84 871.23 L188.34 870.13 L188.84 869.01 L189.34 867.87 L189.84 866.71 L190.34 865.53 L190.84 864.33 L191.34 863.13 L191.84 861.91 L192.34 860.68 L192.84 859.45 L193.33 858.2 L193.83 856.95 L194.33 855.7 L194.83 854.45 L195.33 853.19 L195.83 851.94 L196.33 850.69 L196.83 849.45 L197.33 848.21 L197.83 846.98 L198.33 845.76 L198.83 844.55 L199.33 843.36 L199.83 842.18 L200.32 841.01 L200.82 839.86 L201.32 838.73 L201.82 837.6 L202.32 836.47 L202.82 835.35 L203.32 834.22 L203.82 833.1 L204.32 831.98 L204.82 830.86 L205.32 829.75 L205.82 828.63 L206.32 827.52 L206.81 826.4 L207.31 825.29 L207.81 824.18 L208.31 823.07 L208.81 821.96 L209.31 820.84 L209.81 819.73 L210.31 818.62 L210.81 817.51 L211.31 816.4 L211.81 815.28 L212.31 814.17 L212.81 813.05 L213.31 811.93 L213.8 810.82 L214.3 809.7 L214.8 808.57 L215.3 807.45 L215.8 806.32 L216.3 805.19 L216.8 804.06 L217.3 802.92 L217.8 801.78 L218.3 800.63 L218.8 799.48 L219.3 798.33 L219.8 797.18 L220.3 796.02 L220.79 794.86 L221.29 793.7 L221.79 792.55 L222.29 791.39 L222.79 790.23 L223.29 789.07 L223.79 787.91 L224.29 786.75 L224.79 785.59 L225.29 784.43 L225.79 783.28 L226.29 782.13 L226.79 780.98 L227.29 779.83 L227.78 778.69 L228.28 777.55 L228.78 776.41 L229.28 775.28 L229.78 774.15 L230.28 773.03 L230.78 771.91 L231.28 770.8 L231.78 769.69 L232.28 768.59 L232.78 767.5 L233.28 766.42 L233.78 765.34 L234.27 764.27 L234.77 763.2 L235.27 762.14 L235.77 761.09 L236.27 760.04 L236.77 759 L237.27 757.95 L237.77 756.92 L238.27 755.88 L238.77 754.85 L239.27 753.83 L239.77 752.81 L240.27 751.79 L240.77 750.77 L241.26 749.76 L241.76 748.75 L242.26 747.75 L242.76 746.74 L243.26 745.74 L243.76 744.75 L244.26 743.75 L244.76 742.76 L245.26 741.77 L245.76 740.79 L246.26 739.8 L246.76 738.82 L247.26 737.84 L247.76 736.86 L248.25 735.88 L248.75 734.91 L249.25 733.94 L249.75 732.97 L250.25 732 L250.75 731.03 L251.25 730.06 L251.75 729.09 L252.25 728.13 L252.75 727.17 L253.25 726.2 L253.75 725.24 L254.25 724.28 L254.75 723.32 L255.24 722.36 L255.74 721.4 L256.24 720.44 L256.74 719.48 L257.24 718.52 L257.74 717.56 L258.24 716.6 L258.74 715.64 L259.24 714.69 L259.74 713.73 L260.24 712.78 L260.74 711.83 L261.24 710.88 L261.73 709.93 L262.23 708.98 L262.73 708.04 L263.23 707.09 L263.73 706.15 L264.23 705.2 L264.73 704.26 L265.23 703.32 L265.73 702.39 L266.23 701.45 L266.73 700.51 L267.23 699.58 L267.73 698.65 L268.23 697.72 L268.72 696.79 L269.22 695.86 L269.72 694.93 L270.22 694.01 L270.72 693.08 L271.22 692.16 L271.72 691.24 L272.22 690.32 L272.72 689.4 L273.22 688.48 L273.72 687.57 L274.22 686.65 L274.72 685.74 L275.22 684.83 L275.71 683.92 L276.21 683.01 L276.71 682.1 L277.21 681.2 L277.71 680.29 L278.21 679.39 L278.71 678.49 L279.21 677.59 L279.71 676.69 L280.21 675.79" fill="none" stroke="#0a0aa8" stroke-width="2.4" stroke-linejoin="round" stroke-linecap="round" />
</g>
<rect x="54" y="687" width="198" height="37" fill="#fff"/>
<rect x="77.1" y="872.3" width="74.1" height="60.3" fill="none" stroke="#000" stroke-width="1.8"/>
<path d="M57 697.1H79" stroke="#ff1010" stroke-width="2.6" stroke-linecap="round"/>
<path d="M57 714.6H79" stroke="#0a0aa8" stroke-width="2.6" stroke-linecap="round"/>
<text x="84.2" y="701.4" font-family='"Liberation Sans", sans-serif' font-size="11.5" font-weight="bold" text-anchor="start" fill="#000" >Berberine - EDOT Co-Polymer</text>
<text x="84.2" y="718.9" font-family='"Liberation Sans", sans-serif' font-size="11.5" font-weight="bold" text-anchor="start" fill="#000" >PEDOT (EDOT 10 mM)</text>
<text transform="translate(194.9 981.7) scale(1.09 1)" font-family='"Liberation Sans", sans-serif' font-size="12.2" font-weight="bold" text-anchor="middle" fill="#000">Wavelength/(nm)</text>
<text x="0" y="0" font-family='"Liberation Sans", sans-serif' font-size="12.2" font-weight="bold" text-anchor="middle" fill="#000" transform="translate(19.3 810.2) rotate(-90) scale(1.0 1)">Absorbance</text>
<text x="0.4" y="662.5" font-family='"Liberation Serif", serif' font-size="19.2" font-weight="bold" text-anchor="start" fill="#000" >(E)</text>
<path d="M430.5 677V941.3M478.7 677V941.3M526.9 677V941.3M575.1 677V941.3M623.3 677V941.3M671.5 677V941.3M415.5 887.5H707.1M415.5 807.25H707.1M415.5 727H707.1" stroke="#d0d0d0" stroke-width="1" stroke-dasharray="3.5 3" fill="none"/>
<rect x="415.5" y="677" width="291.6" height="264.3" fill="none" stroke="#222" stroke-width="1.3"/>
<path d="M430.5 941.3v4M478.7 941.3v4M526.9 941.3v4M575.1 941.3v4M623.3 941.3v4M671.5 941.3v4M454.6 941.3v2.5M502.8 941.3v2.5M551 941.3v2.5M599.2 941.3v2.5M647.4 941.3v2.5M695.61 941.3v2.5M415.5 887.5h-4M415.5 807.25h-4M415.5 727h-4M415.5 927.62h-2.5M415.5 847.38h-2.5M415.5 767.12h-2.5M415.5 686.88h-2.5" stroke="#222" stroke-width="1.1" fill="none"/>
<text x="430.5" y="959" font-family='"Liberation Sans", sans-serif' font-size="10.5" font-weight="bold" text-anchor="middle" fill="#000" >270</text>
<text x="478.7" y="959" font-family='"Liberation Sans", sans-serif' font-size="10.5" font-weight="bold" text-anchor="middle" fill="#000" >300</text>
<text x="526.9" y="959" font-family='"Liberation Sans", sans-serif' font-size="10.5" font-weight="bold" text-anchor="middle" fill="#000" >330</text>
<text x="575.1" y="959" font-family='"Liberation Sans", sans-serif' font-size="10.5" font-weight="bold" text-anchor="middle" fill="#000" >360</text>
<text x="623.3" y="959" font-family='"Liberation Sans", sans-serif' font-size="10.5" font-weight="bold" text-anchor="middle" fill="#000" >390</text>
<text x="671.5" y="959" font-family='"Liberation Sans", sans-serif' font-size="10.5" font-weight="bold" text-anchor="middle" fill="#000" >420</text>
<text x="406.5" y="891.3" font-family='"Liberation Sans", sans-serif' font-size="10.5" font-weight="bold" text-anchor="end" fill="#000" >0.35</text>
<text x="406.5" y="811.05" font-family='"Liberation Sans", sans-serif' font-size="10.5" font-weight="bold" text-anchor="end" fill="#000" >0.40</text>
<text x="406.5" y="730.8" font-family='"Liberation Sans", sans-serif' font-size="10.5" font-weight="bold" text-anchor="end" fill="#000" >0.45</text>
<clipPath id="clipF"><rect x="415.5" y="677" width="291.6" height="264.3"/></clipPath>
<g clip-path="url(#clipF)">
<path d="M453.48 940.62 L452.86 938.38 L452.85 937.07 L453.13 934.79 L453.36 932.4 L453.04 930.24 L454.29 927.77 L454.21 924.23 L454.27 921.05 L455.31 918.52 L454.71 916.32 L456.33 913.99 L455.67 911.07 L456.91 908.61 L456.82 905.91 L458.06 904.04 L457.73 900.57 L458.51 897.51 L459.03 895.74 L460.51 894.03 L459.81 892.54 L460.9 890.25 L461.3 889.45 L461.66 888.69 L461.53 887.78 L463.49 887.5 L464.04 887.01 L464.74 885.68 L465 884.88 L464.94 884.29 L466.32 884.76 L466.44 884.2 L466.93 882.96 L468.04 881.87 L468.94 882.29 L469.07 881.29 L470.27 880.98 L471.39 879.98 L472.3 879.22 L472.23 878.99 L473.1 877.95 L474.88 876.98 L475.6 877.15 L476.49 875.94 L476.17 875.42 L478.2 875.08 L479.02 874.84 L480.15 874.05 L481.64 873.05 L482.08 873.24 L483.43 871 L483.76 870.44 L485.04 868.93 L484.89 867.14 L486.03 865.91 L486.1 864.06 L486.73 862.65 L487.2 860.81 L488.51 859.04 L488.4 857.58 L489.16 855.55 L489.87 853.1 L491.07 852.1 L491.73 850.37 L492.28 848.27 L493.32 847.44 L494.59 844.82 L495.3 843.04 L495.67 841.71 L496.46 839 L497.09 837.78 L498.34 836.35 L498.72 834.35 L499.98 832.24 L500.91 830.64 L500.89 828.99 L501.48 826.75 L502.82 824.93 L503.3 822.76 L504.41 821.03 L505.01 818.51 L506.21 815.72 L508.53 813.71 L507.69 811.7 L508.94 808.73 L510.9 805.72 L511.42 803.08 L512.66 800.03 L513.27 797.89 L515.38 795.56 L516.75 793.05 L516.81 790.29 L517.2 787.55 L518.74 785.56 L520.58 782.86 L521.1 780.13 L522.38 778.37 L523.68 775.63 L525.39 773.94 L525.44 770.95 L526.28 768.78 L527.3 766.5 L528.51 764.42 L529.49 761.52 L529.93 759.04 L530.25 757.46 L531.06 755.1 L531.85 752.08 L533.25 749.58 L533.69 747.04 L534.08 744.6 L534.79 742.67 L535.79 740.02 L535.44 736.67 L537.69 733.78 L538.71 731.34 L538.88 728.55 L541.06 725.87 L540.72 723.16 L541.43 720.58 L542.08 719.84 L543.44 717.37 L544.26 716.14 L544.84 714.7 L545.86 712.66 L546.96 710.53 L546.73 710.29 L547.39 709.06 L548.31 707.86 L550.62 707.32 L550.17 706.6 L550.89 705.51 L551.94 704.91 L551.93 703.8 L553.41 702.39 L554.63 701.82 L555.66 701.69 L556.03 701 L556.91 699.83 L557.32 699.85 L558.07 699.81 L558.86 699.42 L559.64 699.44 L560.43 698.8 L561.21 699.67 L562 699.82 L562.78 698.99 L563.57 699.15 L564.36 699.4 L565.15 699.93 L565.94 700.38 L566.74 699.55 L567.27 699.9 L567.85 700.03 L569.32 700.58 L570.64 701.74 L570.31 701.55 L571.3 702.95 L572 702.56 L573.16 703.9 L573.68 705.1 L574.89 705.53 L575.22 706.28 L576.36 706.48 L577.39 707.7 L578.07 708.93 L579.8 710.73 L580.07 712.16 L579.85 712.31 L581.02 714.73 L581.89 716.04 L582.9 716.67 L583.16 719.41 L583.29 719.62 L583.93 721.83 L584.69 723.38 L585.01 724.62 L585.84 727.64 L586.55 728.2 L586.67 729.27 L587.28 731.79 L587.39 733.37 L588.63 734.99 L589.38 736.14 L589.24 737.01 L590.71 738.84 L591.75 740.55 L592.19 741.17 L593.53 742.37 L594.45 743.38 L595.67 744.54 L596.33 745.66 L597.32 746.16 L597.71 747.42 L598.41 748.86 L598.62 748.81 L599.5 750.14 L599.89 750.81 L600.92 751.06 L602.06 752.23 L602.62 752.51 L603.49 753.12 L602.85 753.56 L604.59 754.53 L605.93 754.78 L605.5 754.55 L605.95 755.46 L606.94 755.12 L606.98 755.92 L608.26 755.88 L607.8 755.65 L608.57 755.71 L609.84 756.3 L610.57 756.28 L610.85 755.88 L611.71 755.6 L613.28 755.38 L612.75 755.07 L614.11 754.36 L614.91 754.93 L616.83 754.11 L617.33 754.35 L617.17 753.51 L618.48 753.14 L618.6 752.47 L620.61 752.52 L621.76 751.43 L622.56 751.25 L621.88 750.75 L623.07 750.15 L623.9 749.89 L624.66 748.97 L625.43 748.88 L625.17 749.03 L625.48 748.17 L625.76 747.65 L626.17 748.5 L626.57 747.4 L627.23 746.53 L629.42 746.17 L629.78 744.66 L631.31 742.84 L633.16 740.95 L635.83 739.37 L638.2 736.8 L639.82 734.4 L642.59 732.21 L645.92 729.63 L648.22 726.22 L651.54 724.88 L653.16 722.23 L657.15 719.64 L660.35 717.74 L662.12 716.19 L665.86 713.34 L669.29 710.77 L672.88 709.07 L675.33 707.15 L678.46 705.57 L680.85 703.54 L683.9 701.08 L686.82 699.27 L689.68 696.95 L692.56 694.95 L695.39 693.51 L698.14 691.14 L700.73 689.7 L703.11 687.71 L705.23 685.66 L707.03 684.04 L708.46 683.42" fill="none" stroke="#ff1010" stroke-width="2.2" stroke-linejoin="round" stroke-linecap="round" />
<path d="M430.5 940.47 L430.78 933.32 L431.13 923.6 L431.56 912 L432.04 899.24 L432.55 886.01 L433.09 873.02 L433.65 860.98 L434.2 850.59 L434.76 841.47 L435.35 832.8 L435.98 824.6 L436.62 816.88 L437.26 809.66 L437.91 802.96 L438.55 796.8 L439.18 791.2 L439.78 786.25 L440.37 781.96 L440.95 778.25 L441.53 775.05 L442.11 772.26 L442.72 769.8 L443.34 767.58 L444 765.52 L444.7 763.71 L445.45 762.26 L446.23 761.14 L447.02 760.3 L447.8 759.72 L448.56 759.35 L449.28 759.16 L449.94 759.1 L450.52 759.32 L451.02 759.92 L451.48 760.78 L451.91 761.81 L452.35 762.9 L452.82 763.95 L453.35 764.86 L453.96 765.52 L454.65 765.9 L455.39 766.07 L456.18 766.12 L457.01 766.12 L457.87 766.15 L458.75 766.27 L459.64 766.57 L460.55 767.12 L461.47 767.92 L462.42 768.89 L463.4 770.01 L464.39 771.24 L465.4 772.56 L466.41 773.93 L467.42 775.34 L468.42 776.75 L469.38 778.16 L470.3 779.59 L471.2 781.05 L472.11 782.57 L473.07 784.17 L474.09 785.86 L475.21 787.66 L476.45 789.6 L477.84 791.74 L479.35 794.11 L480.96 796.63 L482.64 799.23 L484.35 801.82 L486.08 804.34 L487.8 806.71 L489.47 808.86 L491.07 810.78 L492.62 812.55 L494.16 814.21 L495.71 815.78 L497.3 817.28 L498.97 818.75 L500.74 820.21 L502.64 821.69 L504.68 823.24 L506.83 824.84 L509.07 826.45 L511.39 828.01 L513.77 829.49 L516.19 830.84 L518.65 832 L521.12 832.93 L523.64 833.59 L526.26 834.01 L528.94 834.24 L531.64 834.33 L534.35 834.36 L537.02 834.36 L539.64 834.4 L542.17 834.53 L544.65 834.75 L547.15 834.97 L549.63 835.21 L552.06 835.44 L554.4 835.66 L556.64 835.85 L558.73 836.02 L560.64 836.14 L562.34 836.19 L563.85 836.18 L565.2 836.12 L566.44 836.04 L567.62 835.98 L568.78 835.95 L569.98 836 L571.25 836.14 L572.55 836.35 L573.84 836.6 L575.11 836.9 L576.39 837.24 L577.69 837.65 L579.02 838.13 L580.4 838.7 L581.85 839.35 L583.34 840.14 L584.84 841.09 L586.38 842.15 L587.96 843.26 L589.6 844.39 L591.31 845.48 L593.12 846.49 L595.03 847.38 L597.02 848.11 L599.06 848.73 L601.18 849.27 L603.38 849.78 L605.68 850.29 L608.1 850.84 L610.65 851.46 L613.34 852.19 L616.24 853.04 L619.34 853.97 L622.6 854.96 L625.97 856 L629.38 857.06 L632.78 858.13 L636.13 859.19 L639.37 860.22 L642.54 861.25 L645.72 862.33 L648.89 863.44 L652.03 864.53 L655.13 865.58 L658.16 866.57 L661.11 867.47 L663.95 868.24 L666.65 868.93 L669.19 869.57 L671.62 870.15 L674.01 870.65 L676.39 871.05 L678.82 871.32 L681.35 871.47 L684.04 871.45 L687.05 871.2 L690.41 870.7 L693.95 870.02 L697.5 869.24 L700.9 868.44 L703.97 867.69 L706.55 867.06 L708.46 866.63" fill="none" stroke="#0a0aa8" stroke-width="2.2" stroke-linejoin="round" stroke-linecap="round" />
</g>
<text x="548.4" y="692.3" font-family='"Liberation Sans", sans-serif' font-size="11.6" font-weight="bold" text-anchor="start" fill="#000" >351 nm</text>
<text x="435.4" y="753.3" font-family='"Liberation Sans", sans-serif' font-size="11.6" font-weight="bold" text-anchor="start" fill="#000" >282 nm</text>
<text x="553.9" y="805.8" font-family='"Liberation Sans", sans-serif' font-size="11.6" font-weight="bold" text-anchor="start" fill="#000" >357 nm</text>
<text x="517.6" y="879.1" font-family='"Liberation Sans", sans-serif' font-size="11.6" font-weight="bold" text-anchor="start" fill="#000" >299 nm</text>
<path d="M570.5 807.8V828" stroke="#000" stroke-width="1.3"/><path d="M567.2 825.8L570.5 834L573.8 825.8Z" fill="#000"/>
<path d="M512.5 874H489" stroke="#000" stroke-width="1.3"/><path d="M491 871.2L482.9 874L491 876.8Z" fill="#000"/>
<text transform="translate(562 981.7) scale(1.09 1)" font-family='"Liberation Sans", sans-serif' font-size="12.2" font-weight="bold" text-anchor="middle" fill="#000">Wavelength/(nm)</text>
<text x="0" y="0" font-family='"Liberation Sans", sans-serif' font-size="12.2" font-weight="bold" text-anchor="middle" fill="#000" transform="translate(379.6 809) rotate(-90)">Absorbance</text>
<text x="369.9" y="669.2" font-family='"Liberation Serif", serif' font-size="19.2" font-weight="bold" text-anchor="start" fill="#000" >(F)</text>
</svg>
</body></html>
